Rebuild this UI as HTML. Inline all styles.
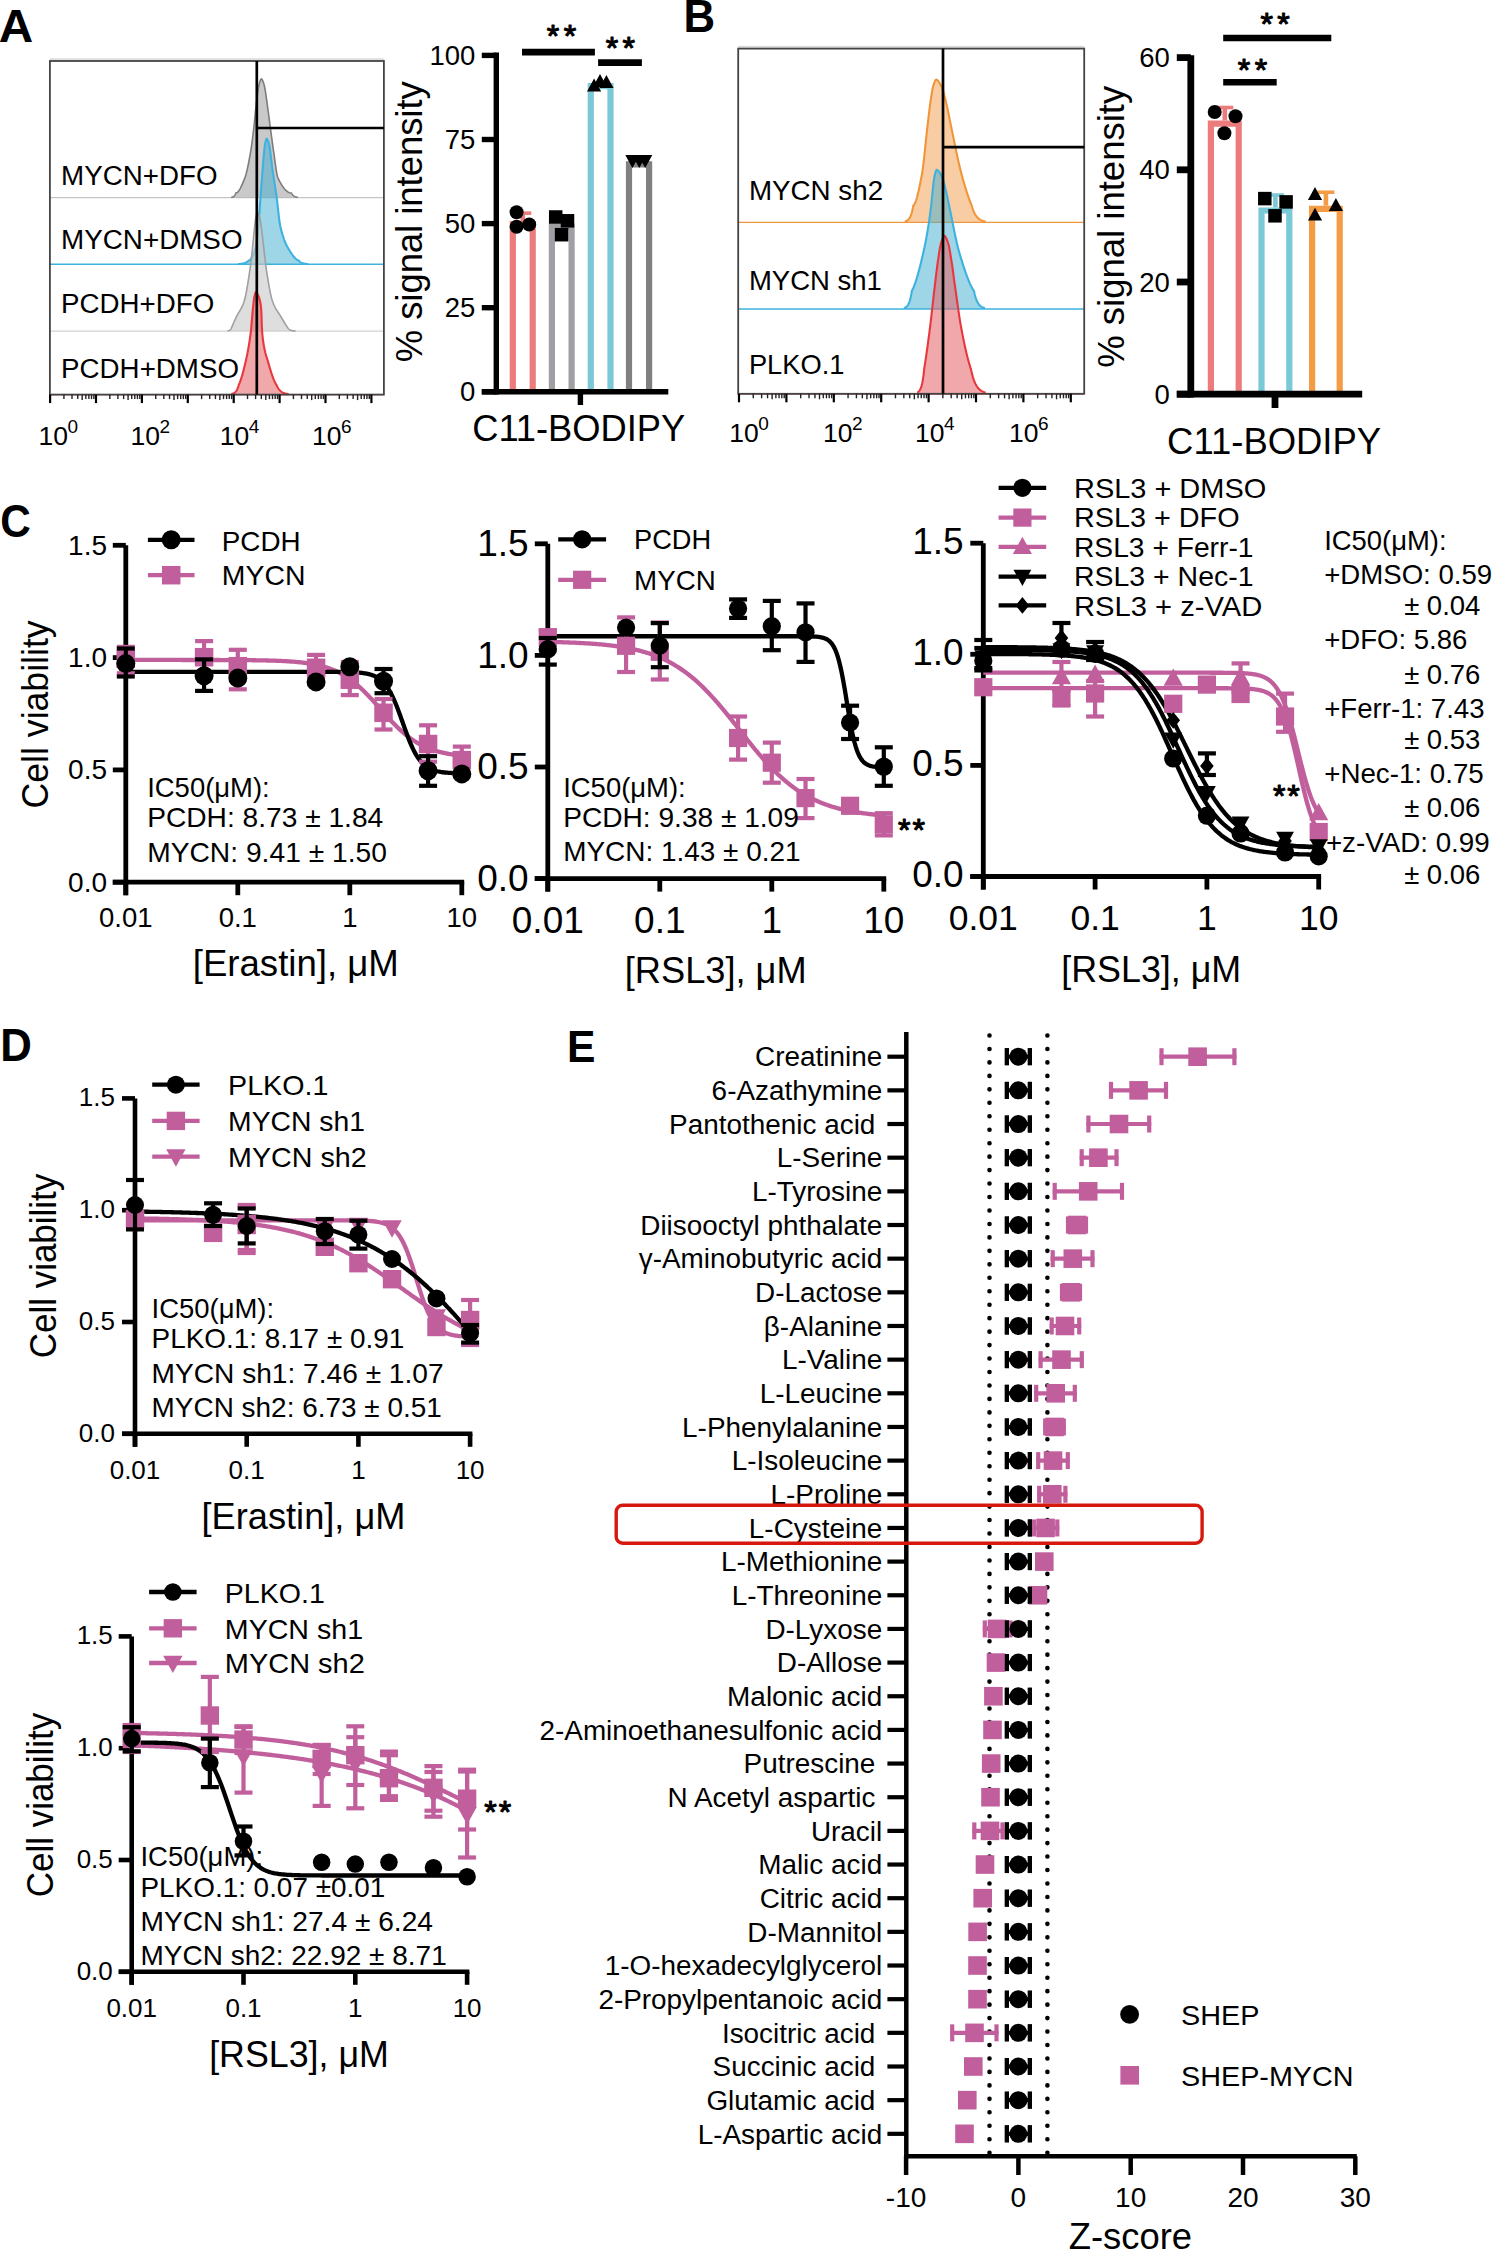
<!DOCTYPE html>
<html><head><meta charset="utf-8"><title>Figure</title>
<style>html,body{margin:0;padding:0;background:#fff;}svg{display:block;}
text{font-family:"Liberation Sans",sans-serif;}</style></head>
<body><svg width="1493" height="2250" viewBox="0 0 1493 2250">
<rect width="1493" height="2250" fill="#fff"/>
<text transform="translate(-1.19,42.23) scale(1.0432,1)" font-size="45.77" font-weight="bold">A</text>
<line x1="49.90" y1="197.60" x2="383.90" y2="197.60" stroke="#c4c4c4" stroke-width="1.4"/>
<line x1="49.90" y1="264.30" x2="383.90" y2="264.30" stroke="#3db2e0" stroke-width="1.4"/>
<line x1="49.90" y1="331.10" x2="383.90" y2="331.10" stroke="#d2d2d2" stroke-width="1.4"/>
<line x1="49.90" y1="394.60" x2="383.90" y2="394.60" stroke="#e8383e" stroke-width="1.4"/>
<path d="M231.20,197.38 L231.39,197.35 L231.57,197.31 L231.76,197.27 L231.95,197.23 L232.14,197.18 L232.32,197.12 L232.51,197.06 L232.70,196.99 L232.89,196.91 L233.07,196.82 L233.26,196.71 L233.45,196.59 L233.64,196.46 L233.82,196.31 L234.01,196.14 L234.20,195.94 L234.39,195.72 L234.57,195.47 L234.76,195.19 L234.95,194.86 L235.14,194.50 L235.32,194.09 L235.51,193.62 L235.70,193.09 L236.22,193.02 L236.75,192.80 L237.27,192.46 L237.80,191.99 L238.32,191.40 L238.85,190.71 L239.37,189.92 L239.90,189.05 L240.42,188.09 L240.94,187.05 L241.47,185.95 L241.99,184.80 L242.52,183.60 L243.04,182.35 L243.57,181.08 L244.09,179.79 L244.62,178.48 L245.14,177.11 L245.67,175.51 L246.19,173.68 L246.71,171.65 L247.24,169.43 L247.76,167.04 L248.29,164.49 L248.81,161.80 L249.34,159.00 L249.86,156.10 L250.39,153.12 L250.91,150.06 L251.43,146.70 L251.96,142.99 L252.48,138.98 L253.01,134.74 L253.53,130.33 L254.06,125.74 L254.58,120.61 L255.11,115.18 L255.63,109.82 L256.16,104.88 L256.68,100.36 L257.20,96.35 L257.73,92.41 L258.25,88.76 L258.78,85.74 L259.30,83.64 L259.83,81.93 L260.35,80.46 L260.88,79.40 L261.40,78.90 L262.02,79.43 L262.63,80.56 L263.25,82.12 L263.87,83.92 L264.48,86.25 L265.10,89.55 L265.71,93.44 L266.33,97.55 L266.95,101.90 L267.56,106.59 L268.18,111.25 L268.80,115.93 L269.41,120.61 L270.03,125.27 L270.64,129.87 L271.26,134.51 L271.88,139.13 L272.49,143.68 L273.11,148.06 L273.73,152.25 L274.34,156.67 L274.96,161.23 L275.58,165.70 L276.19,169.86 L276.81,173.47 L277.42,176.29 L278.04,178.10 L278.66,179.38 L279.27,180.60 L279.89,181.78 L280.51,182.90 L281.12,183.96 L281.74,184.97 L282.36,185.93 L282.97,186.83 L283.59,187.67 L284.20,188.45 L284.82,189.18 L285.44,189.85 L286.05,190.45 L286.67,191.00 L287.29,191.48 L287.90,191.90 L288.52,192.26 L289.13,192.56 L289.75,192.79 L290.37,192.96 L290.98,193.06 L291.60,193.09 L291.86,193.62 L292.12,194.09 L292.38,194.50 L292.63,194.86 L292.89,195.19 L293.15,195.47 L293.41,195.72 L293.67,195.94 L293.92,196.14 L294.18,196.31 L294.44,196.46 L294.70,196.59 L294.96,196.71 L295.22,196.82 L295.47,196.91 L295.73,196.99 L295.99,197.06 L296.25,197.12 L296.51,197.18 L296.77,197.23 L297.02,197.27 L297.28,197.31 L297.54,197.35 L297.80,197.38 L297.80,197.60 L231.20,197.60 Z" fill="#a8a8a8" fill-opacity="0.62" stroke="none"/>
<path d="M231.20,197.38 L231.39,197.35 L231.57,197.31 L231.76,197.27 L231.95,197.23 L232.14,197.18 L232.32,197.12 L232.51,197.06 L232.70,196.99 L232.89,196.91 L233.07,196.82 L233.26,196.71 L233.45,196.59 L233.64,196.46 L233.82,196.31 L234.01,196.14 L234.20,195.94 L234.39,195.72 L234.57,195.47 L234.76,195.19 L234.95,194.86 L235.14,194.50 L235.32,194.09 L235.51,193.62 L235.70,193.09 L236.22,193.02 L236.75,192.80 L237.27,192.46 L237.80,191.99 L238.32,191.40 L238.85,190.71 L239.37,189.92 L239.90,189.05 L240.42,188.09 L240.94,187.05 L241.47,185.95 L241.99,184.80 L242.52,183.60 L243.04,182.35 L243.57,181.08 L244.09,179.79 L244.62,178.48 L245.14,177.11 L245.67,175.51 L246.19,173.68 L246.71,171.65 L247.24,169.43 L247.76,167.04 L248.29,164.49 L248.81,161.80 L249.34,159.00 L249.86,156.10 L250.39,153.12 L250.91,150.06 L251.43,146.70 L251.96,142.99 L252.48,138.98 L253.01,134.74 L253.53,130.33 L254.06,125.74 L254.58,120.61 L255.11,115.18 L255.63,109.82 L256.16,104.88 L256.68,100.36 L257.20,96.35 L257.73,92.41 L258.25,88.76 L258.78,85.74 L259.30,83.64 L259.83,81.93 L260.35,80.46 L260.88,79.40 L261.40,78.90 L262.02,79.43 L262.63,80.56 L263.25,82.12 L263.87,83.92 L264.48,86.25 L265.10,89.55 L265.71,93.44 L266.33,97.55 L266.95,101.90 L267.56,106.59 L268.18,111.25 L268.80,115.93 L269.41,120.61 L270.03,125.27 L270.64,129.87 L271.26,134.51 L271.88,139.13 L272.49,143.68 L273.11,148.06 L273.73,152.25 L274.34,156.67 L274.96,161.23 L275.58,165.70 L276.19,169.86 L276.81,173.47 L277.42,176.29 L278.04,178.10 L278.66,179.38 L279.27,180.60 L279.89,181.78 L280.51,182.90 L281.12,183.96 L281.74,184.97 L282.36,185.93 L282.97,186.83 L283.59,187.67 L284.20,188.45 L284.82,189.18 L285.44,189.85 L286.05,190.45 L286.67,191.00 L287.29,191.48 L287.90,191.90 L288.52,192.26 L289.13,192.56 L289.75,192.79 L290.37,192.96 L290.98,193.06 L291.60,193.09 L291.86,193.62 L292.12,194.09 L292.38,194.50 L292.63,194.86 L292.89,195.19 L293.15,195.47 L293.41,195.72 L293.67,195.94 L293.92,196.14 L294.18,196.31 L294.44,196.46 L294.70,196.59 L294.96,196.71 L295.22,196.82 L295.47,196.91 L295.73,196.99 L295.99,197.06 L296.25,197.12 L296.51,197.18 L296.77,197.23 L297.02,197.27 L297.28,197.31 L297.54,197.35 L297.80,197.38" fill="none" stroke="#7d7d7d" stroke-width="1.6" stroke-linejoin="round"/>
<path d="M238.00,264.11 L238.45,264.09 L238.89,264.06 L239.34,264.03 L239.78,263.99 L240.23,263.95 L240.67,263.90 L241.12,263.85 L241.57,263.79 L242.01,263.72 L242.46,263.64 L242.90,263.56 L243.35,263.46 L243.80,263.35 L244.24,263.22 L244.69,263.08 L245.13,262.91 L245.58,262.73 L246.02,262.52 L246.47,262.28 L246.92,262.01 L247.36,261.71 L247.81,261.36 L248.25,260.97 L248.70,260.53 L249.07,260.48 L249.43,260.35 L249.80,260.14 L250.17,259.84 L250.54,259.47 L250.90,259.02 L251.27,258.50 L251.64,257.91 L252.01,257.26 L252.37,256.54 L252.74,255.76 L253.11,254.93 L253.48,254.05 L253.84,253.11 L254.21,252.13 L254.58,251.10 L254.94,250.03 L255.31,248.93 L255.68,247.53 L256.05,245.65 L256.41,243.36 L256.78,240.70 L257.15,237.75 L257.52,234.55 L257.88,231.17 L258.25,227.66 L258.62,223.92 L258.99,219.41 L259.35,214.30 L259.72,208.86 L260.09,203.35 L260.46,198.03 L260.82,193.05 L261.19,188.12 L261.56,183.20 L261.92,178.32 L262.29,173.51 L262.66,168.79 L263.03,164.16 L263.39,159.72 L263.76,155.71 L264.13,151.76 L264.50,148.19 L264.86,145.31 L265.23,143.32 L265.60,141.60 L265.97,140.14 L266.33,139.09 L266.70,138.60 L267.35,139.33 L268.01,140.90 L268.66,143.01 L269.31,145.55 L269.97,149.46 L270.62,154.30 L271.27,159.41 L271.92,165.14 L272.58,170.08 L273.23,174.61 L273.88,178.87 L274.54,183.00 L275.19,187.14 L275.84,191.44 L276.50,196.02 L277.15,201.24 L277.80,207.08 L278.46,213.03 L279.11,218.61 L279.76,223.32 L280.41,226.71 L281.07,229.40 L281.72,231.89 L282.37,234.19 L283.03,236.31 L283.68,238.27 L284.33,240.08 L284.99,241.75 L285.64,243.28 L286.29,244.70 L286.94,246.02 L287.60,247.24 L288.25,248.38 L288.90,249.46 L289.56,250.52 L290.21,251.56 L290.86,252.57 L291.52,253.55 L292.17,254.50 L292.82,255.40 L293.48,256.26 L294.13,257.05 L294.78,257.79 L295.43,258.45 L296.09,259.04 L296.74,259.55 L297.39,259.97 L298.05,260.30 L298.70,260.53 L299.10,260.97 L299.49,261.36 L299.89,261.71 L300.28,262.01 L300.68,262.28 L301.07,262.52 L301.47,262.73 L301.87,262.91 L302.26,263.08 L302.66,263.22 L303.05,263.35 L303.45,263.46 L303.85,263.56 L304.24,263.64 L304.64,263.72 L305.03,263.79 L305.43,263.85 L305.82,263.90 L306.22,263.95 L306.62,263.99 L307.01,264.03 L307.41,264.06 L307.80,264.09 L308.20,264.11 L308.20,264.30 L238.00,264.30 Z" fill="#40aed0" fill-opacity="0.5" stroke="none"/>
<path d="M238.00,264.11 L238.45,264.09 L238.89,264.06 L239.34,264.03 L239.78,263.99 L240.23,263.95 L240.67,263.90 L241.12,263.85 L241.57,263.79 L242.01,263.72 L242.46,263.64 L242.90,263.56 L243.35,263.46 L243.80,263.35 L244.24,263.22 L244.69,263.08 L245.13,262.91 L245.58,262.73 L246.02,262.52 L246.47,262.28 L246.92,262.01 L247.36,261.71 L247.81,261.36 L248.25,260.97 L248.70,260.53 L249.07,260.48 L249.43,260.35 L249.80,260.14 L250.17,259.84 L250.54,259.47 L250.90,259.02 L251.27,258.50 L251.64,257.91 L252.01,257.26 L252.37,256.54 L252.74,255.76 L253.11,254.93 L253.48,254.05 L253.84,253.11 L254.21,252.13 L254.58,251.10 L254.94,250.03 L255.31,248.93 L255.68,247.53 L256.05,245.65 L256.41,243.36 L256.78,240.70 L257.15,237.75 L257.52,234.55 L257.88,231.17 L258.25,227.66 L258.62,223.92 L258.99,219.41 L259.35,214.30 L259.72,208.86 L260.09,203.35 L260.46,198.03 L260.82,193.05 L261.19,188.12 L261.56,183.20 L261.92,178.32 L262.29,173.51 L262.66,168.79 L263.03,164.16 L263.39,159.72 L263.76,155.71 L264.13,151.76 L264.50,148.19 L264.86,145.31 L265.23,143.32 L265.60,141.60 L265.97,140.14 L266.33,139.09 L266.70,138.60 L267.35,139.33 L268.01,140.90 L268.66,143.01 L269.31,145.55 L269.97,149.46 L270.62,154.30 L271.27,159.41 L271.92,165.14 L272.58,170.08 L273.23,174.61 L273.88,178.87 L274.54,183.00 L275.19,187.14 L275.84,191.44 L276.50,196.02 L277.15,201.24 L277.80,207.08 L278.46,213.03 L279.11,218.61 L279.76,223.32 L280.41,226.71 L281.07,229.40 L281.72,231.89 L282.37,234.19 L283.03,236.31 L283.68,238.27 L284.33,240.08 L284.99,241.75 L285.64,243.28 L286.29,244.70 L286.94,246.02 L287.60,247.24 L288.25,248.38 L288.90,249.46 L289.56,250.52 L290.21,251.56 L290.86,252.57 L291.52,253.55 L292.17,254.50 L292.82,255.40 L293.48,256.26 L294.13,257.05 L294.78,257.79 L295.43,258.45 L296.09,259.04 L296.74,259.55 L297.39,259.97 L298.05,260.30 L298.70,260.53 L299.10,260.97 L299.49,261.36 L299.89,261.71 L300.28,262.01 L300.68,262.28 L301.07,262.52 L301.47,262.73 L301.87,262.91 L302.26,263.08 L302.66,263.22 L303.05,263.35 L303.45,263.46 L303.85,263.56 L304.24,263.64 L304.64,263.72 L305.03,263.79 L305.43,263.85 L305.82,263.90 L306.22,263.95 L306.62,263.99 L307.01,264.03 L307.41,264.06 L307.80,264.09 L308.20,264.11" fill="none" stroke="#3db2e0" stroke-width="2.1" stroke-linejoin="round"/>
<path d="M227.60,330.92 L227.77,330.90 L227.93,330.87 L228.10,330.84 L228.27,330.81 L228.43,330.77 L228.60,330.73 L228.77,330.68 L228.93,330.62 L229.10,330.55 L229.27,330.48 L229.43,330.40 L229.60,330.31 L229.77,330.20 L229.93,330.08 L230.10,329.95 L230.27,329.79 L230.43,329.62 L230.60,329.42 L230.77,329.20 L230.93,328.94 L231.10,328.66 L231.27,328.33 L231.43,327.96 L231.60,327.55 L232.13,326.32 L232.66,325.11 L233.19,323.91 L233.72,322.72 L234.25,321.53 L234.78,320.36 L235.31,319.21 L235.84,318.06 L236.38,316.93 L236.91,315.85 L237.44,314.84 L237.97,313.88 L238.50,312.97 L239.03,312.08 L239.56,311.19 L240.09,310.30 L240.62,309.38 L241.15,308.41 L241.68,307.38 L242.21,306.28 L242.74,305.08 L243.27,303.77 L243.80,302.34 L244.33,300.74 L244.87,298.83 L245.40,296.61 L245.93,294.12 L246.46,291.37 L246.99,288.42 L247.52,285.29 L248.05,282.00 L248.58,278.60 L249.11,275.11 L249.64,271.58 L250.17,267.82 L250.70,263.73 L251.23,259.35 L251.76,254.72 L252.29,249.89 L252.82,244.88 L253.36,239.56 L253.89,233.65 L254.42,228.56 L254.95,223.70 L255.48,219.66 L256.01,217.01 L256.54,214.92 L257.07,213.34 L257.60,212.60 L258.21,213.27 L258.82,214.71 L259.44,216.64 L260.05,218.94 L260.66,222.46 L261.27,226.88 L261.89,231.62 L262.50,236.79 L263.11,242.31 L263.72,247.65 L264.33,253.08 L264.95,258.43 L265.56,263.54 L266.17,268.24 L266.78,272.38 L267.40,276.23 L268.01,279.99 L268.62,283.62 L269.23,287.07 L269.84,290.33 L270.46,293.34 L271.07,296.08 L271.68,298.50 L272.29,300.58 L272.91,302.30 L273.52,303.85 L274.13,305.26 L274.74,306.56 L275.36,307.75 L275.97,308.87 L276.58,309.91 L277.19,310.91 L277.80,311.87 L278.42,312.80 L279.03,313.73 L279.64,314.67 L280.25,315.64 L280.87,316.65 L281.48,317.69 L282.09,318.73 L282.70,319.75 L283.31,320.77 L283.93,321.77 L284.54,322.76 L285.15,323.74 L285.76,324.70 L286.38,325.66 L286.99,326.61 L287.60,327.55 L287.93,328.02 L288.27,328.43 L288.60,328.78 L288.93,329.09 L289.27,329.36 L289.60,329.59 L289.93,329.79 L290.27,329.96 L290.60,330.11 L290.93,330.25 L291.27,330.36 L291.60,330.46 L291.93,330.54 L292.27,330.62 L292.60,330.68 L292.93,330.74 L293.27,330.78 L293.60,330.83 L293.93,330.86 L294.27,330.89 L294.60,330.92 L294.93,330.95 L295.27,330.97 L295.60,330.98 L295.60,331.10 L227.60,331.10 Z" fill="#c8c8c8" fill-opacity="0.6" stroke="none"/>
<path d="M227.60,330.92 L227.77,330.90 L227.93,330.87 L228.10,330.84 L228.27,330.81 L228.43,330.77 L228.60,330.73 L228.77,330.68 L228.93,330.62 L229.10,330.55 L229.27,330.48 L229.43,330.40 L229.60,330.31 L229.77,330.20 L229.93,330.08 L230.10,329.95 L230.27,329.79 L230.43,329.62 L230.60,329.42 L230.77,329.20 L230.93,328.94 L231.10,328.66 L231.27,328.33 L231.43,327.96 L231.60,327.55 L232.13,326.32 L232.66,325.11 L233.19,323.91 L233.72,322.72 L234.25,321.53 L234.78,320.36 L235.31,319.21 L235.84,318.06 L236.38,316.93 L236.91,315.85 L237.44,314.84 L237.97,313.88 L238.50,312.97 L239.03,312.08 L239.56,311.19 L240.09,310.30 L240.62,309.38 L241.15,308.41 L241.68,307.38 L242.21,306.28 L242.74,305.08 L243.27,303.77 L243.80,302.34 L244.33,300.74 L244.87,298.83 L245.40,296.61 L245.93,294.12 L246.46,291.37 L246.99,288.42 L247.52,285.29 L248.05,282.00 L248.58,278.60 L249.11,275.11 L249.64,271.58 L250.17,267.82 L250.70,263.73 L251.23,259.35 L251.76,254.72 L252.29,249.89 L252.82,244.88 L253.36,239.56 L253.89,233.65 L254.42,228.56 L254.95,223.70 L255.48,219.66 L256.01,217.01 L256.54,214.92 L257.07,213.34 L257.60,212.60 L258.21,213.27 L258.82,214.71 L259.44,216.64 L260.05,218.94 L260.66,222.46 L261.27,226.88 L261.89,231.62 L262.50,236.79 L263.11,242.31 L263.72,247.65 L264.33,253.08 L264.95,258.43 L265.56,263.54 L266.17,268.24 L266.78,272.38 L267.40,276.23 L268.01,279.99 L268.62,283.62 L269.23,287.07 L269.84,290.33 L270.46,293.34 L271.07,296.08 L271.68,298.50 L272.29,300.58 L272.91,302.30 L273.52,303.85 L274.13,305.26 L274.74,306.56 L275.36,307.75 L275.97,308.87 L276.58,309.91 L277.19,310.91 L277.80,311.87 L278.42,312.80 L279.03,313.73 L279.64,314.67 L280.25,315.64 L280.87,316.65 L281.48,317.69 L282.09,318.73 L282.70,319.75 L283.31,320.77 L283.93,321.77 L284.54,322.76 L285.15,323.74 L285.76,324.70 L286.38,325.66 L286.99,326.61 L287.60,327.55 L287.93,328.02 L288.27,328.43 L288.60,328.78 L288.93,329.09 L289.27,329.36 L289.60,329.59 L289.93,329.79 L290.27,329.96 L290.60,330.11 L290.93,330.25 L291.27,330.36 L291.60,330.46 L291.93,330.54 L292.27,330.62 L292.60,330.68 L292.93,330.74 L293.27,330.78 L293.60,330.83 L293.93,330.86 L294.27,330.89 L294.60,330.92 L294.93,330.95 L295.27,330.97 L295.60,330.98" fill="none" stroke="#a0a0a0" stroke-width="1.6" stroke-linejoin="round"/>
<path d="M231.20,394.12 L231.51,394.06 L231.82,393.98 L232.14,393.90 L232.45,393.81 L232.76,393.70 L233.07,393.58 L233.39,393.45 L233.70,393.29 L234.01,393.12 L234.32,392.92 L234.64,392.70 L234.95,392.45 L235.26,392.16 L235.57,391.84 L235.89,391.47 L236.20,391.05 L236.51,390.58 L236.82,390.04 L237.14,389.44 L237.45,388.75 L237.76,387.97 L238.07,387.09 L238.39,386.09 L238.70,384.96 L239.05,384.22 L239.41,383.42 L239.76,382.56 L240.11,381.64 L240.47,380.67 L240.82,379.65 L241.17,378.58 L241.52,377.46 L241.88,376.29 L242.23,375.09 L242.58,373.84 L242.94,372.55 L243.29,371.23 L243.64,369.87 L244.00,368.48 L244.35,367.07 L244.70,365.63 L245.06,364.16 L245.41,362.67 L245.76,361.16 L246.11,359.61 L246.47,358.02 L246.82,356.37 L247.17,354.67 L247.53,352.90 L247.88,351.06 L248.23,349.13 L248.59,347.12 L248.94,345.01 L249.29,342.80 L249.64,340.47 L250.00,338.03 L250.35,335.47 L250.70,332.77 L251.06,329.72 L251.41,325.91 L251.76,321.63 L252.12,317.22 L252.47,312.99 L252.82,309.28 L253.18,305.99 L253.53,302.76 L253.88,299.84 L254.23,297.49 L254.59,295.86 L254.94,294.46 L255.29,293.26 L255.65,292.40 L256.00,292.00 L256.42,292.23 L256.84,292.72 L257.26,293.40 L257.67,294.25 L258.09,295.22 L258.51,296.25 L258.93,297.32 L259.35,298.51 L259.77,299.94 L260.18,301.76 L260.60,304.10 L261.02,307.12 L261.44,313.01 L261.86,326.80 L262.28,333.74 L262.69,337.51 L263.11,340.84 L263.53,343.76 L263.95,346.33 L264.37,348.58 L264.79,350.57 L265.20,352.33 L265.62,353.90 L266.04,355.35 L266.46,356.69 L266.88,357.99 L267.30,359.29 L267.71,360.62 L268.13,362.04 L268.55,363.53 L268.97,365.00 L269.39,366.45 L269.81,367.87 L270.22,369.27 L270.64,370.63 L271.06,371.97 L271.48,373.26 L271.90,374.52 L272.32,375.73 L272.73,376.90 L273.15,378.02 L273.57,379.10 L273.99,380.12 L274.41,381.08 L274.83,381.98 L275.24,382.83 L275.66,383.60 L276.08,384.31 L276.50,384.96 L277.00,386.09 L277.51,387.09 L278.01,387.97 L278.52,388.75 L279.02,389.44 L279.52,390.04 L280.03,390.58 L280.53,391.05 L281.04,391.47 L281.54,391.84 L282.05,392.16 L282.55,392.45 L283.05,392.70 L283.56,392.92 L284.06,393.12 L284.57,393.29 L285.07,393.45 L285.57,393.58 L286.08,393.70 L286.58,393.81 L287.09,393.90 L287.59,393.98 L288.10,394.06 L288.60,394.12 L288.60,394.60 L231.20,394.60 Z" fill="#e46166" fill-opacity="0.55" stroke="none"/>
<path d="M231.20,394.12 L231.51,394.06 L231.82,393.98 L232.14,393.90 L232.45,393.81 L232.76,393.70 L233.07,393.58 L233.39,393.45 L233.70,393.29 L234.01,393.12 L234.32,392.92 L234.64,392.70 L234.95,392.45 L235.26,392.16 L235.57,391.84 L235.89,391.47 L236.20,391.05 L236.51,390.58 L236.82,390.04 L237.14,389.44 L237.45,388.75 L237.76,387.97 L238.07,387.09 L238.39,386.09 L238.70,384.96 L239.05,384.22 L239.41,383.42 L239.76,382.56 L240.11,381.64 L240.47,380.67 L240.82,379.65 L241.17,378.58 L241.52,377.46 L241.88,376.29 L242.23,375.09 L242.58,373.84 L242.94,372.55 L243.29,371.23 L243.64,369.87 L244.00,368.48 L244.35,367.07 L244.70,365.63 L245.06,364.16 L245.41,362.67 L245.76,361.16 L246.11,359.61 L246.47,358.02 L246.82,356.37 L247.17,354.67 L247.53,352.90 L247.88,351.06 L248.23,349.13 L248.59,347.12 L248.94,345.01 L249.29,342.80 L249.64,340.47 L250.00,338.03 L250.35,335.47 L250.70,332.77 L251.06,329.72 L251.41,325.91 L251.76,321.63 L252.12,317.22 L252.47,312.99 L252.82,309.28 L253.18,305.99 L253.53,302.76 L253.88,299.84 L254.23,297.49 L254.59,295.86 L254.94,294.46 L255.29,293.26 L255.65,292.40 L256.00,292.00 L256.42,292.23 L256.84,292.72 L257.26,293.40 L257.67,294.25 L258.09,295.22 L258.51,296.25 L258.93,297.32 L259.35,298.51 L259.77,299.94 L260.18,301.76 L260.60,304.10 L261.02,307.12 L261.44,313.01 L261.86,326.80 L262.28,333.74 L262.69,337.51 L263.11,340.84 L263.53,343.76 L263.95,346.33 L264.37,348.58 L264.79,350.57 L265.20,352.33 L265.62,353.90 L266.04,355.35 L266.46,356.69 L266.88,357.99 L267.30,359.29 L267.71,360.62 L268.13,362.04 L268.55,363.53 L268.97,365.00 L269.39,366.45 L269.81,367.87 L270.22,369.27 L270.64,370.63 L271.06,371.97 L271.48,373.26 L271.90,374.52 L272.32,375.73 L272.73,376.90 L273.15,378.02 L273.57,379.10 L273.99,380.12 L274.41,381.08 L274.83,381.98 L275.24,382.83 L275.66,383.60 L276.08,384.31 L276.50,384.96 L277.00,386.09 L277.51,387.09 L278.01,387.97 L278.52,388.75 L279.02,389.44 L279.52,390.04 L280.03,390.58 L280.53,391.05 L281.04,391.47 L281.54,391.84 L282.05,392.16 L282.55,392.45 L283.05,392.70 L283.56,392.92 L284.06,393.12 L284.57,393.29 L285.07,393.45 L285.57,393.58 L286.08,393.70 L286.58,393.81 L287.09,393.90 L287.59,393.98 L288.10,394.06 L288.60,394.12" fill="none" stroke="#e8383e" stroke-width="2.1" stroke-linejoin="round"/>
<line x1="49.90" y1="59.10" x2="383.90" y2="59.10" stroke="#dedede" stroke-width="1.9"/>
<rect x="49.9" y="61.0" width="334.0" height="333.6" fill="none" stroke="#444" stroke-width="1.8"/>
<line x1="256.80" y1="61.00" x2="256.80" y2="394.60" stroke="#000" stroke-width="2.7"/>
<line x1="256.80" y1="128.00" x2="383.90" y2="128.00" stroke="#000" stroke-width="2.7"/>
<line x1="50.10" y1="394.60" x2="50.10" y2="403.10" stroke="#000" stroke-width="2.2"/>
<line x1="63.92" y1="394.60" x2="63.92" y2="399.10" stroke="#222" stroke-width="1.4"/>
<line x1="72.00" y1="394.60" x2="72.00" y2="399.10" stroke="#222" stroke-width="1.4"/>
<line x1="77.73" y1="394.60" x2="77.73" y2="399.10" stroke="#222" stroke-width="1.4"/>
<line x1="82.18" y1="394.60" x2="82.18" y2="400.10" stroke="#222" stroke-width="1.4"/>
<line x1="85.82" y1="394.60" x2="85.82" y2="399.10" stroke="#222" stroke-width="1.4"/>
<line x1="88.89" y1="394.60" x2="88.89" y2="399.10" stroke="#222" stroke-width="1.4"/>
<line x1="91.55" y1="394.60" x2="91.55" y2="399.10" stroke="#222" stroke-width="1.4"/>
<line x1="93.90" y1="394.60" x2="93.90" y2="399.10" stroke="#222" stroke-width="1.4"/>
<line x1="96.00" y1="394.60" x2="96.00" y2="403.10" stroke="#000" stroke-width="2.2"/>
<line x1="109.82" y1="394.60" x2="109.82" y2="399.10" stroke="#222" stroke-width="1.4"/>
<line x1="117.90" y1="394.60" x2="117.90" y2="399.10" stroke="#222" stroke-width="1.4"/>
<line x1="123.63" y1="394.60" x2="123.63" y2="399.10" stroke="#222" stroke-width="1.4"/>
<line x1="128.08" y1="394.60" x2="128.08" y2="400.10" stroke="#222" stroke-width="1.4"/>
<line x1="131.72" y1="394.60" x2="131.72" y2="399.10" stroke="#222" stroke-width="1.4"/>
<line x1="134.79" y1="394.60" x2="134.79" y2="399.10" stroke="#222" stroke-width="1.4"/>
<line x1="137.45" y1="394.60" x2="137.45" y2="399.10" stroke="#222" stroke-width="1.4"/>
<line x1="139.80" y1="394.60" x2="139.80" y2="399.10" stroke="#222" stroke-width="1.4"/>
<line x1="141.90" y1="394.60" x2="141.90" y2="403.10" stroke="#000" stroke-width="2.2"/>
<line x1="155.72" y1="394.60" x2="155.72" y2="399.10" stroke="#222" stroke-width="1.4"/>
<line x1="163.80" y1="394.60" x2="163.80" y2="399.10" stroke="#222" stroke-width="1.4"/>
<line x1="169.53" y1="394.60" x2="169.53" y2="399.10" stroke="#222" stroke-width="1.4"/>
<line x1="173.98" y1="394.60" x2="173.98" y2="400.10" stroke="#222" stroke-width="1.4"/>
<line x1="177.62" y1="394.60" x2="177.62" y2="399.10" stroke="#222" stroke-width="1.4"/>
<line x1="180.69" y1="394.60" x2="180.69" y2="399.10" stroke="#222" stroke-width="1.4"/>
<line x1="183.35" y1="394.60" x2="183.35" y2="399.10" stroke="#222" stroke-width="1.4"/>
<line x1="185.70" y1="394.60" x2="185.70" y2="399.10" stroke="#222" stroke-width="1.4"/>
<line x1="187.80" y1="394.60" x2="187.80" y2="403.10" stroke="#000" stroke-width="2.2"/>
<line x1="201.62" y1="394.60" x2="201.62" y2="399.10" stroke="#222" stroke-width="1.4"/>
<line x1="209.70" y1="394.60" x2="209.70" y2="399.10" stroke="#222" stroke-width="1.4"/>
<line x1="215.43" y1="394.60" x2="215.43" y2="399.10" stroke="#222" stroke-width="1.4"/>
<line x1="219.88" y1="394.60" x2="219.88" y2="400.10" stroke="#222" stroke-width="1.4"/>
<line x1="223.52" y1="394.60" x2="223.52" y2="399.10" stroke="#222" stroke-width="1.4"/>
<line x1="226.59" y1="394.60" x2="226.59" y2="399.10" stroke="#222" stroke-width="1.4"/>
<line x1="229.25" y1="394.60" x2="229.25" y2="399.10" stroke="#222" stroke-width="1.4"/>
<line x1="231.60" y1="394.60" x2="231.60" y2="399.10" stroke="#222" stroke-width="1.4"/>
<line x1="233.70" y1="394.60" x2="233.70" y2="403.10" stroke="#000" stroke-width="2.2"/>
<line x1="247.52" y1="394.60" x2="247.52" y2="399.10" stroke="#222" stroke-width="1.4"/>
<line x1="255.60" y1="394.60" x2="255.60" y2="399.10" stroke="#222" stroke-width="1.4"/>
<line x1="261.33" y1="394.60" x2="261.33" y2="399.10" stroke="#222" stroke-width="1.4"/>
<line x1="265.78" y1="394.60" x2="265.78" y2="400.10" stroke="#222" stroke-width="1.4"/>
<line x1="269.42" y1="394.60" x2="269.42" y2="399.10" stroke="#222" stroke-width="1.4"/>
<line x1="272.49" y1="394.60" x2="272.49" y2="399.10" stroke="#222" stroke-width="1.4"/>
<line x1="275.15" y1="394.60" x2="275.15" y2="399.10" stroke="#222" stroke-width="1.4"/>
<line x1="277.50" y1="394.60" x2="277.50" y2="399.10" stroke="#222" stroke-width="1.4"/>
<line x1="279.60" y1="394.60" x2="279.60" y2="403.10" stroke="#000" stroke-width="2.2"/>
<line x1="293.42" y1="394.60" x2="293.42" y2="399.10" stroke="#222" stroke-width="1.4"/>
<line x1="301.50" y1="394.60" x2="301.50" y2="399.10" stroke="#222" stroke-width="1.4"/>
<line x1="307.23" y1="394.60" x2="307.23" y2="399.10" stroke="#222" stroke-width="1.4"/>
<line x1="311.68" y1="394.60" x2="311.68" y2="400.10" stroke="#222" stroke-width="1.4"/>
<line x1="315.32" y1="394.60" x2="315.32" y2="399.10" stroke="#222" stroke-width="1.4"/>
<line x1="318.39" y1="394.60" x2="318.39" y2="399.10" stroke="#222" stroke-width="1.4"/>
<line x1="321.05" y1="394.60" x2="321.05" y2="399.10" stroke="#222" stroke-width="1.4"/>
<line x1="323.40" y1="394.60" x2="323.40" y2="399.10" stroke="#222" stroke-width="1.4"/>
<line x1="325.50" y1="394.60" x2="325.50" y2="403.10" stroke="#000" stroke-width="2.2"/>
<line x1="339.32" y1="394.60" x2="339.32" y2="399.10" stroke="#222" stroke-width="1.4"/>
<line x1="347.40" y1="394.60" x2="347.40" y2="399.10" stroke="#222" stroke-width="1.4"/>
<line x1="353.13" y1="394.60" x2="353.13" y2="399.10" stroke="#222" stroke-width="1.4"/>
<line x1="357.58" y1="394.60" x2="357.58" y2="400.10" stroke="#222" stroke-width="1.4"/>
<line x1="361.22" y1="394.60" x2="361.22" y2="399.10" stroke="#222" stroke-width="1.4"/>
<line x1="364.29" y1="394.60" x2="364.29" y2="399.10" stroke="#222" stroke-width="1.4"/>
<line x1="366.95" y1="394.60" x2="366.95" y2="399.10" stroke="#222" stroke-width="1.4"/>
<line x1="369.30" y1="394.60" x2="369.30" y2="399.10" stroke="#222" stroke-width="1.4"/>
<line x1="371.40" y1="394.60" x2="371.40" y2="403.10" stroke="#000" stroke-width="2.2"/>
<text x="61.10" y="184.90" font-size="27.00" textLength="156.50" lengthAdjust="spacingAndGlyphs">MYCN+DFO</text>
<text x="61.10" y="249.20" font-size="27.00" textLength="181.40" lengthAdjust="spacingAndGlyphs">MYCN+DMSO</text>
<text x="61.10" y="312.90" font-size="27.00" textLength="153.20" lengthAdjust="spacingAndGlyphs">PCDH+DFO</text>
<text x="61.10" y="377.80" font-size="27.00" textLength="177.90" lengthAdjust="spacingAndGlyphs">PCDH+DMSO</text>
<text x="38.60" y="444.70" font-size="26.50">10</text>
<text x="67.60" y="432.70" font-size="19.00">0</text>
<text x="130.40" y="444.70" font-size="26.50">10</text>
<text x="159.40" y="432.70" font-size="19.00">2</text>
<text x="219.70" y="444.70" font-size="26.50">10</text>
<text x="248.70" y="432.70" font-size="19.00">4</text>
<text x="312.00" y="444.70" font-size="26.50">10</text>
<text x="341.00" y="432.70" font-size="19.00">6</text>
<path d="M512.80,391.80 L512.80,224.01 L532.70,224.01 L532.70,391.80" fill="none" stroke="#ec7b7b" stroke-width="6.2"/>
<line x1="522.75" y1="220.91" x2="522.75" y2="213.17" stroke="#ec7b7b" stroke-width="4.6"/>
<line x1="514.25" y1="213.17" x2="531.25" y2="213.17" stroke="#ec7b7b" stroke-width="3.6"/>
<path d="M551.90,391.80 L551.90,226.70 L571.60,226.70 L571.60,391.80" fill="none" stroke="#a0a0a4" stroke-width="6.2"/>
<path d="M590.80,391.80 L590.80,86.08 L610.50,86.08 L610.50,391.80" fill="none" stroke="#7bc8d6" stroke-width="6.2"/>
<path d="M629.00,391.80 L629.00,164.47 L649.10,164.47 L649.10,391.80" fill="none" stroke="#808080" stroke-width="6.2"/>
<circle cx="516.60" cy="212.20" r="7.00" fill="#000"/>
<circle cx="516.60" cy="226.70" r="7.00" fill="#000"/>
<circle cx="529.20" cy="224.50" r="7.00" fill="#000"/>
<rect x="548.95" y="210.25" width="13.50" height="13.50" fill="#000"/>
<rect x="560.75" y="214.05" width="13.50" height="13.50" fill="#000"/>
<rect x="554.85" y="227.95" width="13.50" height="13.50" fill="#000"/>
<polygon points="594.10,78.58 601.19,91.40 587.01,91.40" fill="#000"/>
<polygon points="600.00,74.08 607.09,86.90 592.91,86.90" fill="#000"/>
<polygon points="606.40,75.08 613.49,87.90 599.31,87.90" fill="#000"/>
<polygon points="632.40,167.93 639.49,155.10 625.31,155.10" fill="#000"/>
<polygon points="639.30,167.93 646.39,155.10 632.21,155.10" fill="#000"/>
<polygon points="645.20,167.93 652.29,155.10 638.11,155.10" fill="#000"/>
<line x1="496.30" y1="52.50" x2="496.30" y2="394.50" stroke="#000" stroke-width="5.4"/>
<line x1="481.80" y1="391.80" x2="668.30" y2="391.80" stroke="#000" stroke-width="5.4"/>
<line x1="481.80" y1="391.80" x2="496.30" y2="391.80" stroke="#000" stroke-width="5.4"/>
<text x="475.40" y="401.30" font-size="27.50" text-anchor="end">0</text>
<line x1="481.80" y1="307.70" x2="496.30" y2="307.70" stroke="#000" stroke-width="5.4"/>
<text x="475.40" y="317.20" font-size="27.50" text-anchor="end">25</text>
<line x1="481.80" y1="223.60" x2="496.30" y2="223.60" stroke="#000" stroke-width="5.4"/>
<text x="475.40" y="233.10" font-size="27.50" text-anchor="end">50</text>
<line x1="481.80" y1="139.50" x2="496.30" y2="139.50" stroke="#000" stroke-width="5.4"/>
<text x="475.40" y="149.00" font-size="27.50" text-anchor="end">75</text>
<line x1="481.80" y1="55.40" x2="496.30" y2="55.40" stroke="#000" stroke-width="5.4"/>
<text x="475.40" y="64.90" font-size="27.50" text-anchor="end">100</text>
<line x1="580.40" y1="391.80" x2="580.40" y2="405.00" stroke="#000" stroke-width="5.4"/>
<text transform="translate(422.00,221.80) rotate(-90)" font-size="36.00" text-anchor="middle" textLength="281.00" lengthAdjust="spacingAndGlyphs">% signal intensity</text>
<text x="472.20" y="440.50" font-size="36.00" textLength="213.00" lengthAdjust="spacingAndGlyphs">C11-BODIPY</text>
<line x1="522.00" y1="52.20" x2="594.90" y2="52.20" stroke="#000" stroke-width="6.7"/>
<text x="553.10" y="47.16" font-size="32" text-anchor="middle" stroke="#000" stroke-width="1.1" stroke-linejoin="round">*</text>
<text x="570.00" y="47.16" font-size="32" text-anchor="middle" stroke="#000" stroke-width="1.1" stroke-linejoin="round">*</text>
<line x1="598.10" y1="62.60" x2="641.90" y2="62.60" stroke="#000" stroke-width="6.7"/>
<text x="612.00" y="59.06" font-size="32" text-anchor="middle" stroke="#000" stroke-width="1.1" stroke-linejoin="round">*</text>
<text x="628.80" y="59.06" font-size="32" text-anchor="middle" stroke="#000" stroke-width="1.1" stroke-linejoin="round">*</text>
<text transform="translate(683.45,31.98) scale(0.9450,1)" font-size="46.35" font-weight="bold">B</text>
<line x1="738.20" y1="222.40" x2="1084.20" y2="222.40" stroke="#f0953a" stroke-width="1.4"/>
<line x1="738.20" y1="309.00" x2="1084.20" y2="309.00" stroke="#3db2e0" stroke-width="1.4"/>
<line x1="738.20" y1="393.80" x2="1084.20" y2="393.80" stroke="#e8383e" stroke-width="1.4"/>
<path d="M904.80,221.56 L905.15,221.45 L905.51,221.32 L905.86,221.18 L906.22,221.02 L906.57,220.83 L906.93,220.62 L907.28,220.39 L907.63,220.12 L907.99,219.82 L908.34,219.47 L908.70,219.08 L909.05,218.64 L909.40,218.14 L909.76,217.57 L910.11,216.93 L910.47,216.20 L910.82,215.38 L911.18,214.44 L911.53,213.38 L911.88,212.18 L912.24,210.82 L912.59,209.28 L912.95,207.53 L913.30,205.55 L913.77,205.18 L914.23,204.60 L914.70,203.81 L915.17,202.82 L915.64,201.66 L916.10,200.32 L916.57,198.83 L917.04,197.20 L917.51,195.42 L917.97,193.53 L918.44,191.53 L918.91,189.42 L919.38,187.24 L919.84,184.97 L920.31,182.65 L920.78,180.27 L921.24,177.85 L921.71,175.41 L922.18,172.85 L922.65,169.82 L923.11,166.35 L923.58,162.51 L924.05,158.39 L924.52,154.04 L924.98,149.56 L925.45,145.01 L925.92,140.48 L926.39,136.03 L926.85,131.74 L927.32,127.70 L927.79,123.72 L928.26,119.68 L928.72,115.66 L929.19,111.73 L929.66,107.99 L930.12,104.50 L930.59,101.26 L931.06,98.01 L931.53,94.85 L931.99,91.89 L932.46,89.26 L932.93,87.08 L933.40,85.46 L933.86,84.03 L934.33,82.70 L934.80,81.53 L935.27,80.59 L935.73,79.92 L936.20,79.60 L936.92,79.88 L937.65,80.44 L938.37,81.25 L939.10,82.25 L939.82,83.40 L940.55,84.66 L941.27,85.98 L942.00,87.60 L942.72,89.68 L943.44,92.11 L944.17,94.80 L944.89,97.67 L945.62,100.61 L946.34,103.53 L947.07,106.63 L947.79,109.99 L948.52,113.53 L949.24,117.17 L949.97,120.84 L950.69,124.45 L951.41,127.93 L952.14,131.36 L952.86,134.84 L953.59,138.35 L954.31,141.87 L955.04,145.39 L955.76,148.90 L956.49,152.36 L957.21,155.78 L957.93,159.13 L958.66,162.39 L959.38,165.55 L960.11,168.60 L960.83,171.50 L961.56,174.26 L962.28,176.91 L963.01,179.50 L963.73,182.04 L964.46,184.52 L965.18,186.95 L965.90,189.31 L966.63,191.60 L967.35,193.83 L968.08,195.98 L968.80,198.06 L969.53,200.06 L970.25,201.97 L970.98,203.81 L971.70,205.55 L972.28,207.53 L972.87,209.28 L973.45,210.82 L974.03,212.18 L974.62,213.38 L975.20,214.44 L975.78,215.38 L976.37,216.20 L976.95,216.93 L977.53,217.57 L978.12,218.14 L978.70,218.64 L979.28,219.08 L979.87,219.47 L980.45,219.82 L981.03,220.12 L981.62,220.39 L982.20,220.62 L982.78,220.83 L983.37,221.02 L983.95,221.18 L984.53,221.32 L985.12,221.45 L985.70,221.56 L985.70,222.40 L904.80,222.40 Z" fill="#f39b48" fill-opacity="0.5" stroke="none"/>
<path d="M904.80,221.56 L905.15,221.45 L905.51,221.32 L905.86,221.18 L906.22,221.02 L906.57,220.83 L906.93,220.62 L907.28,220.39 L907.63,220.12 L907.99,219.82 L908.34,219.47 L908.70,219.08 L909.05,218.64 L909.40,218.14 L909.76,217.57 L910.11,216.93 L910.47,216.20 L910.82,215.38 L911.18,214.44 L911.53,213.38 L911.88,212.18 L912.24,210.82 L912.59,209.28 L912.95,207.53 L913.30,205.55 L913.77,205.18 L914.23,204.60 L914.70,203.81 L915.17,202.82 L915.64,201.66 L916.10,200.32 L916.57,198.83 L917.04,197.20 L917.51,195.42 L917.97,193.53 L918.44,191.53 L918.91,189.42 L919.38,187.24 L919.84,184.97 L920.31,182.65 L920.78,180.27 L921.24,177.85 L921.71,175.41 L922.18,172.85 L922.65,169.82 L923.11,166.35 L923.58,162.51 L924.05,158.39 L924.52,154.04 L924.98,149.56 L925.45,145.01 L925.92,140.48 L926.39,136.03 L926.85,131.74 L927.32,127.70 L927.79,123.72 L928.26,119.68 L928.72,115.66 L929.19,111.73 L929.66,107.99 L930.12,104.50 L930.59,101.26 L931.06,98.01 L931.53,94.85 L931.99,91.89 L932.46,89.26 L932.93,87.08 L933.40,85.46 L933.86,84.03 L934.33,82.70 L934.80,81.53 L935.27,80.59 L935.73,79.92 L936.20,79.60 L936.92,79.88 L937.65,80.44 L938.37,81.25 L939.10,82.25 L939.82,83.40 L940.55,84.66 L941.27,85.98 L942.00,87.60 L942.72,89.68 L943.44,92.11 L944.17,94.80 L944.89,97.67 L945.62,100.61 L946.34,103.53 L947.07,106.63 L947.79,109.99 L948.52,113.53 L949.24,117.17 L949.97,120.84 L950.69,124.45 L951.41,127.93 L952.14,131.36 L952.86,134.84 L953.59,138.35 L954.31,141.87 L955.04,145.39 L955.76,148.90 L956.49,152.36 L957.21,155.78 L957.93,159.13 L958.66,162.39 L959.38,165.55 L960.11,168.60 L960.83,171.50 L961.56,174.26 L962.28,176.91 L963.01,179.50 L963.73,182.04 L964.46,184.52 L965.18,186.95 L965.90,189.31 L966.63,191.60 L967.35,193.83 L968.08,195.98 L968.80,198.06 L969.53,200.06 L970.25,201.97 L970.98,203.81 L971.70,205.55 L972.28,207.53 L972.87,209.28 L973.45,210.82 L974.03,212.18 L974.62,213.38 L975.20,214.44 L975.78,215.38 L976.37,216.20 L976.95,216.93 L977.53,217.57 L978.12,218.14 L978.70,218.64 L979.28,219.08 L979.87,219.47 L980.45,219.82 L981.03,220.12 L981.62,220.39 L982.20,220.62 L982.78,220.83 L983.37,221.02 L983.95,221.18 L984.53,221.32 L985.12,221.45 L985.70,221.56" fill="none" stroke="#f0953a" stroke-width="2.1" stroke-linejoin="round"/>
<path d="M904.00,308.11 L904.33,307.99 L904.65,307.85 L904.98,307.70 L905.30,307.53 L905.62,307.33 L905.95,307.11 L906.28,306.86 L906.60,306.57 L906.93,306.25 L907.25,305.88 L907.58,305.46 L907.90,304.99 L908.23,304.46 L908.55,303.86 L908.88,303.17 L909.20,302.39 L909.53,301.51 L909.85,300.52 L910.18,299.39 L910.50,298.11 L910.83,296.66 L911.15,295.02 L911.48,293.15 L911.80,291.04 L912.31,290.09 L912.82,289.05 L913.32,287.93 L913.83,286.71 L914.34,285.42 L914.85,284.05 L915.36,282.60 L915.87,281.08 L916.37,279.49 L916.88,277.84 L917.39,276.12 L917.90,274.34 L918.41,272.51 L918.91,270.63 L919.42,268.69 L919.93,266.71 L920.44,264.69 L920.95,262.63 L921.46,260.53 L921.96,258.39 L922.47,256.23 L922.98,254.04 L923.49,251.82 L924.00,249.55 L924.50,247.21 L925.01,244.78 L925.52,242.26 L926.03,239.64 L926.54,236.91 L927.04,234.07 L927.55,231.11 L928.06,228.02 L928.57,224.79 L929.08,221.41 L929.59,217.88 L930.09,214.20 L930.60,210.34 L931.11,206.31 L931.62,201.46 L932.13,195.70 L932.63,190.74 L933.14,186.05 L933.65,181.67 L934.16,178.02 L934.67,175.47 L935.18,173.43 L935.68,171.67 L936.19,170.39 L936.70,169.80 L937.46,170.11 L938.22,170.75 L938.98,171.66 L939.74,172.79 L940.51,174.07 L941.27,175.45 L942.03,176.99 L942.79,179.07 L943.55,181.59 L944.31,184.44 L945.07,187.48 L945.83,190.61 L946.60,193.74 L947.36,197.18 L948.12,200.85 L948.88,204.54 L949.64,208.12 L950.40,211.80 L951.16,215.55 L951.92,219.35 L952.69,223.18 L953.45,226.98 L954.21,230.75 L954.97,234.44 L955.73,238.03 L956.49,241.48 L957.25,244.76 L958.01,247.86 L958.78,250.72 L959.54,253.35 L960.30,255.91 L961.06,258.44 L961.82,260.92 L962.58,263.36 L963.34,265.74 L964.10,268.08 L964.87,270.34 L965.63,272.55 L966.39,274.68 L967.15,276.74 L967.91,278.71 L968.67,280.60 L969.43,282.41 L970.19,284.11 L970.96,285.72 L971.72,287.22 L972.48,288.61 L973.24,289.89 L974.00,291.04 L974.45,293.15 L974.91,295.02 L975.36,296.66 L975.82,298.11 L976.27,299.39 L976.73,300.52 L977.18,301.51 L977.63,302.39 L978.09,303.17 L978.54,303.86 L979.00,304.46 L979.45,304.99 L979.90,305.46 L980.36,305.88 L980.81,306.25 L981.27,306.57 L981.72,306.86 L982.18,307.11 L982.63,307.33 L983.08,307.53 L983.54,307.70 L983.99,307.85 L984.45,307.99 L984.90,308.11 L984.90,309.00 L904.00,309.00 Z" fill="#40aed0" fill-opacity="0.5" stroke="none"/>
<path d="M904.00,308.11 L904.33,307.99 L904.65,307.85 L904.98,307.70 L905.30,307.53 L905.62,307.33 L905.95,307.11 L906.28,306.86 L906.60,306.57 L906.93,306.25 L907.25,305.88 L907.58,305.46 L907.90,304.99 L908.23,304.46 L908.55,303.86 L908.88,303.17 L909.20,302.39 L909.53,301.51 L909.85,300.52 L910.18,299.39 L910.50,298.11 L910.83,296.66 L911.15,295.02 L911.48,293.15 L911.80,291.04 L912.31,290.09 L912.82,289.05 L913.32,287.93 L913.83,286.71 L914.34,285.42 L914.85,284.05 L915.36,282.60 L915.87,281.08 L916.37,279.49 L916.88,277.84 L917.39,276.12 L917.90,274.34 L918.41,272.51 L918.91,270.63 L919.42,268.69 L919.93,266.71 L920.44,264.69 L920.95,262.63 L921.46,260.53 L921.96,258.39 L922.47,256.23 L922.98,254.04 L923.49,251.82 L924.00,249.55 L924.50,247.21 L925.01,244.78 L925.52,242.26 L926.03,239.64 L926.54,236.91 L927.04,234.07 L927.55,231.11 L928.06,228.02 L928.57,224.79 L929.08,221.41 L929.59,217.88 L930.09,214.20 L930.60,210.34 L931.11,206.31 L931.62,201.46 L932.13,195.70 L932.63,190.74 L933.14,186.05 L933.65,181.67 L934.16,178.02 L934.67,175.47 L935.18,173.43 L935.68,171.67 L936.19,170.39 L936.70,169.80 L937.46,170.11 L938.22,170.75 L938.98,171.66 L939.74,172.79 L940.51,174.07 L941.27,175.45 L942.03,176.99 L942.79,179.07 L943.55,181.59 L944.31,184.44 L945.07,187.48 L945.83,190.61 L946.60,193.74 L947.36,197.18 L948.12,200.85 L948.88,204.54 L949.64,208.12 L950.40,211.80 L951.16,215.55 L951.92,219.35 L952.69,223.18 L953.45,226.98 L954.21,230.75 L954.97,234.44 L955.73,238.03 L956.49,241.48 L957.25,244.76 L958.01,247.86 L958.78,250.72 L959.54,253.35 L960.30,255.91 L961.06,258.44 L961.82,260.92 L962.58,263.36 L963.34,265.74 L964.10,268.08 L964.87,270.34 L965.63,272.55 L966.39,274.68 L967.15,276.74 L967.91,278.71 L968.67,280.60 L969.43,282.41 L970.19,284.11 L970.96,285.72 L971.72,287.22 L972.48,288.61 L973.24,289.89 L974.00,291.04 L974.45,293.15 L974.91,295.02 L975.36,296.66 L975.82,298.11 L976.27,299.39 L976.73,300.52 L977.18,301.51 L977.63,302.39 L978.09,303.17 L978.54,303.86 L979.00,304.46 L979.45,304.99 L979.90,305.46 L980.36,305.88 L980.81,306.25 L981.27,306.57 L981.72,306.86 L982.18,307.11 L982.63,307.33 L983.08,307.53 L983.54,307.70 L983.99,307.85 L984.45,307.99 L984.90,308.11" fill="none" stroke="#3db2e0" stroke-width="2.1" stroke-linejoin="round"/>
<path d="M917.20,392.56 L917.49,392.39 L917.78,392.21 L918.07,391.99 L918.37,391.75 L918.66,391.48 L918.95,391.17 L919.24,390.82 L919.53,390.42 L919.82,389.97 L920.12,389.46 L920.41,388.89 L920.70,388.23 L920.99,387.49 L921.28,386.65 L921.57,385.70 L921.87,384.62 L922.16,383.40 L922.45,382.02 L922.74,380.45 L923.03,378.67 L923.32,376.65 L923.62,374.37 L923.91,371.78 L924.20,368.85 L924.61,366.24 L925.02,363.58 L925.44,360.87 L925.85,358.10 L926.26,355.29 L926.67,352.42 L927.09,349.51 L927.50,346.55 L927.91,343.55 L928.32,340.50 L928.73,337.41 L929.15,334.28 L929.56,331.10 L929.97,327.87 L930.38,324.52 L930.80,321.06 L931.21,317.51 L931.62,313.90 L932.03,310.24 L932.44,306.54 L932.86,302.84 L933.27,299.14 L933.68,295.46 L934.09,291.83 L934.51,288.26 L934.92,284.78 L935.33,281.36 L935.74,277.92 L936.16,274.48 L936.57,271.10 L936.98,267.83 L937.39,264.73 L937.80,261.84 L938.22,259.04 L938.63,256.23 L939.04,253.47 L939.45,250.83 L939.87,248.38 L940.28,246.19 L940.69,244.31 L941.10,242.83 L941.51,241.57 L941.93,240.36 L942.34,239.23 L942.75,238.21 L943.16,237.33 L943.58,236.63 L943.99,236.14 L944.40,235.90 L944.94,236.22 L945.48,236.88 L946.02,237.83 L946.56,239.00 L947.10,240.34 L947.64,241.79 L948.19,243.33 L948.73,245.34 L949.27,247.84 L949.81,250.73 L950.35,253.89 L950.89,257.22 L951.43,260.58 L951.97,263.99 L952.51,267.74 L953.05,271.75 L953.59,275.85 L954.13,279.92 L954.68,283.80 L955.22,287.61 L955.76,291.48 L956.30,295.37 L956.84,299.25 L957.38,303.12 L957.92,306.95 L958.46,310.70 L959.00,314.37 L959.54,317.92 L960.08,321.34 L960.62,324.60 L961.17,327.68 L961.71,330.56 L962.25,333.34 L962.79,336.08 L963.33,338.77 L963.87,341.41 L964.41,343.98 L964.95,346.50 L965.49,348.95 L966.03,351.34 L966.57,353.64 L967.11,355.87 L967.66,358.01 L968.20,360.07 L968.74,362.03 L969.28,363.89 L969.82,365.65 L970.36,367.31 L970.90,368.85 L971.52,371.78 L972.13,374.37 L972.75,376.65 L973.37,378.67 L973.98,380.45 L974.60,382.02 L975.22,383.40 L975.83,384.62 L976.45,385.70 L977.07,386.65 L977.68,387.49 L978.30,388.23 L978.92,388.89 L979.53,389.46 L980.15,389.97 L980.77,390.42 L981.38,390.82 L982.00,391.17 L982.62,391.48 L983.23,391.75 L983.85,391.99 L984.47,392.21 L985.08,392.39 L985.70,392.56 L985.70,393.80 L917.20,393.80 Z" fill="#e46166" fill-opacity="0.55" stroke="none"/>
<path d="M917.20,392.56 L917.49,392.39 L917.78,392.21 L918.07,391.99 L918.37,391.75 L918.66,391.48 L918.95,391.17 L919.24,390.82 L919.53,390.42 L919.82,389.97 L920.12,389.46 L920.41,388.89 L920.70,388.23 L920.99,387.49 L921.28,386.65 L921.57,385.70 L921.87,384.62 L922.16,383.40 L922.45,382.02 L922.74,380.45 L923.03,378.67 L923.32,376.65 L923.62,374.37 L923.91,371.78 L924.20,368.85 L924.61,366.24 L925.02,363.58 L925.44,360.87 L925.85,358.10 L926.26,355.29 L926.67,352.42 L927.09,349.51 L927.50,346.55 L927.91,343.55 L928.32,340.50 L928.73,337.41 L929.15,334.28 L929.56,331.10 L929.97,327.87 L930.38,324.52 L930.80,321.06 L931.21,317.51 L931.62,313.90 L932.03,310.24 L932.44,306.54 L932.86,302.84 L933.27,299.14 L933.68,295.46 L934.09,291.83 L934.51,288.26 L934.92,284.78 L935.33,281.36 L935.74,277.92 L936.16,274.48 L936.57,271.10 L936.98,267.83 L937.39,264.73 L937.80,261.84 L938.22,259.04 L938.63,256.23 L939.04,253.47 L939.45,250.83 L939.87,248.38 L940.28,246.19 L940.69,244.31 L941.10,242.83 L941.51,241.57 L941.93,240.36 L942.34,239.23 L942.75,238.21 L943.16,237.33 L943.58,236.63 L943.99,236.14 L944.40,235.90 L944.94,236.22 L945.48,236.88 L946.02,237.83 L946.56,239.00 L947.10,240.34 L947.64,241.79 L948.19,243.33 L948.73,245.34 L949.27,247.84 L949.81,250.73 L950.35,253.89 L950.89,257.22 L951.43,260.58 L951.97,263.99 L952.51,267.74 L953.05,271.75 L953.59,275.85 L954.13,279.92 L954.68,283.80 L955.22,287.61 L955.76,291.48 L956.30,295.37 L956.84,299.25 L957.38,303.12 L957.92,306.95 L958.46,310.70 L959.00,314.37 L959.54,317.92 L960.08,321.34 L960.62,324.60 L961.17,327.68 L961.71,330.56 L962.25,333.34 L962.79,336.08 L963.33,338.77 L963.87,341.41 L964.41,343.98 L964.95,346.50 L965.49,348.95 L966.03,351.34 L966.57,353.64 L967.11,355.87 L967.66,358.01 L968.20,360.07 L968.74,362.03 L969.28,363.89 L969.82,365.65 L970.36,367.31 L970.90,368.85 L971.52,371.78 L972.13,374.37 L972.75,376.65 L973.37,378.67 L973.98,380.45 L974.60,382.02 L975.22,383.40 L975.83,384.62 L976.45,385.70 L977.07,386.65 L977.68,387.49 L978.30,388.23 L978.92,388.89 L979.53,389.46 L980.15,389.97 L980.77,390.42 L981.38,390.82 L982.00,391.17 L982.62,391.48 L983.23,391.75 L983.85,391.99 L984.47,392.21 L985.08,392.39 L985.70,392.56" fill="none" stroke="#e8383e" stroke-width="2.1" stroke-linejoin="round"/>
<line x1="738.20" y1="46.70" x2="1084.20" y2="46.70" stroke="#dedede" stroke-width="1.9"/>
<rect x="738.2" y="48.6" width="346.0" height="345.2" fill="none" stroke="#444" stroke-width="1.8"/>
<line x1="943.00" y1="48.60" x2="943.00" y2="393.80" stroke="#000" stroke-width="2.7"/>
<line x1="943.00" y1="147.10" x2="1084.20" y2="147.10" stroke="#000" stroke-width="2.7"/>
<line x1="739.00" y1="393.80" x2="739.00" y2="402.30" stroke="#000" stroke-width="2.2"/>
<line x1="753.27" y1="393.80" x2="753.27" y2="398.30" stroke="#222" stroke-width="1.4"/>
<line x1="761.62" y1="393.80" x2="761.62" y2="398.30" stroke="#222" stroke-width="1.4"/>
<line x1="767.54" y1="393.80" x2="767.54" y2="398.30" stroke="#222" stroke-width="1.4"/>
<line x1="772.13" y1="393.80" x2="772.13" y2="399.30" stroke="#222" stroke-width="1.4"/>
<line x1="775.88" y1="393.80" x2="775.88" y2="398.30" stroke="#222" stroke-width="1.4"/>
<line x1="779.06" y1="393.80" x2="779.06" y2="398.30" stroke="#222" stroke-width="1.4"/>
<line x1="781.81" y1="393.80" x2="781.81" y2="398.30" stroke="#222" stroke-width="1.4"/>
<line x1="784.23" y1="393.80" x2="784.23" y2="398.30" stroke="#222" stroke-width="1.4"/>
<line x1="786.40" y1="393.80" x2="786.40" y2="402.30" stroke="#000" stroke-width="2.2"/>
<line x1="800.67" y1="393.80" x2="800.67" y2="398.30" stroke="#222" stroke-width="1.4"/>
<line x1="809.02" y1="393.80" x2="809.02" y2="398.30" stroke="#222" stroke-width="1.4"/>
<line x1="814.94" y1="393.80" x2="814.94" y2="398.30" stroke="#222" stroke-width="1.4"/>
<line x1="819.53" y1="393.80" x2="819.53" y2="399.30" stroke="#222" stroke-width="1.4"/>
<line x1="823.28" y1="393.80" x2="823.28" y2="398.30" stroke="#222" stroke-width="1.4"/>
<line x1="826.46" y1="393.80" x2="826.46" y2="398.30" stroke="#222" stroke-width="1.4"/>
<line x1="829.21" y1="393.80" x2="829.21" y2="398.30" stroke="#222" stroke-width="1.4"/>
<line x1="831.63" y1="393.80" x2="831.63" y2="398.30" stroke="#222" stroke-width="1.4"/>
<line x1="833.80" y1="393.80" x2="833.80" y2="402.30" stroke="#000" stroke-width="2.2"/>
<line x1="848.07" y1="393.80" x2="848.07" y2="398.30" stroke="#222" stroke-width="1.4"/>
<line x1="856.42" y1="393.80" x2="856.42" y2="398.30" stroke="#222" stroke-width="1.4"/>
<line x1="862.34" y1="393.80" x2="862.34" y2="398.30" stroke="#222" stroke-width="1.4"/>
<line x1="866.93" y1="393.80" x2="866.93" y2="399.30" stroke="#222" stroke-width="1.4"/>
<line x1="870.68" y1="393.80" x2="870.68" y2="398.30" stroke="#222" stroke-width="1.4"/>
<line x1="873.86" y1="393.80" x2="873.86" y2="398.30" stroke="#222" stroke-width="1.4"/>
<line x1="876.61" y1="393.80" x2="876.61" y2="398.30" stroke="#222" stroke-width="1.4"/>
<line x1="879.03" y1="393.80" x2="879.03" y2="398.30" stroke="#222" stroke-width="1.4"/>
<line x1="881.20" y1="393.80" x2="881.20" y2="402.30" stroke="#000" stroke-width="2.2"/>
<line x1="895.47" y1="393.80" x2="895.47" y2="398.30" stroke="#222" stroke-width="1.4"/>
<line x1="903.82" y1="393.80" x2="903.82" y2="398.30" stroke="#222" stroke-width="1.4"/>
<line x1="909.74" y1="393.80" x2="909.74" y2="398.30" stroke="#222" stroke-width="1.4"/>
<line x1="914.33" y1="393.80" x2="914.33" y2="399.30" stroke="#222" stroke-width="1.4"/>
<line x1="918.08" y1="393.80" x2="918.08" y2="398.30" stroke="#222" stroke-width="1.4"/>
<line x1="921.26" y1="393.80" x2="921.26" y2="398.30" stroke="#222" stroke-width="1.4"/>
<line x1="924.01" y1="393.80" x2="924.01" y2="398.30" stroke="#222" stroke-width="1.4"/>
<line x1="926.43" y1="393.80" x2="926.43" y2="398.30" stroke="#222" stroke-width="1.4"/>
<line x1="928.60" y1="393.80" x2="928.60" y2="402.30" stroke="#000" stroke-width="2.2"/>
<line x1="942.87" y1="393.80" x2="942.87" y2="398.30" stroke="#222" stroke-width="1.4"/>
<line x1="951.22" y1="393.80" x2="951.22" y2="398.30" stroke="#222" stroke-width="1.4"/>
<line x1="957.14" y1="393.80" x2="957.14" y2="398.30" stroke="#222" stroke-width="1.4"/>
<line x1="961.73" y1="393.80" x2="961.73" y2="399.30" stroke="#222" stroke-width="1.4"/>
<line x1="965.48" y1="393.80" x2="965.48" y2="398.30" stroke="#222" stroke-width="1.4"/>
<line x1="968.66" y1="393.80" x2="968.66" y2="398.30" stroke="#222" stroke-width="1.4"/>
<line x1="971.41" y1="393.80" x2="971.41" y2="398.30" stroke="#222" stroke-width="1.4"/>
<line x1="973.83" y1="393.80" x2="973.83" y2="398.30" stroke="#222" stroke-width="1.4"/>
<line x1="976.00" y1="393.80" x2="976.00" y2="402.30" stroke="#000" stroke-width="2.2"/>
<line x1="990.27" y1="393.80" x2="990.27" y2="398.30" stroke="#222" stroke-width="1.4"/>
<line x1="998.62" y1="393.80" x2="998.62" y2="398.30" stroke="#222" stroke-width="1.4"/>
<line x1="1004.54" y1="393.80" x2="1004.54" y2="398.30" stroke="#222" stroke-width="1.4"/>
<line x1="1009.13" y1="393.80" x2="1009.13" y2="399.30" stroke="#222" stroke-width="1.4"/>
<line x1="1012.88" y1="393.80" x2="1012.88" y2="398.30" stroke="#222" stroke-width="1.4"/>
<line x1="1016.06" y1="393.80" x2="1016.06" y2="398.30" stroke="#222" stroke-width="1.4"/>
<line x1="1018.81" y1="393.80" x2="1018.81" y2="398.30" stroke="#222" stroke-width="1.4"/>
<line x1="1021.23" y1="393.80" x2="1021.23" y2="398.30" stroke="#222" stroke-width="1.4"/>
<line x1="1023.40" y1="393.80" x2="1023.40" y2="402.30" stroke="#000" stroke-width="2.2"/>
<line x1="1037.67" y1="393.80" x2="1037.67" y2="398.30" stroke="#222" stroke-width="1.4"/>
<line x1="1046.02" y1="393.80" x2="1046.02" y2="398.30" stroke="#222" stroke-width="1.4"/>
<line x1="1051.94" y1="393.80" x2="1051.94" y2="398.30" stroke="#222" stroke-width="1.4"/>
<line x1="1056.53" y1="393.80" x2="1056.53" y2="399.30" stroke="#222" stroke-width="1.4"/>
<line x1="1060.28" y1="393.80" x2="1060.28" y2="398.30" stroke="#222" stroke-width="1.4"/>
<line x1="1063.46" y1="393.80" x2="1063.46" y2="398.30" stroke="#222" stroke-width="1.4"/>
<line x1="1066.21" y1="393.80" x2="1066.21" y2="398.30" stroke="#222" stroke-width="1.4"/>
<line x1="1068.63" y1="393.80" x2="1068.63" y2="398.30" stroke="#222" stroke-width="1.4"/>
<line x1="1070.80" y1="393.80" x2="1070.80" y2="402.30" stroke="#000" stroke-width="2.2"/>
<text x="748.90" y="199.70" font-size="27.50" textLength="134.20" lengthAdjust="spacingAndGlyphs">MYCN sh2</text>
<text x="748.90" y="289.80" font-size="27.50" textLength="133.00" lengthAdjust="spacingAndGlyphs">MYCN sh1</text>
<text x="748.90" y="373.60" font-size="27.50" textLength="95.60" lengthAdjust="spacingAndGlyphs">PLKO.1</text>
<text x="729.20" y="441.70" font-size="26.50">10</text>
<text x="758.20" y="429.70" font-size="19.00">0</text>
<text x="822.90" y="441.70" font-size="26.50">10</text>
<text x="851.90" y="429.70" font-size="19.00">2</text>
<text x="914.90" y="441.70" font-size="26.50">10</text>
<text x="943.90" y="429.70" font-size="19.00">4</text>
<text x="1009.10" y="441.70" font-size="26.50">10</text>
<text x="1038.10" y="429.70" font-size="19.00">6</text>
<path d="M1210.90,394.20 L1210.90,123.53 L1238.70,123.53 L1238.70,394.20" fill="none" stroke="#ec7b7b" stroke-width="6.2"/>
<line x1="1224.80" y1="120.43" x2="1224.80" y2="107.53" stroke="#ec7b7b" stroke-width="4.6"/>
<line x1="1216.30" y1="107.53" x2="1233.30" y2="107.53" stroke="#ec7b7b" stroke-width="3.6"/>
<path d="M1261.50,394.20 L1261.50,210.49 L1289.30,210.49 L1289.30,394.20" fill="none" stroke="#7bc8d6" stroke-width="6.2"/>
<line x1="1275.40" y1="207.39" x2="1275.40" y2="195.04" stroke="#7bc8d6" stroke-width="4.6"/>
<line x1="1266.90" y1="195.04" x2="1283.90" y2="195.04" stroke="#7bc8d6" stroke-width="3.6"/>
<path d="M1312.10,394.20 L1312.10,208.80 L1339.70,208.80 L1339.70,394.20" fill="none" stroke="#f39b45" stroke-width="6.2"/>
<line x1="1325.90" y1="205.70" x2="1325.90" y2="192.24" stroke="#f39b45" stroke-width="4.6"/>
<line x1="1317.40" y1="192.24" x2="1334.40" y2="192.24" stroke="#f39b45" stroke-width="3.6"/>
<circle cx="1214.70" cy="112.00" r="7.00" fill="#000"/>
<circle cx="1235.50" cy="116.20" r="7.00" fill="#000"/>
<circle cx="1224.40" cy="133.30" r="7.00" fill="#000"/>
<rect x="1258.05" y="191.85" width="13.50" height="13.50" fill="#000"/>
<rect x="1279.35" y="195.15" width="13.50" height="13.50" fill="#000"/>
<rect x="1268.25" y="209.05" width="13.50" height="13.50" fill="#000"/>
<polygon points="1315.00,187.07 1322.09,199.90 1307.91,199.90" fill="#000"/>
<polygon points="1335.90,198.07 1342.99,210.90 1328.81,210.90" fill="#000"/>
<polygon points="1315.00,207.77 1322.09,220.60 1307.91,220.60" fill="#000"/>
<line x1="1190.80" y1="55.30" x2="1190.80" y2="397.60" stroke="#000" stroke-width="6.8"/>
<line x1="1176.80" y1="394.20" x2="1362.20" y2="394.20" stroke="#000" stroke-width="6.8"/>
<line x1="1176.80" y1="394.20" x2="1190.80" y2="394.20" stroke="#000" stroke-width="6.8"/>
<text x="1169.90" y="403.70" font-size="27.50" text-anchor="end">0</text>
<line x1="1176.80" y1="282.00" x2="1190.80" y2="282.00" stroke="#000" stroke-width="6.8"/>
<text x="1169.90" y="291.50" font-size="27.50" text-anchor="end">20</text>
<line x1="1176.80" y1="169.80" x2="1190.80" y2="169.80" stroke="#000" stroke-width="6.8"/>
<text x="1169.90" y="179.30" font-size="27.50" text-anchor="end">40</text>
<line x1="1176.80" y1="57.60" x2="1190.80" y2="57.60" stroke="#000" stroke-width="6.8"/>
<text x="1169.90" y="67.10" font-size="27.50" text-anchor="end">60</text>
<line x1="1275.00" y1="394.20" x2="1275.00" y2="408.00" stroke="#000" stroke-width="6.8"/>
<text transform="translate(1124.30,226.80) rotate(-90)" font-size="36.00" text-anchor="middle" textLength="282.00" lengthAdjust="spacingAndGlyphs">% signal intensity</text>
<text x="1167.10" y="453.70" font-size="36.00" textLength="214.00" lengthAdjust="spacingAndGlyphs">C11-BODIPY</text>
<line x1="1223.20" y1="38.00" x2="1331.30" y2="38.00" stroke="#000" stroke-width="6.4"/>
<text x="1266.70" y="35.26" font-size="32" text-anchor="middle" stroke="#000" stroke-width="1.1" stroke-linejoin="round">*</text>
<text x="1283.40" y="35.26" font-size="32" text-anchor="middle" stroke="#000" stroke-width="1.1" stroke-linejoin="round">*</text>
<line x1="1223.20" y1="82.20" x2="1276.70" y2="82.20" stroke="#000" stroke-width="6.4"/>
<text x="1244.10" y="81.26" font-size="32" text-anchor="middle" stroke="#000" stroke-width="1.1" stroke-linejoin="round">*</text>
<text x="1261.00" y="81.26" font-size="32" text-anchor="middle" stroke="#000" stroke-width="1.1" stroke-linejoin="round">*</text>
<text transform="translate(0.31,536.97) scale(0.9206,1)" font-size="45.96" font-weight="bold">C</text>
<line x1="125.80" y1="545.30" x2="125.80" y2="895.20" stroke="#000" stroke-width="4.8"/>
<line x1="112.80" y1="882.20" x2="464.20" y2="882.20" stroke="#000" stroke-width="4.8"/>
<line x1="112.80" y1="882.20" x2="125.80" y2="882.20" stroke="#000" stroke-width="4.8"/>
<text x="107.00" y="891.70" font-size="28.00" text-anchor="end">0.0</text>
<line x1="112.80" y1="769.90" x2="125.80" y2="769.90" stroke="#000" stroke-width="4.8"/>
<text x="107.00" y="779.40" font-size="28.00" text-anchor="end">0.5</text>
<line x1="112.80" y1="657.60" x2="125.80" y2="657.60" stroke="#000" stroke-width="4.8"/>
<text x="107.00" y="667.10" font-size="28.00" text-anchor="end">1.0</text>
<line x1="112.80" y1="545.30" x2="125.80" y2="545.30" stroke="#000" stroke-width="4.8"/>
<text x="107.00" y="554.80" font-size="28.00" text-anchor="end">1.5</text>
<line x1="125.80" y1="882.20" x2="125.80" y2="895.20" stroke="#000" stroke-width="4.8"/>
<text x="125.80" y="927.20" font-size="27.50" text-anchor="middle">0.01</text>
<line x1="237.80" y1="882.20" x2="237.80" y2="895.20" stroke="#000" stroke-width="4.8"/>
<text x="237.80" y="927.20" font-size="27.50" text-anchor="middle">0.1</text>
<line x1="349.80" y1="882.20" x2="349.80" y2="895.20" stroke="#000" stroke-width="4.8"/>
<text x="349.80" y="927.20" font-size="27.50" text-anchor="middle">1</text>
<line x1="461.80" y1="882.20" x2="461.80" y2="895.20" stroke="#000" stroke-width="4.8"/>
<text x="461.80" y="927.20" font-size="27.50" text-anchor="middle">10</text>
<text transform="translate(48.00,714.40) rotate(-90)" font-size="36.00" text-anchor="middle" textLength="188.00" lengthAdjust="spacingAndGlyphs">Cell viability</text>
<text x="295.80" y="976.00" font-size="36.00" text-anchor="middle" textLength="206.10" lengthAdjust="spacingAndGlyphs">[Erastin], μM</text>
<path d="M125.80,659.97 L126.92,659.97 L128.04,659.97 L129.16,659.97 L130.28,659.97 L131.40,659.97 L132.52,659.97 L133.64,659.97 L134.76,659.97 L135.88,659.97 L137.00,659.97 L138.12,659.97 L139.24,659.97 L140.36,659.97 L141.48,659.97 L142.60,659.97 L143.72,659.97 L144.84,659.97 L145.96,659.97 L147.08,659.97 L148.20,659.97 L149.32,659.97 L150.44,659.97 L151.56,659.97 L152.68,659.97 L153.80,659.97 L154.92,659.97 L156.04,659.97 L157.16,659.97 L158.28,659.97 L159.40,659.97 L160.52,659.97 L161.64,659.97 L162.76,659.97 L163.88,659.97 L165.00,659.97 L166.12,659.97 L167.24,659.97 L168.36,659.97 L169.48,659.97 L170.60,659.97 L171.72,659.97 L172.84,659.97 L173.96,659.97 L175.08,659.97 L176.20,659.97 L177.32,659.97 L178.44,659.97 L179.56,659.97 L180.68,659.97 L181.80,659.98 L182.92,659.98 L184.04,659.98 L185.16,659.98 L186.28,659.98 L187.40,659.98 L188.52,659.98 L189.64,659.98 L190.76,659.98 L191.88,659.98 L193.00,659.98 L194.12,659.98 L195.24,659.98 L196.36,659.99 L197.48,659.99 L198.60,659.99 L199.72,659.99 L200.84,659.99 L201.96,659.99 L203.08,659.99 L204.20,659.99 L205.32,660.00 L206.44,660.00 L207.56,660.00 L208.68,660.00 L209.80,660.00 L210.92,660.00 L212.04,660.01 L213.16,660.01 L214.28,660.01 L215.40,660.01 L216.52,660.02 L217.64,660.02 L218.76,660.02 L219.88,660.02 L221.00,660.03 L222.12,660.03 L223.24,660.03 L224.36,660.04 L225.48,660.04 L226.60,660.05 L227.72,660.05 L228.84,660.05 L229.96,660.06 L231.08,660.06 L232.20,660.07 L233.32,660.08 L234.44,660.08 L235.56,660.09 L236.68,660.09 L237.80,660.10 L238.92,660.11 L240.04,660.12 L241.16,660.12 L242.28,660.13 L243.40,660.14 L244.52,660.15 L245.64,660.16 L246.76,660.17 L247.88,660.18 L249.00,660.19 L250.12,660.20 L251.24,660.22 L252.36,660.23 L253.48,660.24 L254.60,660.26 L255.72,660.27 L256.84,660.29 L257.96,660.31 L259.08,660.33 L260.20,660.35 L261.32,660.37 L262.44,660.39 L263.56,660.41 L264.68,660.43 L265.80,660.46 L266.92,660.48 L268.04,660.51 L269.16,660.54 L270.28,660.57 L271.40,660.60 L272.52,660.63 L273.64,660.67 L274.76,660.71 L275.88,660.75 L277.00,660.79 L278.12,660.83 L279.24,660.88 L280.36,660.92 L281.48,660.97 L282.60,661.03 L283.72,661.08 L284.84,661.14 L285.96,661.20 L287.08,661.27 L288.20,661.34 L289.32,661.41 L290.44,661.48 L291.56,661.56 L292.68,661.64 L293.80,661.73 L294.92,661.82 L296.04,661.92 L297.16,662.02 L298.28,662.13 L299.40,662.24 L300.52,662.36 L301.64,662.48 L302.76,662.61 L303.88,662.75 L305.00,662.89 L306.12,663.04 L307.24,663.20 L308.36,663.37 L309.48,663.54 L310.60,663.72 L311.72,663.92 L312.84,664.12 L313.96,664.33 L315.08,664.55 L316.20,664.78 L317.32,665.02 L318.44,665.28 L319.56,665.54 L320.68,665.82 L321.80,666.11 L322.92,666.42 L324.04,666.73 L325.16,667.07 L326.28,667.42 L327.40,667.78 L328.52,668.16 L329.64,668.56 L330.76,668.97 L331.88,669.40 L333.00,669.85 L334.12,670.32 L335.24,670.81 L336.36,671.32 L337.48,671.85 L338.60,672.40 L339.72,672.97 L340.84,673.57 L341.96,674.19 L343.08,674.83 L344.20,675.49 L345.32,676.18 L346.44,676.89 L347.56,677.63 L348.68,678.39 L349.80,679.17 L350.92,679.98 L352.04,680.82 L353.16,681.68 L354.28,682.57 L355.40,683.48 L356.52,684.42 L357.64,685.38 L358.76,686.36 L359.88,687.37 L361.00,688.40 L362.12,689.46 L363.24,690.53 L364.36,691.63 L365.48,692.75 L366.60,693.89 L367.72,695.04 L368.84,696.22 L369.96,697.40 L371.08,698.61 L372.20,699.82 L373.32,701.05 L374.44,702.29 L375.56,703.54 L376.68,704.79 L377.80,706.05 L378.92,707.31 L380.04,708.58 L381.16,709.84 L382.28,711.11 L383.40,712.37 L384.52,713.63 L385.64,714.88 L386.76,716.12 L387.88,717.36 L389.00,718.58 L390.12,719.79 L391.24,720.98 L392.36,722.17 L393.48,723.33 L394.60,724.48 L395.72,725.61 L396.84,726.72 L397.96,727.80 L399.08,728.87 L400.20,729.92 L401.32,730.94 L402.44,731.94 L403.56,732.91 L404.68,733.86 L405.80,734.78 L406.92,735.68 L408.04,736.56 L409.16,737.41 L410.28,738.23 L411.40,739.03 L412.52,739.81 L413.64,740.56 L414.76,741.28 L415.88,741.98 L417.00,742.66 L418.12,743.31 L419.24,743.94 L420.36,744.55 L421.48,745.13 L422.60,745.70 L423.72,746.24 L424.84,746.76 L425.96,747.26 L427.08,747.74 L428.20,748.20 L429.32,748.64 L430.44,749.06 L431.56,749.47 L432.68,749.86 L433.80,750.23 L434.92,750.59 L436.04,750.93 L437.16,751.26 L438.28,751.57 L439.40,751.87 L440.52,752.15 L441.64,752.43 L442.76,752.69 L443.88,752.93 L445.00,753.17 L446.12,753.40 L447.24,753.61 L448.36,753.82 L449.48,754.02 L450.60,754.20 L451.72,754.38 L452.84,754.55 L453.96,754.71 L455.08,754.87 L456.20,755.02 L457.32,755.16 L458.44,755.29 L459.56,755.42 L460.68,755.54 L461.80,755.65" fill="none" stroke="#c15f9d" stroke-width="4.3" stroke-linejoin="round"/>
<path d="M125.80,671.87 L126.92,671.87 L128.04,671.87 L129.16,671.87 L130.28,671.87 L131.40,671.87 L132.52,671.87 L133.64,671.87 L134.76,671.87 L135.88,671.87 L137.00,671.87 L138.12,671.87 L139.24,671.87 L140.36,671.87 L141.48,671.87 L142.60,671.87 L143.72,671.87 L144.84,671.87 L145.96,671.87 L147.08,671.87 L148.20,671.87 L149.32,671.87 L150.44,671.87 L151.56,671.87 L152.68,671.87 L153.80,671.87 L154.92,671.87 L156.04,671.87 L157.16,671.87 L158.28,671.87 L159.40,671.87 L160.52,671.87 L161.64,671.87 L162.76,671.87 L163.88,671.87 L165.00,671.87 L166.12,671.87 L167.24,671.87 L168.36,671.87 L169.48,671.87 L170.60,671.87 L171.72,671.87 L172.84,671.87 L173.96,671.87 L175.08,671.87 L176.20,671.87 L177.32,671.87 L178.44,671.87 L179.56,671.87 L180.68,671.87 L181.80,671.87 L182.92,671.87 L184.04,671.87 L185.16,671.87 L186.28,671.87 L187.40,671.87 L188.52,671.87 L189.64,671.87 L190.76,671.87 L191.88,671.87 L193.00,671.87 L194.12,671.87 L195.24,671.87 L196.36,671.87 L197.48,671.87 L198.60,671.87 L199.72,671.87 L200.84,671.87 L201.96,671.87 L203.08,671.87 L204.20,671.87 L205.32,671.87 L206.44,671.87 L207.56,671.87 L208.68,671.87 L209.80,671.87 L210.92,671.87 L212.04,671.87 L213.16,671.87 L214.28,671.87 L215.40,671.87 L216.52,671.87 L217.64,671.87 L218.76,671.87 L219.88,671.87 L221.00,671.87 L222.12,671.87 L223.24,671.87 L224.36,671.87 L225.48,671.87 L226.60,671.87 L227.72,671.87 L228.84,671.87 L229.96,671.87 L231.08,671.87 L232.20,671.87 L233.32,671.87 L234.44,671.87 L235.56,671.87 L236.68,671.87 L237.80,671.87 L238.92,671.87 L240.04,671.87 L241.16,671.87 L242.28,671.87 L243.40,671.87 L244.52,671.87 L245.64,671.87 L246.76,671.87 L247.88,671.87 L249.00,671.87 L250.12,671.87 L251.24,671.87 L252.36,671.87 L253.48,671.87 L254.60,671.87 L255.72,671.87 L256.84,671.87 L257.96,671.87 L259.08,671.87 L260.20,671.87 L261.32,671.87 L262.44,671.87 L263.56,671.87 L264.68,671.87 L265.80,671.87 L266.92,671.87 L268.04,671.87 L269.16,671.87 L270.28,671.87 L271.40,671.87 L272.52,671.87 L273.64,671.87 L274.76,671.87 L275.88,671.87 L277.00,671.87 L278.12,671.87 L279.24,671.87 L280.36,671.87 L281.48,671.87 L282.60,671.87 L283.72,671.87 L284.84,671.87 L285.96,671.87 L287.08,671.87 L288.20,671.87 L289.32,671.87 L290.44,671.87 L291.56,671.87 L292.68,671.87 L293.80,671.87 L294.92,671.87 L296.04,671.87 L297.16,671.87 L298.28,671.87 L299.40,671.87 L300.52,671.87 L301.64,671.87 L302.76,671.87 L303.88,671.87 L305.00,671.87 L306.12,671.87 L307.24,671.87 L308.36,671.87 L309.48,671.87 L310.60,671.87 L311.72,671.88 L312.84,671.88 L313.96,671.88 L315.08,671.88 L316.20,671.88 L317.32,671.88 L318.44,671.88 L319.56,671.88 L320.68,671.88 L321.80,671.88 L322.92,671.89 L324.04,671.89 L325.16,671.89 L326.28,671.89 L327.40,671.89 L328.52,671.90 L329.64,671.90 L330.76,671.90 L331.88,671.91 L333.00,671.91 L334.12,671.92 L335.24,671.93 L336.36,671.93 L337.48,671.94 L338.60,671.95 L339.72,671.96 L340.84,671.97 L341.96,671.99 L343.08,672.00 L344.20,672.02 L345.32,672.04 L346.44,672.06 L347.56,672.09 L348.68,672.12 L349.80,672.15 L350.92,672.19 L352.04,672.23 L353.16,672.28 L354.28,672.33 L355.40,672.39 L356.52,672.46 L357.64,672.54 L358.76,672.62 L359.88,672.72 L361.00,672.84 L362.12,672.96 L363.24,673.11 L364.36,673.27 L365.48,673.45 L366.60,673.66 L367.72,673.89 L368.84,674.15 L369.96,674.45 L371.08,674.78 L372.20,675.15 L373.32,675.57 L374.44,676.04 L375.56,676.57 L376.68,677.16 L377.80,677.83 L378.92,678.57 L380.04,679.39 L381.16,680.30 L382.28,681.32 L383.40,682.44 L384.52,683.69 L385.64,685.05 L386.76,686.55 L387.88,688.19 L389.00,689.97 L390.12,691.90 L391.24,693.98 L392.36,696.21 L393.48,698.59 L394.60,701.12 L395.72,703.78 L396.84,706.57 L397.96,709.48 L399.08,712.47 L400.20,715.55 L401.32,718.67 L402.44,721.83 L403.56,725.00 L404.68,728.14 L405.80,731.25 L406.92,734.29 L408.04,737.24 L409.16,740.09 L410.28,742.82 L411.40,745.42 L412.52,747.88 L413.64,750.18 L414.76,752.34 L415.88,754.35 L417.00,756.21 L418.12,757.92 L419.24,759.49 L420.36,760.92 L421.48,762.22 L422.60,763.40 L423.72,764.48 L424.84,765.44 L425.96,766.31 L427.08,767.09 L428.20,767.79 L429.32,768.42 L430.44,768.98 L431.56,769.48 L432.68,769.93 L433.80,770.32 L434.92,770.68 L436.04,770.99 L437.16,771.27 L438.28,771.51 L439.40,771.73 L440.52,771.93 L441.64,772.10 L442.76,772.25 L443.88,772.39 L445.00,772.51 L446.12,772.61 L447.24,772.71 L448.36,772.79 L449.48,772.86 L450.60,772.93 L451.72,772.98 L452.84,773.03 L453.96,773.08 L455.08,773.12 L456.20,773.15 L457.32,773.18 L458.44,773.21 L459.56,773.24 L460.68,773.26 L461.80,773.28" fill="none" stroke="#000" stroke-width="4.3" stroke-linejoin="round"/>
<line x1="125.80" y1="646.90" x2="125.80" y2="673.30" stroke="#c15f9d" stroke-width="4.2"/>
<line x1="116.80" y1="646.90" x2="134.80" y2="646.90" stroke="#c15f9d" stroke-width="4.2"/>
<line x1="116.80" y1="673.30" x2="134.80" y2="673.30" stroke="#c15f9d" stroke-width="4.2"/>
<line x1="204.08" y1="641.10" x2="204.08" y2="674.90" stroke="#c15f9d" stroke-width="4.2"/>
<line x1="195.08" y1="641.10" x2="213.08" y2="641.10" stroke="#c15f9d" stroke-width="4.2"/>
<line x1="195.08" y1="674.90" x2="213.08" y2="674.90" stroke="#c15f9d" stroke-width="4.2"/>
<line x1="237.80" y1="649.80" x2="237.80" y2="689.30" stroke="#c15f9d" stroke-width="4.2"/>
<line x1="228.80" y1="649.80" x2="246.80" y2="649.80" stroke="#c15f9d" stroke-width="4.2"/>
<line x1="228.80" y1="689.30" x2="246.80" y2="689.30" stroke="#c15f9d" stroke-width="4.2"/>
<line x1="316.08" y1="654.90" x2="316.08" y2="676.50" stroke="#c15f9d" stroke-width="4.2"/>
<line x1="307.08" y1="654.90" x2="325.08" y2="654.90" stroke="#c15f9d" stroke-width="4.2"/>
<line x1="307.08" y1="676.50" x2="325.08" y2="676.50" stroke="#c15f9d" stroke-width="4.2"/>
<line x1="349.80" y1="662.00" x2="349.80" y2="695.10" stroke="#c15f9d" stroke-width="4.2"/>
<line x1="340.80" y1="662.00" x2="358.80" y2="662.00" stroke="#c15f9d" stroke-width="4.2"/>
<line x1="340.80" y1="695.10" x2="358.80" y2="695.10" stroke="#c15f9d" stroke-width="4.2"/>
<line x1="383.52" y1="699.00" x2="383.52" y2="729.50" stroke="#c15f9d" stroke-width="4.2"/>
<line x1="374.52" y1="699.00" x2="392.52" y2="699.00" stroke="#c15f9d" stroke-width="4.2"/>
<line x1="374.52" y1="729.50" x2="392.52" y2="729.50" stroke="#c15f9d" stroke-width="4.2"/>
<line x1="428.08" y1="725.30" x2="428.08" y2="761.70" stroke="#c15f9d" stroke-width="4.2"/>
<line x1="419.08" y1="725.30" x2="437.08" y2="725.30" stroke="#c15f9d" stroke-width="4.2"/>
<line x1="419.08" y1="761.70" x2="437.08" y2="761.70" stroke="#c15f9d" stroke-width="4.2"/>
<line x1="461.80" y1="746.60" x2="461.80" y2="774.50" stroke="#c15f9d" stroke-width="4.2"/>
<line x1="452.80" y1="746.60" x2="470.80" y2="746.60" stroke="#c15f9d" stroke-width="4.2"/>
<line x1="452.80" y1="774.50" x2="470.80" y2="774.50" stroke="#c15f9d" stroke-width="4.2"/>
<rect x="116.55" y="649.55" width="18.50" height="18.50" fill="#c15f9d"/>
<rect x="194.83" y="647.95" width="18.50" height="18.50" fill="#c15f9d"/>
<rect x="228.55" y="656.95" width="18.50" height="18.50" fill="#c15f9d"/>
<rect x="306.83" y="658.55" width="18.50" height="18.50" fill="#c15f9d"/>
<rect x="340.55" y="670.45" width="18.50" height="18.50" fill="#c15f9d"/>
<rect x="374.27" y="703.55" width="18.50" height="18.50" fill="#c15f9d"/>
<rect x="418.83" y="734.75" width="18.50" height="18.50" fill="#c15f9d"/>
<rect x="452.55" y="750.85" width="18.50" height="18.50" fill="#c15f9d"/>
<line x1="125.80" y1="648.50" x2="125.80" y2="676.50" stroke="#000" stroke-width="4.2"/>
<line x1="116.80" y1="648.50" x2="134.80" y2="648.50" stroke="#000" stroke-width="4.2"/>
<line x1="116.80" y1="676.50" x2="134.80" y2="676.50" stroke="#000" stroke-width="4.2"/>
<line x1="204.08" y1="659.40" x2="204.08" y2="690.90" stroke="#000" stroke-width="4.2"/>
<line x1="195.08" y1="659.40" x2="213.08" y2="659.40" stroke="#000" stroke-width="4.2"/>
<line x1="195.08" y1="690.90" x2="213.08" y2="690.90" stroke="#000" stroke-width="4.2"/>
<line x1="383.52" y1="669.00" x2="383.52" y2="693.20" stroke="#000" stroke-width="4.2"/>
<line x1="374.52" y1="669.00" x2="392.52" y2="669.00" stroke="#000" stroke-width="4.2"/>
<line x1="374.52" y1="693.20" x2="392.52" y2="693.20" stroke="#000" stroke-width="4.2"/>
<line x1="428.08" y1="756.20" x2="428.08" y2="785.80" stroke="#000" stroke-width="4.2"/>
<line x1="419.08" y1="756.20" x2="437.08" y2="756.20" stroke="#000" stroke-width="4.2"/>
<line x1="419.08" y1="785.80" x2="437.08" y2="785.80" stroke="#000" stroke-width="4.2"/>
<circle cx="125.80" cy="663.60" r="9.50" fill="#000"/>
<circle cx="204.08" cy="675.80" r="9.50" fill="#000"/>
<circle cx="237.80" cy="678.10" r="9.50" fill="#000"/>
<circle cx="316.08" cy="681.90" r="9.50" fill="#000"/>
<circle cx="349.80" cy="666.80" r="9.50" fill="#000"/>
<circle cx="383.52" cy="681.30" r="9.50" fill="#000"/>
<circle cx="428.08" cy="770.70" r="9.50" fill="#000"/>
<circle cx="461.80" cy="773.90" r="9.50" fill="#000"/>
<line x1="147.90" y1="539.80" x2="194.50" y2="539.80" stroke="#000" stroke-width="4.3"/>
<circle cx="171.20" cy="539.80" r="9.50" fill="#000"/>
<text x="221.80" y="551.00" font-size="27.50" textLength="78.80" lengthAdjust="spacingAndGlyphs">PCDH</text>
<line x1="147.90" y1="575.20" x2="194.50" y2="575.20" stroke="#c15f9d" stroke-width="4.3"/>
<rect x="161.95" y="565.95" width="18.50" height="18.50" fill="#c15f9d"/>
<text x="221.80" y="584.80" font-size="27.50" textLength="83.60" lengthAdjust="spacingAndGlyphs">MYCN</text>
<text x="147.20" y="797.20" font-size="27.50" textLength="122.50" lengthAdjust="spacingAndGlyphs">IC50(μM):</text>
<text x="147.20" y="827.30" font-size="27.50" textLength="236.00" lengthAdjust="spacingAndGlyphs">PCDH: 8.73 ± 1.84</text>
<text x="147.20" y="861.50" font-size="27.50" textLength="239.70" lengthAdjust="spacingAndGlyphs">MYCN: 9.41 ± 1.50</text>
<line x1="547.80" y1="543.80" x2="547.80" y2="891.60" stroke="#000" stroke-width="4.8"/>
<line x1="534.80" y1="878.60" x2="886.20" y2="878.60" stroke="#000" stroke-width="4.8"/>
<line x1="534.80" y1="878.60" x2="547.80" y2="878.60" stroke="#000" stroke-width="4.8"/>
<text x="528.60" y="890.90" font-size="37.00" text-anchor="end">0.0</text>
<line x1="534.80" y1="767.00" x2="547.80" y2="767.00" stroke="#000" stroke-width="4.8"/>
<text x="528.60" y="779.30" font-size="37.00" text-anchor="end">0.5</text>
<line x1="534.80" y1="655.40" x2="547.80" y2="655.40" stroke="#000" stroke-width="4.8"/>
<text x="528.60" y="667.70" font-size="37.00" text-anchor="end">1.0</text>
<line x1="534.80" y1="543.80" x2="547.80" y2="543.80" stroke="#000" stroke-width="4.8"/>
<text x="528.60" y="556.10" font-size="37.00" text-anchor="end">1.5</text>
<line x1="547.80" y1="878.60" x2="547.80" y2="891.60" stroke="#000" stroke-width="4.8"/>
<text x="547.80" y="933.10" font-size="37.00" text-anchor="middle">0.01</text>
<line x1="659.80" y1="878.60" x2="659.80" y2="891.60" stroke="#000" stroke-width="4.8"/>
<text x="659.80" y="933.10" font-size="37.00" text-anchor="middle">0.1</text>
<line x1="771.80" y1="878.60" x2="771.80" y2="891.60" stroke="#000" stroke-width="4.8"/>
<text x="771.80" y="933.10" font-size="37.00" text-anchor="middle">1</text>
<line x1="883.80" y1="878.60" x2="883.80" y2="891.60" stroke="#000" stroke-width="4.8"/>
<text x="883.80" y="933.10" font-size="37.00" text-anchor="middle">10</text>
<text x="715.70" y="983.00" font-size="36.00" text-anchor="middle" textLength="181.80" lengthAdjust="spacingAndGlyphs">[RSL3], μM</text>
<path d="M547.80,641.89 L548.92,641.91 L550.04,641.93 L551.16,641.96 L552.28,641.98 L553.40,642.01 L554.52,642.04 L555.64,642.07 L556.76,642.10 L557.88,642.13 L559.00,642.16 L560.12,642.19 L561.24,642.22 L562.36,642.26 L563.48,642.29 L564.60,642.33 L565.72,642.37 L566.84,642.40 L567.96,642.44 L569.08,642.49 L570.20,642.53 L571.32,642.57 L572.44,642.62 L573.56,642.67 L574.68,642.71 L575.80,642.76 L576.92,642.82 L578.04,642.87 L579.16,642.92 L580.28,642.98 L581.40,643.04 L582.52,643.10 L583.64,643.16 L584.76,643.23 L585.88,643.29 L587.00,643.36 L588.12,643.43 L589.24,643.51 L590.36,643.58 L591.48,643.66 L592.60,643.74 L593.72,643.82 L594.84,643.91 L595.96,644.00 L597.08,644.09 L598.20,644.18 L599.32,644.28 L600.44,644.38 L601.56,644.48 L602.68,644.59 L603.80,644.70 L604.92,644.81 L606.04,644.93 L607.16,645.05 L608.28,645.17 L609.40,645.30 L610.52,645.43 L611.64,645.57 L612.76,645.71 L613.88,645.85 L615.00,646.00 L616.12,646.16 L617.24,646.31 L618.36,646.48 L619.48,646.65 L620.60,646.82 L621.72,647.00 L622.84,647.18 L623.96,647.37 L625.08,647.57 L626.20,647.77 L627.32,647.98 L628.44,648.19 L629.56,648.41 L630.68,648.64 L631.80,648.87 L632.92,649.11 L634.04,649.36 L635.16,649.62 L636.28,649.88 L637.40,650.15 L638.52,650.43 L639.64,650.71 L640.76,651.01 L641.88,651.31 L643.00,651.62 L644.12,651.95 L645.24,652.28 L646.36,652.62 L647.48,652.97 L648.60,653.32 L649.72,653.69 L650.84,654.07 L651.96,654.46 L653.08,654.87 L654.20,655.28 L655.32,655.70 L656.44,656.14 L657.56,656.58 L658.68,657.04 L659.80,657.51 L660.92,658.00 L662.04,658.50 L663.16,659.01 L664.28,659.53 L665.40,660.06 L666.52,660.61 L667.64,661.18 L668.76,661.76 L669.88,662.35 L671.00,662.96 L672.12,663.58 L673.24,664.22 L674.36,664.87 L675.48,665.54 L676.60,666.22 L677.72,666.93 L678.84,667.64 L679.96,668.37 L681.08,669.12 L682.20,669.89 L683.32,670.67 L684.44,671.47 L685.56,672.29 L686.68,673.12 L687.80,673.98 L688.92,674.85 L690.04,675.73 L691.16,676.64 L692.28,677.56 L693.40,678.50 L694.52,679.45 L695.64,680.43 L696.76,681.42 L697.88,682.43 L699.00,683.46 L700.12,684.50 L701.24,685.57 L702.36,686.64 L703.48,687.74 L704.60,688.85 L705.72,689.98 L706.84,691.13 L707.96,692.29 L709.08,693.47 L710.20,694.66 L711.32,695.87 L712.44,697.10 L713.56,698.34 L714.68,699.59 L715.80,700.86 L716.92,702.14 L718.04,703.43 L719.16,704.73 L720.28,706.05 L721.40,707.38 L722.52,708.72 L723.64,710.07 L724.76,711.43 L725.88,712.80 L727.00,714.17 L728.12,715.56 L729.24,716.95 L730.36,718.35 L731.48,719.75 L732.60,721.16 L733.72,722.57 L734.84,723.99 L735.96,725.41 L737.08,726.83 L738.20,728.25 L739.32,729.68 L740.44,731.10 L741.56,732.53 L742.68,733.95 L743.80,735.37 L744.92,736.78 L746.04,738.20 L747.16,739.61 L748.28,741.01 L749.40,742.41 L750.52,743.80 L751.64,745.18 L752.76,746.56 L753.88,747.93 L755.00,749.29 L756.12,750.64 L757.24,751.97 L758.36,753.30 L759.48,754.62 L760.60,755.92 L761.72,757.22 L762.84,758.50 L763.96,759.76 L765.08,761.01 L766.20,762.25 L767.32,763.48 L768.44,764.68 L769.56,765.88 L770.68,767.06 L771.80,768.22 L772.92,769.36 L774.04,770.49 L775.16,771.60 L776.28,772.70 L777.40,773.78 L778.52,774.84 L779.64,775.88 L780.76,776.91 L781.88,777.92 L783.00,778.91 L784.12,779.89 L785.24,780.84 L786.36,781.78 L787.48,782.70 L788.60,783.61 L789.72,784.49 L790.84,785.36 L791.96,786.21 L793.08,787.04 L794.20,787.86 L795.32,788.66 L796.44,789.44 L797.56,790.21 L798.68,790.96 L799.80,791.69 L800.92,792.41 L802.04,793.11 L803.16,793.79 L804.28,794.46 L805.40,795.11 L806.52,795.75 L807.64,796.37 L808.76,796.98 L809.88,797.57 L811.00,798.15 L812.12,798.71 L813.24,799.26 L814.36,799.80 L815.48,800.32 L816.60,800.83 L817.72,801.32 L818.84,801.81 L819.96,802.28 L821.08,802.74 L822.20,803.18 L823.32,803.62 L824.44,804.04 L825.56,804.45 L826.68,804.85 L827.80,805.24 L828.92,805.62 L830.04,805.99 L831.16,806.35 L832.28,806.70 L833.40,807.04 L834.52,807.37 L835.64,807.69 L836.76,808.00 L837.88,808.31 L839.00,808.60 L840.12,808.89 L841.24,809.17 L842.36,809.44 L843.48,809.70 L844.60,809.95 L845.72,810.20 L846.84,810.44 L847.96,810.68 L849.08,810.90 L850.20,811.12 L851.32,811.34 L852.44,811.54 L853.56,811.74 L854.68,811.94 L855.80,812.13 L856.92,812.31 L858.04,812.49 L859.16,812.67 L860.28,812.83 L861.40,813.00 L862.52,813.15 L863.64,813.31 L864.76,813.46 L865.88,813.60 L867.00,813.74 L868.12,813.88 L869.24,814.01 L870.36,814.14 L871.48,814.26 L872.60,814.38 L873.72,814.50 L874.84,814.61 L875.96,814.72 L877.08,814.83 L878.20,814.93 L879.32,815.03 L880.44,815.13 L881.56,815.22 L882.68,815.31 L883.80,815.40" fill="none" stroke="#c15f9d" stroke-width="4.3" stroke-linejoin="round"/>
<path d="M547.80,636.25 L548.92,636.25 L550.04,636.25 L551.16,636.25 L552.28,636.25 L553.40,636.25 L554.52,636.25 L555.64,636.25 L556.76,636.25 L557.88,636.25 L559.00,636.25 L560.12,636.25 L561.24,636.25 L562.36,636.25 L563.48,636.25 L564.60,636.25 L565.72,636.25 L566.84,636.25 L567.96,636.25 L569.08,636.25 L570.20,636.25 L571.32,636.25 L572.44,636.25 L573.56,636.25 L574.68,636.25 L575.80,636.25 L576.92,636.25 L578.04,636.25 L579.16,636.25 L580.28,636.25 L581.40,636.25 L582.52,636.25 L583.64,636.25 L584.76,636.25 L585.88,636.25 L587.00,636.25 L588.12,636.25 L589.24,636.25 L590.36,636.25 L591.48,636.25 L592.60,636.25 L593.72,636.25 L594.84,636.25 L595.96,636.25 L597.08,636.25 L598.20,636.25 L599.32,636.25 L600.44,636.25 L601.56,636.25 L602.68,636.25 L603.80,636.25 L604.92,636.25 L606.04,636.25 L607.16,636.25 L608.28,636.25 L609.40,636.25 L610.52,636.25 L611.64,636.25 L612.76,636.25 L613.88,636.25 L615.00,636.25 L616.12,636.25 L617.24,636.25 L618.36,636.25 L619.48,636.25 L620.60,636.25 L621.72,636.25 L622.84,636.25 L623.96,636.25 L625.08,636.25 L626.20,636.25 L627.32,636.25 L628.44,636.25 L629.56,636.25 L630.68,636.25 L631.80,636.25 L632.92,636.25 L634.04,636.25 L635.16,636.25 L636.28,636.25 L637.40,636.25 L638.52,636.25 L639.64,636.25 L640.76,636.25 L641.88,636.25 L643.00,636.25 L644.12,636.25 L645.24,636.25 L646.36,636.25 L647.48,636.25 L648.60,636.25 L649.72,636.25 L650.84,636.25 L651.96,636.25 L653.08,636.25 L654.20,636.25 L655.32,636.25 L656.44,636.25 L657.56,636.25 L658.68,636.25 L659.80,636.25 L660.92,636.25 L662.04,636.25 L663.16,636.25 L664.28,636.25 L665.40,636.25 L666.52,636.25 L667.64,636.25 L668.76,636.25 L669.88,636.25 L671.00,636.25 L672.12,636.25 L673.24,636.25 L674.36,636.25 L675.48,636.25 L676.60,636.25 L677.72,636.25 L678.84,636.25 L679.96,636.25 L681.08,636.25 L682.20,636.25 L683.32,636.25 L684.44,636.25 L685.56,636.25 L686.68,636.25 L687.80,636.25 L688.92,636.25 L690.04,636.25 L691.16,636.25 L692.28,636.25 L693.40,636.25 L694.52,636.25 L695.64,636.25 L696.76,636.25 L697.88,636.25 L699.00,636.25 L700.12,636.25 L701.24,636.25 L702.36,636.25 L703.48,636.25 L704.60,636.25 L705.72,636.25 L706.84,636.25 L707.96,636.25 L709.08,636.25 L710.20,636.25 L711.32,636.25 L712.44,636.25 L713.56,636.25 L714.68,636.25 L715.80,636.25 L716.92,636.25 L718.04,636.25 L719.16,636.25 L720.28,636.25 L721.40,636.25 L722.52,636.25 L723.64,636.25 L724.76,636.25 L725.88,636.25 L727.00,636.25 L728.12,636.25 L729.24,636.25 L730.36,636.25 L731.48,636.25 L732.60,636.25 L733.72,636.25 L734.84,636.25 L735.96,636.25 L737.08,636.25 L738.20,636.25 L739.32,636.25 L740.44,636.25 L741.56,636.25 L742.68,636.25 L743.80,636.25 L744.92,636.25 L746.04,636.25 L747.16,636.25 L748.28,636.25 L749.40,636.25 L750.52,636.25 L751.64,636.25 L752.76,636.25 L753.88,636.25 L755.00,636.25 L756.12,636.25 L757.24,636.25 L758.36,636.25 L759.48,636.25 L760.60,636.25 L761.72,636.25 L762.84,636.25 L763.96,636.25 L765.08,636.25 L766.20,636.25 L767.32,636.25 L768.44,636.25 L769.56,636.25 L770.68,636.25 L771.80,636.25 L772.92,636.25 L774.04,636.25 L775.16,636.25 L776.28,636.25 L777.40,636.25 L778.52,636.25 L779.64,636.25 L780.76,636.25 L781.88,636.25 L783.00,636.25 L784.12,636.25 L785.24,636.25 L786.36,636.25 L787.48,636.25 L788.60,636.25 L789.72,636.25 L790.84,636.25 L791.96,636.25 L793.08,636.25 L794.20,636.25 L795.32,636.26 L796.44,636.26 L797.56,636.26 L798.68,636.26 L799.80,636.27 L800.92,636.27 L802.04,636.28 L803.16,636.28 L804.28,636.29 L805.40,636.30 L806.52,636.32 L807.64,636.33 L808.76,636.35 L809.88,636.38 L811.00,636.41 L812.12,636.44 L813.24,636.49 L814.36,636.55 L815.48,636.62 L816.60,636.70 L817.72,636.81 L818.84,636.94 L819.96,637.10 L821.08,637.30 L822.20,637.54 L823.32,637.84 L824.44,638.21 L825.56,638.66 L826.68,639.21 L827.80,639.88 L828.92,640.70 L830.04,641.69 L831.16,642.90 L832.28,644.36 L833.40,646.11 L834.52,648.20 L835.64,650.68 L836.76,653.60 L837.88,657.01 L839.00,660.94 L840.12,665.42 L841.24,670.46 L842.36,676.02 L843.48,682.06 L844.60,688.49 L845.72,695.20 L846.84,702.06 L847.96,708.91 L849.08,715.61 L850.20,722.02 L851.32,728.03 L852.44,733.56 L853.56,738.56 L854.68,743.00 L855.80,746.90 L856.92,750.27 L858.04,753.17 L859.16,755.62 L860.28,757.69 L861.40,759.42 L862.52,760.86 L863.64,762.05 L864.76,763.03 L865.88,763.84 L867.00,764.50 L868.12,765.04 L869.24,765.49 L870.36,765.85 L871.48,766.14 L872.60,766.38 L873.72,766.58 L874.84,766.74 L875.96,766.87 L877.08,766.97 L878.20,767.06 L879.32,767.13 L880.44,767.18 L881.56,767.23 L882.68,767.26 L883.80,767.29" fill="none" stroke="#000" stroke-width="4.3" stroke-linejoin="round"/>
<line x1="547.80" y1="630.20" x2="547.80" y2="650.20" stroke="#c15f9d" stroke-width="4.2"/>
<line x1="538.80" y1="630.20" x2="556.80" y2="630.20" stroke="#c15f9d" stroke-width="4.2"/>
<line x1="538.80" y1="650.20" x2="556.80" y2="650.20" stroke="#c15f9d" stroke-width="4.2"/>
<line x1="626.08" y1="617.40" x2="626.08" y2="672.00" stroke="#c15f9d" stroke-width="4.2"/>
<line x1="617.08" y1="617.40" x2="635.08" y2="617.40" stroke="#c15f9d" stroke-width="4.2"/>
<line x1="617.08" y1="672.00" x2="635.08" y2="672.00" stroke="#c15f9d" stroke-width="4.2"/>
<line x1="659.80" y1="622.50" x2="659.80" y2="679.50" stroke="#c15f9d" stroke-width="4.2"/>
<line x1="650.80" y1="622.50" x2="668.80" y2="622.50" stroke="#c15f9d" stroke-width="4.2"/>
<line x1="650.80" y1="679.50" x2="668.80" y2="679.50" stroke="#c15f9d" stroke-width="4.2"/>
<line x1="738.08" y1="716.50" x2="738.08" y2="759.60" stroke="#c15f9d" stroke-width="4.2"/>
<line x1="729.08" y1="716.50" x2="747.08" y2="716.50" stroke="#c15f9d" stroke-width="4.2"/>
<line x1="729.08" y1="759.60" x2="747.08" y2="759.60" stroke="#c15f9d" stroke-width="4.2"/>
<line x1="771.80" y1="742.60" x2="771.80" y2="782.70" stroke="#c15f9d" stroke-width="4.2"/>
<line x1="762.80" y1="742.60" x2="780.80" y2="742.60" stroke="#c15f9d" stroke-width="4.2"/>
<line x1="762.80" y1="782.70" x2="780.80" y2="782.70" stroke="#c15f9d" stroke-width="4.2"/>
<line x1="805.52" y1="779.00" x2="805.52" y2="818.10" stroke="#c15f9d" stroke-width="4.2"/>
<line x1="796.52" y1="779.00" x2="814.52" y2="779.00" stroke="#c15f9d" stroke-width="4.2"/>
<line x1="796.52" y1="818.10" x2="814.52" y2="818.10" stroke="#c15f9d" stroke-width="4.2"/>
<line x1="883.80" y1="813.20" x2="883.80" y2="835.40" stroke="#c15f9d" stroke-width="4.2"/>
<line x1="874.80" y1="813.20" x2="892.80" y2="813.20" stroke="#c15f9d" stroke-width="4.2"/>
<line x1="874.80" y1="835.40" x2="892.80" y2="835.40" stroke="#c15f9d" stroke-width="4.2"/>
<rect x="538.70" y="628.40" width="18.20" height="18.20" fill="#c15f9d"/>
<rect x="616.98" y="636.70" width="18.20" height="18.20" fill="#c15f9d"/>
<rect x="650.70" y="642.70" width="18.20" height="18.20" fill="#c15f9d"/>
<rect x="728.98" y="728.90" width="18.20" height="18.20" fill="#c15f9d"/>
<rect x="762.70" y="753.60" width="18.20" height="18.20" fill="#c15f9d"/>
<rect x="796.42" y="789.00" width="18.20" height="18.20" fill="#c15f9d"/>
<rect x="840.98" y="796.70" width="18.20" height="18.20" fill="#c15f9d"/>
<rect x="874.70" y="815.20" width="18.20" height="18.20" fill="#c15f9d"/>
<line x1="547.80" y1="638.00" x2="547.80" y2="664.60" stroke="#000" stroke-width="4.2"/>
<line x1="538.80" y1="638.00" x2="556.80" y2="638.00" stroke="#000" stroke-width="4.2"/>
<line x1="538.80" y1="664.60" x2="556.80" y2="664.60" stroke="#000" stroke-width="4.2"/>
<line x1="659.80" y1="623.10" x2="659.80" y2="667.20" stroke="#000" stroke-width="4.2"/>
<line x1="650.80" y1="623.10" x2="668.80" y2="623.10" stroke="#000" stroke-width="4.2"/>
<line x1="650.80" y1="667.20" x2="668.80" y2="667.20" stroke="#000" stroke-width="4.2"/>
<line x1="738.08" y1="599.40" x2="738.08" y2="617.90" stroke="#000" stroke-width="4.2"/>
<line x1="729.08" y1="599.40" x2="747.08" y2="599.40" stroke="#000" stroke-width="4.2"/>
<line x1="729.08" y1="617.90" x2="747.08" y2="617.90" stroke="#000" stroke-width="4.2"/>
<line x1="771.80" y1="600.90" x2="771.80" y2="650.20" stroke="#000" stroke-width="4.2"/>
<line x1="762.80" y1="600.90" x2="780.80" y2="600.90" stroke="#000" stroke-width="4.2"/>
<line x1="762.80" y1="650.20" x2="780.80" y2="650.20" stroke="#000" stroke-width="4.2"/>
<line x1="805.52" y1="603.40" x2="805.52" y2="661.90" stroke="#000" stroke-width="4.2"/>
<line x1="796.52" y1="603.40" x2="814.52" y2="603.40" stroke="#000" stroke-width="4.2"/>
<line x1="796.52" y1="661.90" x2="814.52" y2="661.90" stroke="#000" stroke-width="4.2"/>
<line x1="850.08" y1="705.70" x2="850.08" y2="739.00" stroke="#000" stroke-width="4.2"/>
<line x1="841.08" y1="705.70" x2="859.08" y2="705.70" stroke="#000" stroke-width="4.2"/>
<line x1="841.08" y1="739.00" x2="859.08" y2="739.00" stroke="#000" stroke-width="4.2"/>
<line x1="883.80" y1="747.30" x2="883.80" y2="785.80" stroke="#000" stroke-width="4.2"/>
<line x1="874.80" y1="747.30" x2="892.80" y2="747.30" stroke="#000" stroke-width="4.2"/>
<line x1="874.80" y1="785.80" x2="892.80" y2="785.80" stroke="#000" stroke-width="4.2"/>
<circle cx="547.80" cy="649.20" r="9.10" fill="#000"/>
<circle cx="626.08" cy="627.60" r="9.10" fill="#000"/>
<circle cx="659.80" cy="645.60" r="9.10" fill="#000"/>
<circle cx="738.08" cy="608.60" r="9.10" fill="#000"/>
<circle cx="771.80" cy="626.20" r="9.10" fill="#000"/>
<circle cx="805.52" cy="632.30" r="9.10" fill="#000"/>
<circle cx="850.08" cy="722.60" r="9.10" fill="#000"/>
<circle cx="883.80" cy="766.70" r="9.10" fill="#000"/>
<line x1="558.20" y1="539.30" x2="606.10" y2="539.30" stroke="#000" stroke-width="4.3"/>
<circle cx="582.15" cy="539.30" r="9.10" fill="#000"/>
<text x="634.10" y="549.20" font-size="27.50" textLength="77.00" lengthAdjust="spacingAndGlyphs">PCDH</text>
<line x1="558.20" y1="579.80" x2="606.10" y2="579.80" stroke="#c15f9d" stroke-width="4.3"/>
<rect x="573.05" y="570.70" width="18.20" height="18.20" fill="#c15f9d"/>
<text x="634.10" y="590.10" font-size="27.50" textLength="81.60" lengthAdjust="spacingAndGlyphs">MYCN</text>
<text x="563.20" y="796.60" font-size="27.50" textLength="122.50" lengthAdjust="spacingAndGlyphs">IC50(μM):</text>
<text x="563.20" y="827.40" font-size="27.50" textLength="235.70" lengthAdjust="spacingAndGlyphs">PCDH: 9.38 ± 1.09</text>
<text x="563.20" y="861.30" font-size="27.50" textLength="237.30" lengthAdjust="spacingAndGlyphs">MYCN: 1.43 ± 0.21</text>
<text x="904.30" y="840.66" font-size="32" text-anchor="middle" stroke="#000" stroke-width="1.1" stroke-linejoin="round">*</text>
<text x="918.80" y="840.66" font-size="32" text-anchor="middle" stroke="#000" stroke-width="1.1" stroke-linejoin="round">*</text>
<line x1="983.30" y1="543.20" x2="983.30" y2="889.50" stroke="#000" stroke-width="4.8"/>
<line x1="970.30" y1="876.50" x2="1321.10" y2="876.50" stroke="#000" stroke-width="4.8"/>
<line x1="970.30" y1="876.50" x2="983.30" y2="876.50" stroke="#000" stroke-width="4.8"/>
<text x="963.60" y="887.10" font-size="37.00" text-anchor="end">0.0</text>
<line x1="970.30" y1="765.40" x2="983.30" y2="765.40" stroke="#000" stroke-width="4.8"/>
<text x="963.60" y="776.00" font-size="37.00" text-anchor="end">0.5</text>
<line x1="970.30" y1="654.30" x2="983.30" y2="654.30" stroke="#000" stroke-width="4.8"/>
<text x="963.60" y="664.90" font-size="37.00" text-anchor="end">1.0</text>
<line x1="970.30" y1="543.20" x2="983.30" y2="543.20" stroke="#000" stroke-width="4.8"/>
<text x="963.60" y="553.80" font-size="37.00" text-anchor="end">1.5</text>
<line x1="983.30" y1="876.50" x2="983.30" y2="889.50" stroke="#000" stroke-width="4.8"/>
<text x="983.30" y="930.20" font-size="35.50" text-anchor="middle">0.01</text>
<line x1="1095.10" y1="876.50" x2="1095.10" y2="889.50" stroke="#000" stroke-width="4.8"/>
<text x="1095.10" y="930.20" font-size="35.50" text-anchor="middle">0.1</text>
<line x1="1206.90" y1="876.50" x2="1206.90" y2="889.50" stroke="#000" stroke-width="4.8"/>
<text x="1206.90" y="930.20" font-size="35.50" text-anchor="middle">1</text>
<line x1="1318.70" y1="876.50" x2="1318.70" y2="889.50" stroke="#000" stroke-width="4.8"/>
<text x="1318.70" y="930.20" font-size="35.50" text-anchor="middle">10</text>
<text x="1151.20" y="981.80" font-size="36.00" text-anchor="middle" textLength="179.90" lengthAdjust="spacingAndGlyphs">[RSL3], μM</text>
<path d="M983.30,688.21 L984.42,688.21 L985.54,688.21 L986.65,688.21 L987.77,688.21 L988.89,688.21 L990.01,688.21 L991.13,688.21 L992.24,688.21 L993.36,688.21 L994.48,688.21 L995.60,688.21 L996.72,688.21 L997.83,688.21 L998.95,688.21 L1000.07,688.21 L1001.19,688.21 L1002.31,688.21 L1003.42,688.21 L1004.54,688.21 L1005.66,688.21 L1006.78,688.21 L1007.90,688.21 L1009.01,688.21 L1010.13,688.21 L1011.25,688.21 L1012.37,688.21 L1013.49,688.21 L1014.60,688.21 L1015.72,688.21 L1016.84,688.21 L1017.96,688.21 L1019.08,688.21 L1020.19,688.21 L1021.31,688.21 L1022.43,688.21 L1023.55,688.21 L1024.67,688.21 L1025.78,688.21 L1026.90,688.21 L1028.02,688.21 L1029.14,688.21 L1030.26,688.21 L1031.37,688.21 L1032.49,688.21 L1033.61,688.21 L1034.73,688.21 L1035.85,688.21 L1036.96,688.21 L1038.08,688.21 L1039.20,688.21 L1040.32,688.21 L1041.44,688.21 L1042.55,688.21 L1043.67,688.21 L1044.79,688.21 L1045.91,688.21 L1047.03,688.21 L1048.14,688.21 L1049.26,688.21 L1050.38,688.21 L1051.50,688.21 L1052.62,688.21 L1053.73,688.21 L1054.85,688.21 L1055.97,688.21 L1057.09,688.21 L1058.21,688.21 L1059.32,688.21 L1060.44,688.21 L1061.56,688.21 L1062.68,688.21 L1063.80,688.21 L1064.91,688.21 L1066.03,688.21 L1067.15,688.21 L1068.27,688.21 L1069.39,688.21 L1070.50,688.21 L1071.62,688.21 L1072.74,688.21 L1073.86,688.21 L1074.98,688.21 L1076.09,688.21 L1077.21,688.21 L1078.33,688.21 L1079.45,688.21 L1080.57,688.21 L1081.68,688.21 L1082.80,688.21 L1083.92,688.21 L1085.04,688.21 L1086.16,688.21 L1087.27,688.21 L1088.39,688.21 L1089.51,688.21 L1090.63,688.21 L1091.75,688.21 L1092.86,688.21 L1093.98,688.21 L1095.10,688.21 L1096.22,688.21 L1097.34,688.21 L1098.45,688.21 L1099.57,688.21 L1100.69,688.21 L1101.81,688.21 L1102.93,688.21 L1104.04,688.21 L1105.16,688.21 L1106.28,688.21 L1107.40,688.21 L1108.52,688.21 L1109.63,688.21 L1110.75,688.21 L1111.87,688.21 L1112.99,688.21 L1114.11,688.21 L1115.22,688.21 L1116.34,688.21 L1117.46,688.21 L1118.58,688.21 L1119.70,688.21 L1120.81,688.21 L1121.93,688.21 L1123.05,688.21 L1124.17,688.21 L1125.29,688.21 L1126.40,688.21 L1127.52,688.21 L1128.64,688.21 L1129.76,688.21 L1130.88,688.21 L1131.99,688.21 L1133.11,688.21 L1134.23,688.21 L1135.35,688.21 L1136.47,688.21 L1137.58,688.21 L1138.70,688.21 L1139.82,688.21 L1140.94,688.21 L1142.06,688.21 L1143.17,688.21 L1144.29,688.21 L1145.41,688.21 L1146.53,688.21 L1147.65,688.21 L1148.76,688.21 L1149.88,688.21 L1151.00,688.21 L1152.12,688.21 L1153.24,688.21 L1154.35,688.21 L1155.47,688.21 L1156.59,688.21 L1157.71,688.21 L1158.83,688.21 L1159.94,688.21 L1161.06,688.21 L1162.18,688.21 L1163.30,688.21 L1164.42,688.21 L1165.53,688.21 L1166.65,688.21 L1167.77,688.21 L1168.89,688.21 L1170.01,688.21 L1171.12,688.21 L1172.24,688.21 L1173.36,688.21 L1174.48,688.21 L1175.60,688.21 L1176.71,688.21 L1177.83,688.21 L1178.95,688.21 L1180.07,688.21 L1181.19,688.21 L1182.30,688.21 L1183.42,688.21 L1184.54,688.21 L1185.66,688.21 L1186.78,688.21 L1187.89,688.21 L1189.01,688.21 L1190.13,688.21 L1191.25,688.21 L1192.37,688.21 L1193.48,688.21 L1194.60,688.21 L1195.72,688.21 L1196.84,688.21 L1197.96,688.21 L1199.07,688.21 L1200.19,688.21 L1201.31,688.22 L1202.43,688.22 L1203.55,688.22 L1204.66,688.22 L1205.78,688.22 L1206.90,688.22 L1208.02,688.22 L1209.14,688.22 L1210.25,688.22 L1211.37,688.22 L1212.49,688.22 L1213.61,688.22 L1214.73,688.22 L1215.84,688.23 L1216.96,688.23 L1218.08,688.23 L1219.20,688.23 L1220.32,688.24 L1221.43,688.24 L1222.55,688.24 L1223.67,688.25 L1224.79,688.25 L1225.91,688.26 L1227.02,688.26 L1228.14,688.27 L1229.26,688.28 L1230.38,688.28 L1231.50,688.29 L1232.61,688.31 L1233.73,688.32 L1234.85,688.33 L1235.97,688.35 L1237.09,688.37 L1238.20,688.39 L1239.32,688.41 L1240.44,688.44 L1241.56,688.47 L1242.68,688.50 L1243.79,688.54 L1244.91,688.58 L1246.03,688.63 L1247.15,688.69 L1248.27,688.75 L1249.38,688.82 L1250.50,688.91 L1251.62,689.00 L1252.74,689.10 L1253.86,689.22 L1254.97,689.36 L1256.09,689.51 L1257.21,689.68 L1258.33,689.88 L1259.45,690.10 L1260.56,690.35 L1261.68,690.63 L1262.80,690.95 L1263.92,691.32 L1265.04,691.72 L1266.15,692.18 L1267.27,692.70 L1268.39,693.29 L1269.51,693.94 L1270.63,694.68 L1271.74,695.51 L1272.86,696.44 L1273.98,697.48 L1275.10,698.65 L1276.22,699.95 L1277.33,701.39 L1278.45,703.00 L1279.57,704.78 L1280.69,706.74 L1281.81,708.91 L1282.92,711.29 L1284.04,713.89 L1285.16,716.72 L1286.28,719.79 L1287.40,723.10 L1288.51,726.65 L1289.63,730.44 L1290.75,734.47 L1291.87,738.71 L1292.99,743.15 L1294.10,747.76 L1295.22,752.52 L1296.34,757.40 L1297.46,762.36 L1298.58,767.35 L1299.69,772.36 L1300.81,777.32 L1301.93,782.21 L1303.05,786.98 L1304.17,791.61 L1305.28,796.07 L1306.40,800.33 L1307.52,804.38 L1308.64,808.20 L1309.76,811.77 L1310.87,815.11 L1311.99,818.20 L1313.11,821.06 L1314.23,823.68 L1315.35,826.08 L1316.46,828.27 L1317.58,830.26 L1318.70,832.06" fill="none" stroke="#c15f9d" stroke-width="4.3" stroke-linejoin="round"/>
<path d="M983.30,672.71 L984.42,672.71 L985.54,672.71 L986.65,672.71 L987.77,672.71 L988.89,672.71 L990.01,672.71 L991.13,672.71 L992.24,672.71 L993.36,672.71 L994.48,672.71 L995.60,672.71 L996.72,672.71 L997.83,672.71 L998.95,672.71 L1000.07,672.71 L1001.19,672.71 L1002.31,672.71 L1003.42,672.71 L1004.54,672.71 L1005.66,672.71 L1006.78,672.71 L1007.90,672.71 L1009.01,672.71 L1010.13,672.71 L1011.25,672.71 L1012.37,672.71 L1013.49,672.71 L1014.60,672.71 L1015.72,672.71 L1016.84,672.71 L1017.96,672.71 L1019.08,672.71 L1020.19,672.71 L1021.31,672.71 L1022.43,672.71 L1023.55,672.71 L1024.67,672.71 L1025.78,672.71 L1026.90,672.71 L1028.02,672.71 L1029.14,672.71 L1030.26,672.71 L1031.37,672.71 L1032.49,672.71 L1033.61,672.71 L1034.73,672.71 L1035.85,672.71 L1036.96,672.71 L1038.08,672.71 L1039.20,672.71 L1040.32,672.71 L1041.44,672.71 L1042.55,672.71 L1043.67,672.71 L1044.79,672.71 L1045.91,672.71 L1047.03,672.71 L1048.14,672.71 L1049.26,672.71 L1050.38,672.71 L1051.50,672.71 L1052.62,672.71 L1053.73,672.71 L1054.85,672.71 L1055.97,672.71 L1057.09,672.71 L1058.21,672.71 L1059.32,672.71 L1060.44,672.71 L1061.56,672.71 L1062.68,672.71 L1063.80,672.71 L1064.91,672.71 L1066.03,672.71 L1067.15,672.71 L1068.27,672.71 L1069.39,672.71 L1070.50,672.71 L1071.62,672.71 L1072.74,672.71 L1073.86,672.71 L1074.98,672.71 L1076.09,672.71 L1077.21,672.71 L1078.33,672.71 L1079.45,672.71 L1080.57,672.71 L1081.68,672.71 L1082.80,672.71 L1083.92,672.71 L1085.04,672.71 L1086.16,672.71 L1087.27,672.71 L1088.39,672.71 L1089.51,672.71 L1090.63,672.71 L1091.75,672.71 L1092.86,672.71 L1093.98,672.71 L1095.10,672.71 L1096.22,672.71 L1097.34,672.71 L1098.45,672.71 L1099.57,672.71 L1100.69,672.71 L1101.81,672.71 L1102.93,672.71 L1104.04,672.71 L1105.16,672.71 L1106.28,672.71 L1107.40,672.71 L1108.52,672.71 L1109.63,672.71 L1110.75,672.71 L1111.87,672.71 L1112.99,672.71 L1114.11,672.71 L1115.22,672.71 L1116.34,672.71 L1117.46,672.71 L1118.58,672.71 L1119.70,672.71 L1120.81,672.71 L1121.93,672.71 L1123.05,672.71 L1124.17,672.71 L1125.29,672.71 L1126.40,672.71 L1127.52,672.71 L1128.64,672.71 L1129.76,672.71 L1130.88,672.71 L1131.99,672.71 L1133.11,672.71 L1134.23,672.71 L1135.35,672.71 L1136.47,672.71 L1137.58,672.71 L1138.70,672.71 L1139.82,672.71 L1140.94,672.71 L1142.06,672.71 L1143.17,672.71 L1144.29,672.71 L1145.41,672.71 L1146.53,672.71 L1147.65,672.71 L1148.76,672.71 L1149.88,672.71 L1151.00,672.71 L1152.12,672.71 L1153.24,672.71 L1154.35,672.71 L1155.47,672.71 L1156.59,672.71 L1157.71,672.71 L1158.83,672.71 L1159.94,672.71 L1161.06,672.71 L1162.18,672.71 L1163.30,672.71 L1164.42,672.71 L1165.53,672.71 L1166.65,672.71 L1167.77,672.71 L1168.89,672.71 L1170.01,672.71 L1171.12,672.71 L1172.24,672.71 L1173.36,672.71 L1174.48,672.71 L1175.60,672.71 L1176.71,672.71 L1177.83,672.71 L1178.95,672.71 L1180.07,672.71 L1181.19,672.71 L1182.30,672.71 L1183.42,672.71 L1184.54,672.71 L1185.66,672.71 L1186.78,672.71 L1187.89,672.71 L1189.01,672.71 L1190.13,672.71 L1191.25,672.71 L1192.37,672.71 L1193.48,672.71 L1194.60,672.71 L1195.72,672.71 L1196.84,672.71 L1197.96,672.71 L1199.07,672.71 L1200.19,672.71 L1201.31,672.72 L1202.43,672.72 L1203.55,672.72 L1204.66,672.72 L1205.78,672.72 L1206.90,672.72 L1208.02,672.72 L1209.14,672.72 L1210.25,672.73 L1211.37,672.73 L1212.49,672.73 L1213.61,672.73 L1214.73,672.73 L1215.84,672.74 L1216.96,672.74 L1218.08,672.75 L1219.20,672.75 L1220.32,672.76 L1221.43,672.76 L1222.55,672.77 L1223.67,672.78 L1224.79,672.78 L1225.91,672.79 L1227.02,672.80 L1228.14,672.82 L1229.26,672.83 L1230.38,672.84 L1231.50,672.86 L1232.61,672.88 L1233.73,672.90 L1234.85,672.92 L1235.97,672.95 L1237.09,672.98 L1238.20,673.01 L1239.32,673.05 L1240.44,673.09 L1241.56,673.14 L1242.68,673.20 L1243.79,673.26 L1244.91,673.32 L1246.03,673.40 L1247.15,673.48 L1248.27,673.58 L1249.38,673.69 L1250.50,673.81 L1251.62,673.94 L1252.74,674.09 L1253.86,674.26 L1254.97,674.45 L1256.09,674.67 L1257.21,674.91 L1258.33,675.17 L1259.45,675.47 L1260.56,675.81 L1261.68,676.19 L1262.80,676.61 L1263.92,677.08 L1265.04,677.60 L1266.15,678.18 L1267.27,678.84 L1268.39,679.56 L1269.51,680.37 L1270.63,681.27 L1271.74,682.26 L1272.86,683.37 L1273.98,684.59 L1275.10,685.93 L1276.22,687.42 L1277.33,689.05 L1278.45,690.84 L1279.57,692.80 L1280.69,694.93 L1281.81,697.26 L1282.92,699.77 L1284.04,702.48 L1285.16,705.40 L1286.28,708.53 L1287.40,711.85 L1288.51,715.38 L1289.63,719.10 L1290.75,722.99 L1291.87,727.06 L1292.99,731.27 L1294.10,735.60 L1295.22,740.04 L1296.34,744.55 L1297.46,749.10 L1298.58,753.66 L1299.69,758.20 L1300.81,762.69 L1301.93,767.11 L1303.05,771.41 L1304.17,775.59 L1305.28,779.62 L1306.40,783.47 L1307.52,787.15 L1308.64,790.62 L1309.76,793.90 L1310.87,796.98 L1311.99,799.84 L1313.11,802.51 L1314.23,804.98 L1315.35,807.25 L1316.46,809.35 L1317.58,811.26 L1318.70,813.02" fill="none" stroke="#c15f9d" stroke-width="4.3" stroke-linejoin="round"/>
<path d="M983.30,653.96 L984.42,653.97 L985.54,653.97 L986.65,653.97 L987.77,653.97 L988.89,653.97 L990.01,653.98 L991.13,653.98 L992.24,653.98 L993.36,653.99 L994.48,653.99 L995.60,653.99 L996.72,654.00 L997.83,654.00 L998.95,654.00 L1000.07,654.01 L1001.19,654.01 L1002.31,654.02 L1003.42,654.02 L1004.54,654.03 L1005.66,654.03 L1006.78,654.04 L1007.90,654.04 L1009.01,654.05 L1010.13,654.06 L1011.25,654.06 L1012.37,654.07 L1013.49,654.08 L1014.60,654.09 L1015.72,654.10 L1016.84,654.10 L1017.96,654.11 L1019.08,654.12 L1020.19,654.13 L1021.31,654.14 L1022.43,654.16 L1023.55,654.17 L1024.67,654.18 L1025.78,654.19 L1026.90,654.21 L1028.02,654.22 L1029.14,654.24 L1030.26,654.25 L1031.37,654.27 L1032.49,654.29 L1033.61,654.31 L1034.73,654.33 L1035.85,654.35 L1036.96,654.37 L1038.08,654.39 L1039.20,654.42 L1040.32,654.44 L1041.44,654.47 L1042.55,654.50 L1043.67,654.53 L1044.79,654.56 L1045.91,654.59 L1047.03,654.63 L1048.14,654.67 L1049.26,654.70 L1050.38,654.74 L1051.50,654.79 L1052.62,654.83 L1053.73,654.88 L1054.85,654.93 L1055.97,654.98 L1057.09,655.03 L1058.21,655.09 L1059.32,655.15 L1060.44,655.21 L1061.56,655.28 L1062.68,655.35 L1063.80,655.42 L1064.91,655.50 L1066.03,655.58 L1067.15,655.66 L1068.27,655.75 L1069.39,655.85 L1070.50,655.95 L1071.62,656.05 L1072.74,656.16 L1073.86,656.27 L1074.98,656.39 L1076.09,656.52 L1077.21,656.65 L1078.33,656.79 L1079.45,656.94 L1080.57,657.09 L1081.68,657.25 L1082.80,657.42 L1083.92,657.60 L1085.04,657.79 L1086.16,657.98 L1087.27,658.19 L1088.39,658.40 L1089.51,658.63 L1090.63,658.87 L1091.75,659.12 L1092.86,659.38 L1093.98,659.65 L1095.10,659.94 L1096.22,660.24 L1097.34,660.56 L1098.45,660.89 L1099.57,661.24 L1100.69,661.60 L1101.81,661.99 L1102.93,662.38 L1104.04,662.80 L1105.16,663.24 L1106.28,663.70 L1107.40,664.18 L1108.52,664.68 L1109.63,665.21 L1110.75,665.76 L1111.87,666.33 L1112.99,666.94 L1114.11,667.56 L1115.22,668.22 L1116.34,668.90 L1117.46,669.62 L1118.58,670.37 L1119.70,671.14 L1120.81,671.96 L1121.93,672.80 L1123.05,673.68 L1124.17,674.60 L1125.29,675.56 L1126.40,676.55 L1127.52,677.58 L1128.64,678.66 L1129.76,679.77 L1130.88,680.93 L1131.99,682.13 L1133.11,683.38 L1134.23,684.67 L1135.35,686.01 L1136.47,687.39 L1137.58,688.82 L1138.70,690.30 L1139.82,691.83 L1140.94,693.41 L1142.06,695.04 L1143.17,696.71 L1144.29,698.44 L1145.41,700.21 L1146.53,702.03 L1147.65,703.90 L1148.76,705.82 L1149.88,707.79 L1151.00,709.80 L1152.12,711.86 L1153.24,713.97 L1154.35,716.11 L1155.47,718.30 L1156.59,720.53 L1157.71,722.80 L1158.83,725.10 L1159.94,727.44 L1161.06,729.80 L1162.18,732.20 L1163.30,734.63 L1164.42,737.08 L1165.53,739.55 L1166.65,742.04 L1167.77,744.54 L1168.89,747.06 L1170.01,749.59 L1171.12,752.12 L1172.24,754.66 L1173.36,757.19 L1174.48,759.72 L1175.60,762.25 L1176.71,764.77 L1177.83,767.27 L1178.95,769.75 L1180.07,772.22 L1181.19,774.67 L1182.30,777.09 L1183.42,779.48 L1184.54,781.84 L1185.66,784.18 L1186.78,786.47 L1187.89,788.73 L1189.01,790.95 L1190.13,793.13 L1191.25,795.27 L1192.37,797.37 L1193.48,799.42 L1194.60,801.42 L1195.72,803.38 L1196.84,805.29 L1197.96,807.15 L1199.07,808.97 L1200.19,810.73 L1201.31,812.45 L1202.43,814.12 L1203.55,815.73 L1204.66,817.30 L1205.78,818.82 L1206.90,820.29 L1208.02,821.71 L1209.14,823.09 L1210.25,824.42 L1211.37,825.70 L1212.49,826.94 L1213.61,828.13 L1214.73,829.29 L1215.84,830.39 L1216.96,831.46 L1218.08,832.49 L1219.20,833.47 L1220.32,834.42 L1221.43,835.33 L1222.55,836.21 L1223.67,837.05 L1224.79,837.85 L1225.91,838.62 L1227.02,839.36 L1228.14,840.07 L1229.26,840.75 L1230.38,841.40 L1231.50,842.03 L1232.61,842.62 L1233.73,843.19 L1234.85,843.74 L1235.97,844.26 L1237.09,844.76 L1238.20,845.23 L1239.32,845.69 L1240.44,846.12 L1241.56,846.54 L1242.68,846.94 L1243.79,847.31 L1244.91,847.68 L1246.03,848.02 L1247.15,848.35 L1248.27,848.66 L1249.38,848.96 L1250.50,849.25 L1251.62,849.52 L1252.74,849.78 L1253.86,850.03 L1254.97,850.26 L1256.09,850.49 L1257.21,850.70 L1258.33,850.90 L1259.45,851.10 L1260.56,851.28 L1261.68,851.46 L1262.80,851.63 L1263.92,851.79 L1265.04,851.94 L1266.15,852.08 L1267.27,852.22 L1268.39,852.35 L1269.51,852.48 L1270.63,852.60 L1271.74,852.71 L1272.86,852.82 L1273.98,852.92 L1275.10,853.02 L1276.22,853.11 L1277.33,853.20 L1278.45,853.29 L1279.57,853.37 L1280.69,853.44 L1281.81,853.52 L1282.92,853.58 L1284.04,853.65 L1285.16,853.71 L1286.28,853.77 L1287.40,853.83 L1288.51,853.88 L1289.63,853.93 L1290.75,853.98 L1291.87,854.03 L1292.99,854.07 L1294.10,854.11 L1295.22,854.15 L1296.34,854.19 L1297.46,854.23 L1298.58,854.26 L1299.69,854.30 L1300.81,854.33 L1301.93,854.36 L1303.05,854.38 L1304.17,854.41 L1305.28,854.44 L1306.40,854.46 L1307.52,854.48 L1308.64,854.50 L1309.76,854.53 L1310.87,854.55 L1311.99,854.56 L1313.11,854.58 L1314.23,854.60 L1315.35,854.61 L1316.46,854.63 L1317.58,854.64 L1318.70,854.66" fill="none" stroke="#000" stroke-width="4.3" stroke-linejoin="round"/>
<path d="M983.30,649.87 L984.42,649.87 L985.54,649.88 L986.65,649.88 L987.77,649.88 L988.89,649.88 L990.01,649.88 L991.13,649.89 L992.24,649.89 L993.36,649.89 L994.48,649.89 L995.60,649.90 L996.72,649.90 L997.83,649.90 L998.95,649.91 L1000.07,649.91 L1001.19,649.91 L1002.31,649.92 L1003.42,649.92 L1004.54,649.92 L1005.66,649.93 L1006.78,649.93 L1007.90,649.94 L1009.01,649.94 L1010.13,649.95 L1011.25,649.95 L1012.37,649.96 L1013.49,649.97 L1014.60,649.97 L1015.72,649.98 L1016.84,649.99 L1017.96,649.99 L1019.08,650.00 L1020.19,650.01 L1021.31,650.02 L1022.43,650.03 L1023.55,650.04 L1024.67,650.05 L1025.78,650.06 L1026.90,650.07 L1028.02,650.08 L1029.14,650.09 L1030.26,650.10 L1031.37,650.12 L1032.49,650.13 L1033.61,650.15 L1034.73,650.16 L1035.85,650.18 L1036.96,650.20 L1038.08,650.21 L1039.20,650.23 L1040.32,650.25 L1041.44,650.27 L1042.55,650.30 L1043.67,650.32 L1044.79,650.34 L1045.91,650.37 L1047.03,650.40 L1048.14,650.43 L1049.26,650.46 L1050.38,650.49 L1051.50,650.52 L1052.62,650.55 L1053.73,650.59 L1054.85,650.63 L1055.97,650.67 L1057.09,650.71 L1058.21,650.76 L1059.32,650.80 L1060.44,650.85 L1061.56,650.90 L1062.68,650.96 L1063.80,651.02 L1064.91,651.07 L1066.03,651.14 L1067.15,651.20 L1068.27,651.27 L1069.39,651.35 L1070.50,651.42 L1071.62,651.50 L1072.74,651.59 L1073.86,651.68 L1074.98,651.77 L1076.09,651.87 L1077.21,651.97 L1078.33,652.08 L1079.45,652.19 L1080.57,652.31 L1081.68,652.44 L1082.80,652.57 L1083.92,652.70 L1085.04,652.85 L1086.16,653.00 L1087.27,653.16 L1088.39,653.33 L1089.51,653.50 L1090.63,653.69 L1091.75,653.88 L1092.86,654.08 L1093.98,654.29 L1095.10,654.52 L1096.22,654.75 L1097.34,655.00 L1098.45,655.25 L1099.57,655.52 L1100.69,655.80 L1101.81,656.10 L1102.93,656.41 L1104.04,656.74 L1105.16,657.08 L1106.28,657.43 L1107.40,657.81 L1108.52,658.20 L1109.63,658.61 L1110.75,659.03 L1111.87,659.48 L1112.99,659.95 L1114.11,660.44 L1115.22,660.95 L1116.34,661.49 L1117.46,662.05 L1118.58,662.64 L1119.70,663.25 L1120.81,663.89 L1121.93,664.55 L1123.05,665.25 L1124.17,665.97 L1125.29,666.73 L1126.40,667.52 L1127.52,668.34 L1128.64,669.19 L1129.76,670.08 L1130.88,671.01 L1131.99,671.97 L1133.11,672.97 L1134.23,674.01 L1135.35,675.09 L1136.47,676.22 L1137.58,677.38 L1138.70,678.58 L1139.82,679.83 L1140.94,681.13 L1142.06,682.47 L1143.17,683.85 L1144.29,685.28 L1145.41,686.76 L1146.53,688.28 L1147.65,689.85 L1148.76,691.47 L1149.88,693.14 L1151.00,694.85 L1152.12,696.61 L1153.24,698.42 L1154.35,700.27 L1155.47,702.17 L1156.59,704.11 L1157.71,706.10 L1158.83,708.13 L1159.94,710.21 L1161.06,712.32 L1162.18,714.48 L1163.30,716.67 L1164.42,718.89 L1165.53,721.15 L1166.65,723.45 L1167.77,725.77 L1168.89,728.12 L1170.01,730.49 L1171.12,732.88 L1172.24,735.30 L1173.36,737.73 L1174.48,740.17 L1175.60,742.62 L1176.71,745.08 L1177.83,747.55 L1178.95,750.01 L1180.07,752.48 L1181.19,754.94 L1182.30,757.39 L1183.42,759.83 L1184.54,762.25 L1185.66,764.66 L1186.78,767.05 L1187.89,769.42 L1189.01,771.76 L1190.13,774.08 L1191.25,776.36 L1192.37,778.62 L1193.48,780.83 L1194.60,783.02 L1195.72,785.16 L1196.84,787.27 L1197.96,789.33 L1199.07,791.36 L1200.19,793.34 L1201.31,795.27 L1202.43,797.16 L1203.55,799.00 L1204.66,800.80 L1205.78,802.55 L1206.90,804.25 L1208.02,805.91 L1209.14,807.52 L1210.25,809.08 L1211.37,810.59 L1212.49,812.06 L1213.61,813.48 L1214.73,814.85 L1215.84,816.18 L1216.96,817.47 L1218.08,818.71 L1219.20,819.90 L1220.32,821.06 L1221.43,822.17 L1222.55,823.24 L1223.67,824.27 L1224.79,825.26 L1225.91,826.22 L1227.02,827.14 L1228.14,828.02 L1229.26,828.87 L1230.38,829.68 L1231.50,830.46 L1232.61,831.21 L1233.73,831.93 L1234.85,832.62 L1235.97,833.28 L1237.09,833.91 L1238.20,834.52 L1239.32,835.10 L1240.44,835.65 L1241.56,836.18 L1242.68,836.69 L1243.79,837.18 L1244.91,837.64 L1246.03,838.09 L1247.15,838.51 L1248.27,838.91 L1249.38,839.30 L1250.50,839.67 L1251.62,840.02 L1252.74,840.36 L1253.86,840.68 L1254.97,840.99 L1256.09,841.28 L1257.21,841.56 L1258.33,841.83 L1259.45,842.08 L1260.56,842.33 L1261.68,842.56 L1262.80,842.78 L1263.92,842.99 L1265.04,843.19 L1266.15,843.38 L1267.27,843.56 L1268.39,843.74 L1269.51,843.90 L1270.63,844.06 L1271.74,844.21 L1272.86,844.35 L1273.98,844.49 L1275.10,844.62 L1276.22,844.74 L1277.33,844.86 L1278.45,844.97 L1279.57,845.08 L1280.69,845.18 L1281.81,845.28 L1282.92,845.37 L1284.04,845.46 L1285.16,845.54 L1286.28,845.62 L1287.40,845.70 L1288.51,845.77 L1289.63,845.84 L1290.75,845.90 L1291.87,845.96 L1292.99,846.02 L1294.10,846.08 L1295.22,846.13 L1296.34,846.18 L1297.46,846.23 L1298.58,846.28 L1299.69,846.32 L1300.81,846.36 L1301.93,846.40 L1303.05,846.44 L1304.17,846.48 L1305.28,846.51 L1306.40,846.55 L1307.52,846.58 L1308.64,846.61 L1309.76,846.63 L1310.87,846.66 L1311.99,846.69 L1313.11,846.71 L1314.23,846.73 L1315.35,846.76 L1316.46,846.78 L1317.58,846.80 L1318.70,846.82" fill="none" stroke="#000" stroke-width="4.3" stroke-linejoin="round"/>
<path d="M983.30,647.11 L984.42,647.12 L985.54,647.12 L986.65,647.12 L987.77,647.12 L988.89,647.13 L990.01,647.13 L991.13,647.13 L992.24,647.14 L993.36,647.14 L994.48,647.14 L995.60,647.15 L996.72,647.15 L997.83,647.16 L998.95,647.16 L1000.07,647.17 L1001.19,647.17 L1002.31,647.18 L1003.42,647.18 L1004.54,647.19 L1005.66,647.19 L1006.78,647.20 L1007.90,647.21 L1009.01,647.21 L1010.13,647.22 L1011.25,647.23 L1012.37,647.24 L1013.49,647.24 L1014.60,647.25 L1015.72,647.26 L1016.84,647.27 L1017.96,647.28 L1019.08,647.29 L1020.19,647.30 L1021.31,647.31 L1022.43,647.32 L1023.55,647.34 L1024.67,647.35 L1025.78,647.36 L1026.90,647.38 L1028.02,647.39 L1029.14,647.41 L1030.26,647.42 L1031.37,647.44 L1032.49,647.46 L1033.61,647.47 L1034.73,647.49 L1035.85,647.51 L1036.96,647.53 L1038.08,647.56 L1039.20,647.58 L1040.32,647.60 L1041.44,647.63 L1042.55,647.65 L1043.67,647.68 L1044.79,647.71 L1045.91,647.74 L1047.03,647.77 L1048.14,647.81 L1049.26,647.84 L1050.38,647.88 L1051.50,647.91 L1052.62,647.95 L1053.73,647.99 L1054.85,648.04 L1055.97,648.08 L1057.09,648.13 L1058.21,648.18 L1059.32,648.23 L1060.44,648.28 L1061.56,648.34 L1062.68,648.40 L1063.80,648.46 L1064.91,648.52 L1066.03,648.59 L1067.15,648.66 L1068.27,648.73 L1069.39,648.81 L1070.50,648.89 L1071.62,648.97 L1072.74,649.06 L1073.86,649.15 L1074.98,649.25 L1076.09,649.35 L1077.21,649.45 L1078.33,649.56 L1079.45,649.68 L1080.57,649.80 L1081.68,649.92 L1082.80,650.05 L1083.92,650.19 L1085.04,650.33 L1086.16,650.48 L1087.27,650.63 L1088.39,650.80 L1089.51,650.97 L1090.63,651.14 L1091.75,651.33 L1092.86,651.52 L1093.98,651.72 L1095.10,651.93 L1096.22,652.15 L1097.34,652.38 L1098.45,652.62 L1099.57,652.87 L1100.69,653.13 L1101.81,653.40 L1102.93,653.69 L1104.04,653.98 L1105.16,654.29 L1106.28,654.61 L1107.40,654.95 L1108.52,655.30 L1109.63,655.66 L1110.75,656.04 L1111.87,656.44 L1112.99,656.85 L1114.11,657.28 L1115.22,657.73 L1116.34,658.19 L1117.46,658.68 L1118.58,659.18 L1119.70,659.71 L1120.81,660.25 L1121.93,660.82 L1123.05,661.41 L1124.17,662.03 L1125.29,662.66 L1126.40,663.33 L1127.52,664.02 L1128.64,664.73 L1129.76,665.47 L1130.88,666.24 L1131.99,667.04 L1133.11,667.87 L1134.23,668.73 L1135.35,669.62 L1136.47,670.54 L1137.58,671.49 L1138.70,672.48 L1139.82,673.50 L1140.94,674.55 L1142.06,675.64 L1143.17,676.77 L1144.29,677.93 L1145.41,679.13 L1146.53,680.37 L1147.65,681.64 L1148.76,682.96 L1149.88,684.31 L1151.00,685.70 L1152.12,687.13 L1153.24,688.60 L1154.35,690.11 L1155.47,691.66 L1156.59,693.25 L1157.71,694.88 L1158.83,696.55 L1159.94,698.25 L1161.06,700.00 L1162.18,701.78 L1163.30,703.60 L1164.42,705.45 L1165.53,707.34 L1166.65,709.27 L1167.77,711.23 L1168.89,713.22 L1170.01,715.24 L1171.12,717.29 L1172.24,719.38 L1173.36,721.48 L1174.48,723.61 L1175.60,725.77 L1176.71,727.95 L1177.83,730.14 L1178.95,732.36 L1180.07,734.59 L1181.19,736.83 L1182.30,739.08 L1183.42,741.34 L1184.54,743.61 L1185.66,745.89 L1186.78,748.16 L1187.89,750.44 L1189.01,752.71 L1190.13,754.97 L1191.25,757.23 L1192.37,759.48 L1193.48,761.72 L1194.60,763.94 L1195.72,766.15 L1196.84,768.34 L1197.96,770.51 L1199.07,772.66 L1200.19,774.78 L1201.31,776.88 L1202.43,778.95 L1203.55,780.99 L1204.66,783.01 L1205.78,784.99 L1206.90,786.93 L1208.02,788.85 L1209.14,790.73 L1210.25,792.57 L1211.37,794.38 L1212.49,796.15 L1213.61,797.88 L1214.73,799.57 L1215.84,801.22 L1216.96,802.84 L1218.08,804.41 L1219.20,805.95 L1220.32,807.44 L1221.43,808.90 L1222.55,810.32 L1223.67,811.69 L1224.79,813.03 L1225.91,814.33 L1227.02,815.59 L1228.14,816.82 L1229.26,818.01 L1230.38,819.16 L1231.50,820.27 L1232.61,821.35 L1233.73,822.39 L1234.85,823.40 L1235.97,824.37 L1237.09,825.32 L1238.20,826.23 L1239.32,827.10 L1240.44,827.95 L1241.56,828.77 L1242.68,829.56 L1243.79,830.32 L1244.91,831.05 L1246.03,831.76 L1247.15,832.44 L1248.27,833.09 L1249.38,833.72 L1250.50,834.33 L1251.62,834.91 L1252.74,835.47 L1253.86,836.01 L1254.97,836.53 L1256.09,837.02 L1257.21,837.50 L1258.33,837.96 L1259.45,838.40 L1260.56,838.83 L1261.68,839.23 L1262.80,839.62 L1263.92,840.00 L1265.04,840.36 L1266.15,840.70 L1267.27,841.03 L1268.39,841.35 L1269.51,841.65 L1270.63,841.94 L1271.74,842.22 L1272.86,842.49 L1273.98,842.75 L1275.10,842.99 L1276.22,843.23 L1277.33,843.45 L1278.45,843.67 L1279.57,843.88 L1280.69,844.08 L1281.81,844.27 L1282.92,844.45 L1284.04,844.62 L1285.16,844.79 L1286.28,844.95 L1287.40,845.10 L1288.51,845.25 L1289.63,845.39 L1290.75,845.52 L1291.87,845.65 L1292.99,845.77 L1294.10,845.89 L1295.22,846.00 L1296.34,846.11 L1297.46,846.22 L1298.58,846.31 L1299.69,846.41 L1300.81,846.50 L1301.93,846.58 L1303.05,846.67 L1304.17,846.75 L1305.28,846.82 L1306.40,846.89 L1307.52,846.96 L1308.64,847.03 L1309.76,847.09 L1310.87,847.15 L1311.99,847.21 L1313.11,847.27 L1314.23,847.32 L1315.35,847.37 L1316.46,847.42 L1317.58,847.46 L1318.70,847.51" fill="none" stroke="#000" stroke-width="4.3" stroke-linejoin="round"/>
<line x1="1061.44" y1="690.00" x2="1061.44" y2="705.50" stroke="#c15f9d" stroke-width="4.2"/>
<line x1="1052.44" y1="690.00" x2="1070.44" y2="690.00" stroke="#c15f9d" stroke-width="4.2"/>
<line x1="1052.44" y1="705.50" x2="1070.44" y2="705.50" stroke="#c15f9d" stroke-width="4.2"/>
<line x1="1095.10" y1="681.00" x2="1095.10" y2="716.50" stroke="#c15f9d" stroke-width="4.2"/>
<line x1="1086.10" y1="681.00" x2="1104.10" y2="681.00" stroke="#c15f9d" stroke-width="4.2"/>
<line x1="1086.10" y1="716.50" x2="1104.10" y2="716.50" stroke="#c15f9d" stroke-width="4.2"/>
<line x1="1285.04" y1="693.60" x2="1285.04" y2="731.80" stroke="#c15f9d" stroke-width="4.2"/>
<line x1="1276.04" y1="693.60" x2="1294.04" y2="693.60" stroke="#c15f9d" stroke-width="4.2"/>
<line x1="1276.04" y1="731.80" x2="1294.04" y2="731.80" stroke="#c15f9d" stroke-width="4.2"/>
<rect x="974.20" y="678.10" width="18.20" height="18.20" fill="#c15f9d"/>
<rect x="1052.34" y="688.40" width="18.20" height="18.20" fill="#c15f9d"/>
<rect x="1086.00" y="684.40" width="18.20" height="18.20" fill="#c15f9d"/>
<rect x="1164.14" y="694.70" width="18.20" height="18.20" fill="#c15f9d"/>
<rect x="1197.80" y="675.50" width="18.20" height="18.20" fill="#c15f9d"/>
<rect x="1231.46" y="684.90" width="18.20" height="18.20" fill="#c15f9d"/>
<rect x="1275.94" y="707.40" width="18.20" height="18.20" fill="#c15f9d"/>
<rect x="1309.60" y="822.90" width="18.20" height="18.20" fill="#c15f9d"/>
<line x1="1061.44" y1="662.00" x2="1061.44" y2="690.00" stroke="#c15f9d" stroke-width="4.2"/>
<line x1="1052.44" y1="662.00" x2="1070.44" y2="662.00" stroke="#c15f9d" stroke-width="4.2"/>
<line x1="1052.44" y1="690.00" x2="1070.44" y2="690.00" stroke="#c15f9d" stroke-width="4.2"/>
<line x1="1240.56" y1="663.40" x2="1240.56" y2="692.00" stroke="#c15f9d" stroke-width="4.2"/>
<line x1="1231.56" y1="663.40" x2="1249.56" y2="663.40" stroke="#c15f9d" stroke-width="4.2"/>
<line x1="1231.56" y1="692.00" x2="1249.56" y2="692.00" stroke="#c15f9d" stroke-width="4.2"/>
<polygon points="1061.44,666.99 1071.00,684.28 1051.89,684.28" fill="#c15f9d"/>
<polygon points="1095.10,664.59 1104.65,681.88 1085.54,681.88" fill="#c15f9d"/>
<polygon points="1173.24,668.49 1182.80,685.78 1163.69,685.78" fill="#c15f9d"/>
<polygon points="1240.56,667.59 1250.11,684.88 1231.00,684.88" fill="#c15f9d"/>
<polygon points="1318.70,802.99 1328.25,820.28 1309.14,820.28" fill="#c15f9d"/>
<polygon points="983.30,666.35 992.22,650.20 974.38,650.20" fill="#000"/>
<polygon points="1061.44,659.35 1070.37,643.20 1052.52,643.20" fill="#000"/>
<polygon points="1095.10,661.35 1104.02,645.20 1086.17,645.20" fill="#000"/>
<polygon points="1173.24,748.75 1182.17,732.60 1164.32,732.60" fill="#000"/>
<polygon points="1206.90,802.05 1215.82,785.90 1197.97,785.90" fill="#000"/>
<polygon points="1240.56,832.55 1249.48,816.40 1231.63,816.40" fill="#000"/>
<polygon points="1285.04,847.85 1293.97,831.70 1276.12,831.70" fill="#000"/>
<polygon points="1318.70,855.35 1327.62,839.20 1309.77,839.20" fill="#000"/>
<line x1="983.30" y1="640.00" x2="983.30" y2="668.00" stroke="#000" stroke-width="4.2"/>
<line x1="974.30" y1="640.00" x2="992.30" y2="640.00" stroke="#000" stroke-width="4.2"/>
<line x1="974.30" y1="668.00" x2="992.30" y2="668.00" stroke="#000" stroke-width="4.2"/>
<line x1="1061.44" y1="623.00" x2="1061.44" y2="654.00" stroke="#000" stroke-width="4.2"/>
<line x1="1052.44" y1="623.00" x2="1070.44" y2="623.00" stroke="#000" stroke-width="4.2"/>
<line x1="1052.44" y1="654.00" x2="1070.44" y2="654.00" stroke="#000" stroke-width="4.2"/>
<line x1="1095.10" y1="642.00" x2="1095.10" y2="660.00" stroke="#000" stroke-width="4.2"/>
<line x1="1086.10" y1="642.00" x2="1104.10" y2="642.00" stroke="#000" stroke-width="4.2"/>
<line x1="1086.10" y1="660.00" x2="1104.10" y2="660.00" stroke="#000" stroke-width="4.2"/>
<line x1="1206.90" y1="753.40" x2="1206.90" y2="775.00" stroke="#000" stroke-width="4.2"/>
<line x1="1197.90" y1="753.40" x2="1215.90" y2="753.40" stroke="#000" stroke-width="4.2"/>
<line x1="1197.90" y1="775.00" x2="1215.90" y2="775.00" stroke="#000" stroke-width="4.2"/>
<polygon points="983.30,645.60 990.10,654.00 983.30,662.40 976.50,654.00" fill="#000"/>
<polygon points="1061.44,629.60 1068.24,638.00 1061.44,646.40 1054.64,638.00" fill="#000"/>
<polygon points="1095.10,641.60 1101.90,650.00 1095.10,658.40 1088.30,650.00" fill="#000"/>
<polygon points="1173.24,711.90 1180.04,720.30 1173.24,728.70 1166.44,720.30" fill="#000"/>
<polygon points="1206.90,757.60 1213.70,766.00 1206.90,774.40 1200.10,766.00" fill="#000"/>
<polygon points="1240.56,819.60 1247.36,828.00 1240.56,836.40 1233.76,828.00" fill="#000"/>
<polygon points="1285.04,832.60 1291.84,841.00 1285.04,849.40 1278.24,841.00" fill="#000"/>
<polygon points="1318.70,841.60 1325.50,850.00 1318.70,858.40 1311.90,850.00" fill="#000"/>
<line x1="983.30" y1="648.00" x2="983.30" y2="670.40" stroke="#000" stroke-width="4.2"/>
<line x1="974.30" y1="648.00" x2="992.30" y2="648.00" stroke="#000" stroke-width="4.2"/>
<line x1="974.30" y1="670.40" x2="992.30" y2="670.40" stroke="#000" stroke-width="4.2"/>
<circle cx="983.30" cy="660.70" r="9.10" fill="#000"/>
<circle cx="1061.44" cy="648.70" r="9.10" fill="#000"/>
<circle cx="1095.10" cy="653.80" r="9.10" fill="#000"/>
<circle cx="1173.24" cy="758.50" r="9.10" fill="#000"/>
<circle cx="1206.90" cy="815.70" r="9.10" fill="#000"/>
<circle cx="1240.56" cy="833.50" r="9.10" fill="#000"/>
<circle cx="1285.04" cy="852.50" r="9.10" fill="#000"/>
<circle cx="1318.70" cy="856.30" r="9.10" fill="#000"/>
<line x1="998.60" y1="487.80" x2="1046.20" y2="487.80" stroke="#000" stroke-width="4.3"/>
<circle cx="1022.40" cy="487.80" r="9.10" fill="#000"/>
<text x="1074.00" y="497.50" font-size="27.50" textLength="192.20" lengthAdjust="spacingAndGlyphs">RSL3 + DMSO</text>
<line x1="998.60" y1="517.60" x2="1046.20" y2="517.60" stroke="#c15f9d" stroke-width="4.3"/>
<rect x="1013.30" y="508.50" width="18.20" height="18.20" fill="#c15f9d"/>
<text x="1074.00" y="527.30" font-size="27.50" textLength="165.60" lengthAdjust="spacingAndGlyphs">RSL3 + DFO</text>
<line x1="998.60" y1="546.80" x2="1046.20" y2="546.80" stroke="#c15f9d" stroke-width="4.3"/>
<polygon points="1022.40,536.79 1031.96,554.08 1012.85,554.08" fill="#c15f9d"/>
<text x="1074.00" y="556.60" font-size="27.50" textLength="179.50" lengthAdjust="spacingAndGlyphs">RSL3 + Ferr-1</text>
<line x1="998.60" y1="576.60" x2="1046.20" y2="576.60" stroke="#000" stroke-width="4.3"/>
<polygon points="1022.40,585.95 1031.33,569.80 1013.48,569.80" fill="#000"/>
<text x="1074.00" y="586.40" font-size="27.50" textLength="179.50" lengthAdjust="spacingAndGlyphs">RSL3 + Nec-1</text>
<line x1="998.60" y1="605.40" x2="1046.20" y2="605.40" stroke="#000" stroke-width="4.3"/>
<polygon points="1022.40,597.00 1029.20,605.40 1022.40,613.80 1015.60,605.40" fill="#000"/>
<text x="1074.00" y="615.60" font-size="27.50" textLength="188.30" lengthAdjust="spacingAndGlyphs">RSL3 + z-VAD</text>
<text x="1324.20" y="550.40" font-size="27.50" textLength="122.40" lengthAdjust="spacingAndGlyphs">IC50(μM):</text>
<text x="1324.20" y="584.20" font-size="27.50" textLength="168.00" lengthAdjust="spacingAndGlyphs">+DMSO: 0.59</text>
<text x="1480.40" y="614.60" font-size="27.50" text-anchor="end">± 0.04</text>
<text x="1324.20" y="649.20" font-size="27.50" textLength="143.20" lengthAdjust="spacingAndGlyphs">+DFO: 5.86</text>
<text x="1480.40" y="683.50" font-size="27.50" text-anchor="end">± 0.76</text>
<text x="1324.20" y="717.60" font-size="27.50" textLength="160.40" lengthAdjust="spacingAndGlyphs">+Ferr-1: 7.43</text>
<text x="1480.40" y="748.80" font-size="27.50" text-anchor="end">± 0.53</text>
<text x="1324.20" y="782.60" font-size="27.50" textLength="159.60" lengthAdjust="spacingAndGlyphs">+Nec-1: 0.75</text>
<text x="1480.40" y="817.20" font-size="27.50" text-anchor="end">± 0.06</text>
<text x="1325.90" y="851.90" font-size="27.50" textLength="163.80" lengthAdjust="spacingAndGlyphs">+z-VAD: 0.99</text>
<text x="1480.40" y="884.00" font-size="27.50" text-anchor="end">± 0.06</text>
<text x="1279.20" y="807.06" font-size="32" text-anchor="middle" stroke="#000" stroke-width="1.1" stroke-linejoin="round">*</text>
<text x="1293.40" y="807.06" font-size="32" text-anchor="middle" stroke="#000" stroke-width="1.1" stroke-linejoin="round">*</text>
<text transform="translate(0.35,1061.03) scale(0.9429,1)" font-size="46.42" font-weight="bold">D</text>
<line x1="135.00" y1="1098.40" x2="135.00" y2="1446.80" stroke="#000" stroke-width="4.6"/>
<line x1="122.00" y1="1433.80" x2="472.40" y2="1433.80" stroke="#000" stroke-width="4.6"/>
<line x1="122.00" y1="1433.80" x2="135.00" y2="1433.80" stroke="#000" stroke-width="4.6"/>
<text x="115.00" y="1441.60" font-size="26.00" text-anchor="end">0.0</text>
<line x1="122.00" y1="1322.00" x2="135.00" y2="1322.00" stroke="#000" stroke-width="4.6"/>
<text x="115.00" y="1329.80" font-size="26.00" text-anchor="end">0.5</text>
<line x1="122.00" y1="1210.20" x2="135.00" y2="1210.20" stroke="#000" stroke-width="4.6"/>
<text x="115.00" y="1218.00" font-size="26.00" text-anchor="end">1.0</text>
<line x1="122.00" y1="1098.40" x2="135.00" y2="1098.40" stroke="#000" stroke-width="4.6"/>
<text x="115.00" y="1106.20" font-size="26.00" text-anchor="end">1.5</text>
<line x1="135.00" y1="1433.80" x2="135.00" y2="1446.80" stroke="#000" stroke-width="4.6"/>
<text x="135.00" y="1478.80" font-size="26.00" text-anchor="middle">0.01</text>
<line x1="246.70" y1="1433.80" x2="246.70" y2="1446.80" stroke="#000" stroke-width="4.6"/>
<text x="246.70" y="1478.80" font-size="26.00" text-anchor="middle">0.1</text>
<line x1="358.40" y1="1433.80" x2="358.40" y2="1446.80" stroke="#000" stroke-width="4.6"/>
<text x="358.40" y="1478.80" font-size="26.00" text-anchor="middle">1</text>
<line x1="470.10" y1="1433.80" x2="470.10" y2="1446.80" stroke="#000" stroke-width="4.6"/>
<text x="470.10" y="1478.80" font-size="26.00" text-anchor="middle">10</text>
<text transform="translate(55.50,1266.00) rotate(-90)" font-size="36.00" text-anchor="middle" textLength="184.60" lengthAdjust="spacingAndGlyphs">Cell viability</text>
<text x="303.50" y="1528.50" font-size="36.00" text-anchor="middle" textLength="203.90" lengthAdjust="spacingAndGlyphs">[Erastin], μM</text>
<path d="M135.00,1218.39 L136.12,1218.41 L137.23,1218.42 L138.35,1218.44 L139.47,1218.45 L140.59,1218.47 L141.70,1218.48 L142.82,1218.50 L143.94,1218.52 L145.05,1218.54 L146.17,1218.55 L147.29,1218.57 L148.40,1218.59 L149.52,1218.61 L150.64,1218.63 L151.75,1218.65 L152.87,1218.67 L153.99,1218.69 L155.11,1218.71 L156.22,1218.73 L157.34,1218.75 L158.46,1218.77 L159.57,1218.80 L160.69,1218.82 L161.81,1218.84 L162.93,1218.87 L164.04,1218.89 L165.16,1218.92 L166.28,1218.94 L167.39,1218.97 L168.51,1219.00 L169.63,1219.03 L170.74,1219.06 L171.86,1219.08 L172.98,1219.11 L174.10,1219.15 L175.21,1219.18 L176.33,1219.21 L177.45,1219.24 L178.56,1219.27 L179.68,1219.31 L180.80,1219.34 L181.91,1219.38 L183.03,1219.42 L184.15,1219.45 L185.26,1219.49 L186.38,1219.53 L187.50,1219.57 L188.62,1219.61 L189.73,1219.65 L190.85,1219.70 L191.97,1219.74 L193.08,1219.78 L194.20,1219.83 L195.32,1219.88 L196.44,1219.92 L197.55,1219.97 L198.67,1220.02 L199.79,1220.07 L200.90,1220.12 L202.02,1220.18 L203.14,1220.23 L204.25,1220.29 L205.37,1220.34 L206.49,1220.40 L207.60,1220.46 L208.72,1220.52 L209.84,1220.58 L210.96,1220.65 L212.07,1220.71 L213.19,1220.78 L214.31,1220.85 L215.42,1220.91 L216.54,1220.98 L217.66,1221.06 L218.78,1221.13 L219.89,1221.21 L221.01,1221.28 L222.13,1221.36 L223.24,1221.44 L224.36,1221.52 L225.48,1221.61 L226.59,1221.69 L227.71,1221.78 L228.83,1221.87 L229.94,1221.96 L231.06,1222.05 L232.18,1222.15 L233.30,1222.25 L234.41,1222.35 L235.53,1222.45 L236.65,1222.55 L237.76,1222.66 L238.88,1222.77 L240.00,1222.88 L241.12,1222.99 L242.23,1223.10 L243.35,1223.22 L244.47,1223.34 L245.58,1223.46 L246.70,1223.59 L247.82,1223.72 L248.93,1223.85 L250.05,1223.98 L251.17,1224.12 L252.29,1224.26 L253.40,1224.40 L254.52,1224.54 L255.64,1224.69 L256.75,1224.84 L257.87,1225.00 L258.99,1225.15 L260.10,1225.31 L261.22,1225.48 L262.34,1225.64 L263.45,1225.81 L264.57,1225.99 L265.69,1226.16 L266.81,1226.35 L267.92,1226.53 L269.04,1226.72 L270.16,1226.91 L271.27,1227.11 L272.39,1227.31 L273.51,1227.51 L274.62,1227.72 L275.74,1227.93 L276.86,1228.14 L277.98,1228.36 L279.09,1228.59 L280.21,1228.82 L281.33,1229.05 L282.44,1229.29 L283.56,1229.53 L284.68,1229.78 L285.80,1230.03 L286.91,1230.29 L288.03,1230.55 L289.15,1230.81 L290.26,1231.08 L291.38,1231.36 L292.50,1231.64 L293.61,1231.93 L294.73,1232.22 L295.85,1232.52 L296.97,1232.82 L298.08,1233.13 L299.20,1233.44 L300.32,1233.76 L301.43,1234.08 L302.55,1234.41 L303.67,1234.75 L304.78,1235.09 L305.90,1235.44 L307.02,1235.79 L308.13,1236.15 L309.25,1236.51 L310.37,1236.89 L311.49,1237.26 L312.60,1237.65 L313.72,1238.04 L314.84,1238.44 L315.95,1238.84 L317.07,1239.25 L318.19,1239.66 L319.31,1240.09 L320.42,1240.52 L321.54,1240.95 L322.66,1241.40 L323.77,1241.84 L324.89,1242.30 L326.01,1242.76 L327.12,1243.23 L328.24,1243.71 L329.36,1244.19 L330.48,1244.68 L331.59,1245.18 L332.71,1245.69 L333.83,1246.20 L334.94,1246.72 L336.06,1247.24 L337.18,1247.77 L338.29,1248.31 L339.41,1248.86 L340.53,1249.41 L341.64,1249.97 L342.76,1250.54 L343.88,1251.11 L345.00,1251.69 L346.11,1252.28 L347.23,1252.87 L348.35,1253.48 L349.46,1254.08 L350.58,1254.70 L351.70,1255.32 L352.81,1255.95 L353.93,1256.58 L355.05,1257.22 L356.17,1257.87 L357.28,1258.53 L358.40,1259.19 L359.52,1259.85 L360.63,1260.52 L361.75,1261.20 L362.87,1261.89 L363.99,1262.58 L365.10,1263.27 L366.22,1263.98 L367.34,1264.68 L368.45,1265.40 L369.57,1266.11 L370.69,1266.84 L371.80,1267.56 L372.92,1268.30 L374.04,1269.03 L375.15,1269.78 L376.27,1270.52 L377.39,1271.27 L378.51,1272.03 L379.62,1272.79 L380.74,1273.55 L381.86,1274.32 L382.97,1275.09 L384.09,1275.86 L385.21,1276.63 L386.33,1277.41 L387.44,1278.19 L388.56,1278.98 L389.68,1279.77 L390.79,1280.55 L391.91,1281.34 L393.03,1282.14 L394.14,1282.93 L395.26,1283.73 L396.38,1284.52 L397.50,1285.32 L398.61,1286.12 L399.73,1286.92 L400.85,1287.72 L401.96,1288.52 L403.08,1289.31 L404.20,1290.11 L405.31,1290.91 L406.43,1291.71 L407.55,1292.51 L408.67,1293.30 L409.78,1294.10 L410.90,1294.89 L412.02,1295.68 L413.13,1296.47 L414.25,1297.26 L415.37,1298.04 L416.48,1298.82 L417.60,1299.60 L418.72,1300.38 L419.83,1301.15 L420.95,1301.93 L422.07,1302.69 L423.19,1303.46 L424.30,1304.22 L425.42,1304.97 L426.54,1305.72 L427.65,1306.47 L428.77,1307.22 L429.89,1307.95 L431.00,1308.69 L432.12,1309.42 L433.24,1310.14 L434.36,1310.86 L435.47,1311.58 L436.59,1312.29 L437.71,1312.99 L438.82,1313.69 L439.94,1314.38 L441.06,1315.07 L442.18,1315.75 L443.29,1316.42 L444.41,1317.09 L445.53,1317.75 L446.64,1318.41 L447.76,1319.06 L448.88,1319.70 L449.99,1320.34 L451.11,1320.97 L452.23,1321.59 L453.35,1322.21 L454.46,1322.82 L455.58,1323.42 L456.70,1324.02 L457.81,1324.61 L458.93,1325.19 L460.05,1325.77 L461.16,1326.34 L462.28,1326.90 L463.40,1327.45 L464.52,1328.00 L465.63,1328.54 L466.75,1329.08 L467.87,1329.60 L468.98,1330.12 L470.10,1330.64" fill="none" stroke="#c15f9d" stroke-width="4.3" stroke-linejoin="round"/>
<path d="M135.00,1220.31 L136.12,1220.31 L137.23,1220.31 L138.35,1220.31 L139.47,1220.31 L140.59,1220.31 L141.70,1220.31 L142.82,1220.31 L143.94,1220.31 L145.05,1220.31 L146.17,1220.31 L147.29,1220.31 L148.40,1220.31 L149.52,1220.31 L150.64,1220.31 L151.75,1220.31 L152.87,1220.31 L153.99,1220.31 L155.11,1220.31 L156.22,1220.31 L157.34,1220.31 L158.46,1220.31 L159.57,1220.31 L160.69,1220.31 L161.81,1220.31 L162.93,1220.31 L164.04,1220.31 L165.16,1220.31 L166.28,1220.31 L167.39,1220.31 L168.51,1220.31 L169.63,1220.31 L170.74,1220.31 L171.86,1220.31 L172.98,1220.31 L174.10,1220.31 L175.21,1220.31 L176.33,1220.31 L177.45,1220.31 L178.56,1220.31 L179.68,1220.31 L180.80,1220.31 L181.91,1220.31 L183.03,1220.31 L184.15,1220.31 L185.26,1220.31 L186.38,1220.31 L187.50,1220.31 L188.62,1220.31 L189.73,1220.31 L190.85,1220.31 L191.97,1220.31 L193.08,1220.31 L194.20,1220.31 L195.32,1220.31 L196.44,1220.31 L197.55,1220.31 L198.67,1220.31 L199.79,1220.31 L200.90,1220.31 L202.02,1220.31 L203.14,1220.31 L204.25,1220.31 L205.37,1220.31 L206.49,1220.31 L207.60,1220.31 L208.72,1220.31 L209.84,1220.31 L210.96,1220.31 L212.07,1220.31 L213.19,1220.31 L214.31,1220.31 L215.42,1220.31 L216.54,1220.31 L217.66,1220.31 L218.78,1220.31 L219.89,1220.31 L221.01,1220.31 L222.13,1220.31 L223.24,1220.31 L224.36,1220.31 L225.48,1220.31 L226.59,1220.31 L227.71,1220.31 L228.83,1220.31 L229.94,1220.31 L231.06,1220.31 L232.18,1220.31 L233.30,1220.31 L234.41,1220.31 L235.53,1220.31 L236.65,1220.31 L237.76,1220.31 L238.88,1220.31 L240.00,1220.31 L241.12,1220.31 L242.23,1220.31 L243.35,1220.31 L244.47,1220.31 L245.58,1220.31 L246.70,1220.31 L247.82,1220.31 L248.93,1220.31 L250.05,1220.31 L251.17,1220.31 L252.29,1220.31 L253.40,1220.31 L254.52,1220.31 L255.64,1220.31 L256.75,1220.31 L257.87,1220.31 L258.99,1220.31 L260.10,1220.31 L261.22,1220.31 L262.34,1220.31 L263.45,1220.31 L264.57,1220.31 L265.69,1220.31 L266.81,1220.31 L267.92,1220.31 L269.04,1220.31 L270.16,1220.31 L271.27,1220.31 L272.39,1220.31 L273.51,1220.31 L274.62,1220.31 L275.74,1220.31 L276.86,1220.31 L277.98,1220.31 L279.09,1220.31 L280.21,1220.31 L281.33,1220.31 L282.44,1220.31 L283.56,1220.31 L284.68,1220.31 L285.80,1220.31 L286.91,1220.31 L288.03,1220.31 L289.15,1220.31 L290.26,1220.31 L291.38,1220.31 L292.50,1220.31 L293.61,1220.31 L294.73,1220.31 L295.85,1220.31 L296.97,1220.31 L298.08,1220.31 L299.20,1220.31 L300.32,1220.31 L301.43,1220.31 L302.55,1220.31 L303.67,1220.31 L304.78,1220.31 L305.90,1220.31 L307.02,1220.31 L308.13,1220.31 L309.25,1220.31 L310.37,1220.31 L311.49,1220.31 L312.60,1220.31 L313.72,1220.31 L314.84,1220.31 L315.95,1220.31 L317.07,1220.31 L318.19,1220.31 L319.31,1220.31 L320.42,1220.31 L321.54,1220.31 L322.66,1220.31 L323.77,1220.32 L324.89,1220.32 L326.01,1220.32 L327.12,1220.32 L328.24,1220.32 L329.36,1220.32 L330.48,1220.32 L331.59,1220.32 L332.71,1220.32 L333.83,1220.32 L334.94,1220.32 L336.06,1220.33 L337.18,1220.33 L338.29,1220.33 L339.41,1220.33 L340.53,1220.34 L341.64,1220.34 L342.76,1220.34 L343.88,1220.35 L345.00,1220.35 L346.11,1220.36 L347.23,1220.36 L348.35,1220.37 L349.46,1220.38 L350.58,1220.39 L351.70,1220.40 L352.81,1220.41 L353.93,1220.42 L355.05,1220.44 L356.17,1220.46 L357.28,1220.47 L358.40,1220.50 L359.52,1220.52 L360.63,1220.55 L361.75,1220.58 L362.87,1220.62 L363.99,1220.66 L365.10,1220.70 L366.22,1220.75 L367.34,1220.81 L368.45,1220.88 L369.57,1220.95 L370.69,1221.04 L371.80,1221.13 L372.92,1221.24 L374.04,1221.36 L375.15,1221.50 L376.27,1221.66 L377.39,1221.83 L378.51,1222.03 L379.62,1222.25 L380.74,1222.51 L381.86,1222.79 L382.97,1223.11 L384.09,1223.47 L385.21,1223.88 L386.33,1224.34 L387.44,1224.85 L388.56,1225.43 L389.68,1226.07 L390.79,1226.79 L391.91,1227.60 L393.03,1228.49 L394.14,1229.49 L395.26,1230.60 L396.38,1231.83 L397.50,1233.19 L398.61,1234.69 L399.73,1236.33 L400.85,1238.13 L401.96,1240.09 L403.08,1242.22 L404.20,1244.52 L405.31,1247.00 L406.43,1249.65 L407.55,1252.46 L408.67,1255.44 L409.78,1258.57 L410.90,1261.84 L412.02,1265.23 L413.13,1268.71 L414.25,1272.27 L415.37,1275.88 L416.48,1279.51 L417.60,1283.13 L418.72,1286.72 L419.83,1290.24 L420.95,1293.68 L422.07,1297.02 L423.19,1300.22 L424.30,1303.28 L425.42,1306.19 L426.54,1308.93 L427.65,1311.50 L428.77,1313.89 L429.89,1316.11 L431.00,1318.16 L432.12,1320.05 L433.24,1321.77 L434.36,1323.35 L435.47,1324.78 L436.59,1326.08 L437.71,1327.25 L438.82,1328.31 L439.94,1329.26 L441.06,1330.11 L442.18,1330.87 L443.29,1331.56 L444.41,1332.17 L445.53,1332.72 L446.64,1333.20 L447.76,1333.63 L448.88,1334.02 L449.99,1334.36 L451.11,1334.66 L452.23,1334.93 L453.35,1335.17 L454.46,1335.38 L455.58,1335.57 L456.70,1335.74 L457.81,1335.89 L458.93,1336.02 L460.05,1336.13 L461.16,1336.23 L462.28,1336.32 L463.40,1336.40 L464.52,1336.47 L465.63,1336.54 L466.75,1336.59 L467.87,1336.64 L468.98,1336.68 L470.10,1336.72" fill="none" stroke="#c15f9d" stroke-width="4.3" stroke-linejoin="round"/>
<path d="M135.00,1211.57 L136.12,1211.59 L137.23,1211.60 L138.35,1211.62 L139.47,1211.64 L140.59,1211.65 L141.70,1211.67 L142.82,1211.68 L143.94,1211.70 L145.05,1211.72 L146.17,1211.74 L147.29,1211.75 L148.40,1211.77 L149.52,1211.79 L150.64,1211.81 L151.75,1211.83 L152.87,1211.85 L153.99,1211.87 L155.11,1211.89 L156.22,1211.91 L157.34,1211.93 L158.46,1211.95 L159.57,1211.97 L160.69,1212.00 L161.81,1212.02 L162.93,1212.04 L164.04,1212.07 L165.16,1212.09 L166.28,1212.11 L167.39,1212.14 L168.51,1212.17 L169.63,1212.19 L170.74,1212.22 L171.86,1212.24 L172.98,1212.27 L174.10,1212.30 L175.21,1212.33 L176.33,1212.36 L177.45,1212.39 L178.56,1212.42 L179.68,1212.45 L180.80,1212.48 L181.91,1212.51 L183.03,1212.54 L184.15,1212.57 L185.26,1212.61 L186.38,1212.64 L187.50,1212.68 L188.62,1212.71 L189.73,1212.75 L190.85,1212.78 L191.97,1212.82 L193.08,1212.86 L194.20,1212.90 L195.32,1212.94 L196.44,1212.98 L197.55,1213.02 L198.67,1213.06 L199.79,1213.10 L200.90,1213.15 L202.02,1213.19 L203.14,1213.24 L204.25,1213.28 L205.37,1213.33 L206.49,1213.38 L207.60,1213.42 L208.72,1213.47 L209.84,1213.52 L210.96,1213.57 L212.07,1213.63 L213.19,1213.68 L214.31,1213.73 L215.42,1213.79 L216.54,1213.84 L217.66,1213.90 L218.78,1213.96 L219.89,1214.02 L221.01,1214.08 L222.13,1214.14 L223.24,1214.20 L224.36,1214.26 L225.48,1214.33 L226.59,1214.39 L227.71,1214.46 L228.83,1214.53 L229.94,1214.60 L231.06,1214.67 L232.18,1214.74 L233.30,1214.82 L234.41,1214.89 L235.53,1214.97 L236.65,1215.04 L237.76,1215.12 L238.88,1215.20 L240.00,1215.28 L241.12,1215.37 L242.23,1215.45 L243.35,1215.54 L244.47,1215.63 L245.58,1215.72 L246.70,1215.81 L247.82,1215.90 L248.93,1215.99 L250.05,1216.09 L251.17,1216.19 L252.29,1216.29 L253.40,1216.39 L254.52,1216.49 L255.64,1216.60 L256.75,1216.70 L257.87,1216.81 L258.99,1216.92 L260.10,1217.04 L261.22,1217.15 L262.34,1217.27 L263.45,1217.39 L264.57,1217.51 L265.69,1217.63 L266.81,1217.76 L267.92,1217.89 L269.04,1218.02 L270.16,1218.15 L271.27,1218.28 L272.39,1218.42 L273.51,1218.56 L274.62,1218.70 L275.74,1218.85 L276.86,1218.99 L277.98,1219.14 L279.09,1219.29 L280.21,1219.45 L281.33,1219.61 L282.44,1219.77 L283.56,1219.93 L284.68,1220.10 L285.80,1220.27 L286.91,1220.44 L288.03,1220.61 L289.15,1220.79 L290.26,1220.97 L291.38,1221.16 L292.50,1221.35 L293.61,1221.54 L294.73,1221.73 L295.85,1221.93 L296.97,1222.13 L298.08,1222.33 L299.20,1222.54 L300.32,1222.75 L301.43,1222.97 L302.55,1223.19 L303.67,1223.41 L304.78,1223.64 L305.90,1223.87 L307.02,1224.10 L308.13,1224.34 L309.25,1224.58 L310.37,1224.83 L311.49,1225.08 L312.60,1225.33 L313.72,1225.59 L314.84,1225.86 L315.95,1226.12 L317.07,1226.40 L318.19,1226.67 L319.31,1226.96 L320.42,1227.24 L321.54,1227.53 L322.66,1227.83 L323.77,1228.13 L324.89,1228.44 L326.01,1228.75 L327.12,1229.06 L328.24,1229.38 L329.36,1229.71 L330.48,1230.04 L331.59,1230.38 L332.71,1230.72 L333.83,1231.07 L334.94,1231.42 L336.06,1231.78 L337.18,1232.15 L338.29,1232.52 L339.41,1232.89 L340.53,1233.28 L341.64,1233.66 L342.76,1234.06 L343.88,1234.46 L345.00,1234.87 L346.11,1235.28 L347.23,1235.70 L348.35,1236.13 L349.46,1236.56 L350.58,1237.00 L351.70,1237.45 L352.81,1237.90 L353.93,1238.36 L355.05,1238.83 L356.17,1239.30 L357.28,1239.78 L358.40,1240.27 L359.52,1240.77 L360.63,1241.27 L361.75,1241.78 L362.87,1242.30 L363.99,1242.83 L365.10,1243.36 L366.22,1243.90 L367.34,1244.45 L368.45,1245.01 L369.57,1245.57 L370.69,1246.14 L371.80,1246.72 L372.92,1247.31 L374.04,1247.91 L375.15,1248.51 L376.27,1249.13 L377.39,1249.75 L378.51,1250.38 L379.62,1251.02 L380.74,1251.67 L381.86,1252.33 L382.97,1252.99 L384.09,1253.66 L385.21,1254.35 L386.33,1255.04 L387.44,1255.74 L388.56,1256.45 L389.68,1257.17 L390.79,1257.90 L391.91,1258.63 L393.03,1259.38 L394.14,1260.14 L395.26,1260.90 L396.38,1261.67 L397.50,1262.46 L398.61,1263.25 L399.73,1264.05 L400.85,1264.86 L401.96,1265.69 L403.08,1266.52 L404.20,1267.36 L405.31,1268.21 L406.43,1269.07 L407.55,1269.93 L408.67,1270.81 L409.78,1271.70 L410.90,1272.60 L412.02,1273.51 L413.13,1274.42 L414.25,1275.35 L415.37,1276.28 L416.48,1277.23 L417.60,1278.18 L418.72,1279.15 L419.83,1280.12 L420.95,1281.10 L422.07,1282.10 L423.19,1283.10 L424.30,1284.11 L425.42,1285.13 L426.54,1286.16 L427.65,1287.20 L428.77,1288.24 L429.89,1289.30 L431.00,1290.36 L432.12,1291.44 L433.24,1292.52 L434.36,1293.61 L435.47,1294.71 L436.59,1295.82 L437.71,1296.94 L438.82,1298.07 L439.94,1299.20 L441.06,1300.34 L442.18,1301.49 L443.29,1302.65 L444.41,1303.82 L445.53,1304.99 L446.64,1306.17 L447.76,1307.36 L448.88,1308.55 L449.99,1309.76 L451.11,1310.97 L452.23,1312.18 L453.35,1313.40 L454.46,1314.63 L455.58,1315.87 L456.70,1317.11 L457.81,1318.36 L458.93,1319.61 L460.05,1320.87 L461.16,1322.14 L462.28,1323.41 L463.40,1324.68 L464.52,1325.96 L465.63,1327.25 L466.75,1328.54 L467.87,1329.83 L468.98,1331.13 L470.10,1332.43" fill="none" stroke="#000" stroke-width="4.3" stroke-linejoin="round"/>
<line x1="246.70" y1="1205.00" x2="246.70" y2="1250.00" stroke="#c15f9d" stroke-width="4.2"/>
<line x1="237.70" y1="1205.00" x2="255.70" y2="1205.00" stroke="#c15f9d" stroke-width="4.2"/>
<line x1="237.70" y1="1250.00" x2="255.70" y2="1250.00" stroke="#c15f9d" stroke-width="4.2"/>
<line x1="470.10" y1="1300.00" x2="470.10" y2="1345.00" stroke="#c15f9d" stroke-width="4.2"/>
<line x1="461.10" y1="1300.00" x2="479.10" y2="1300.00" stroke="#c15f9d" stroke-width="4.2"/>
<line x1="461.10" y1="1345.00" x2="479.10" y2="1345.00" stroke="#c15f9d" stroke-width="4.2"/>
<rect x="125.80" y="1209.80" width="18.40" height="18.40" fill="#c15f9d"/>
<rect x="203.87" y="1223.70" width="18.40" height="18.40" fill="#c15f9d"/>
<rect x="237.50" y="1215.80" width="18.40" height="18.40" fill="#c15f9d"/>
<rect x="315.57" y="1237.60" width="18.40" height="18.40" fill="#c15f9d"/>
<rect x="349.20" y="1254.00" width="18.40" height="18.40" fill="#c15f9d"/>
<rect x="382.83" y="1270.00" width="18.40" height="18.40" fill="#c15f9d"/>
<rect x="427.27" y="1317.80" width="18.40" height="18.40" fill="#c15f9d"/>
<rect x="460.90" y="1310.80" width="18.40" height="18.40" fill="#c15f9d"/>
<line x1="246.70" y1="1207.00" x2="246.70" y2="1253.00" stroke="#c15f9d" stroke-width="4.2"/>
<line x1="237.70" y1="1207.00" x2="255.70" y2="1207.00" stroke="#c15f9d" stroke-width="4.2"/>
<line x1="237.70" y1="1253.00" x2="255.70" y2="1253.00" stroke="#c15f9d" stroke-width="4.2"/>
<polygon points="135.00,1229.12 144.66,1211.64 125.34,1211.64" fill="#c15f9d"/>
<polygon points="246.70,1232.12 256.36,1214.64 237.04,1214.64" fill="#c15f9d"/>
<polygon points="324.77,1237.12 334.43,1219.64 315.11,1219.64" fill="#c15f9d"/>
<polygon points="358.40,1235.12 368.06,1217.64 348.74,1217.64" fill="#c15f9d"/>
<polygon points="392.03,1237.82 401.69,1220.34 382.37,1220.34" fill="#c15f9d"/>
<polygon points="436.47,1326.62 446.13,1309.14 426.81,1309.14" fill="#c15f9d"/>
<polygon points="470.10,1345.12 479.76,1327.64 460.44,1327.64" fill="#c15f9d"/>
<line x1="135.00" y1="1180.00" x2="135.00" y2="1229.40" stroke="#000" stroke-width="4.2"/>
<line x1="126.00" y1="1180.00" x2="144.00" y2="1180.00" stroke="#000" stroke-width="4.2"/>
<line x1="126.00" y1="1229.40" x2="144.00" y2="1229.40" stroke="#000" stroke-width="4.2"/>
<line x1="213.07" y1="1203.30" x2="213.07" y2="1226.00" stroke="#000" stroke-width="4.2"/>
<line x1="204.07" y1="1203.30" x2="222.07" y2="1203.30" stroke="#000" stroke-width="4.2"/>
<line x1="204.07" y1="1226.00" x2="222.07" y2="1226.00" stroke="#000" stroke-width="4.2"/>
<line x1="246.70" y1="1208.50" x2="246.70" y2="1243.40" stroke="#000" stroke-width="4.2"/>
<line x1="237.70" y1="1208.50" x2="255.70" y2="1208.50" stroke="#000" stroke-width="4.2"/>
<line x1="237.70" y1="1243.40" x2="255.70" y2="1243.40" stroke="#000" stroke-width="4.2"/>
<line x1="324.77" y1="1219.00" x2="324.77" y2="1244.00" stroke="#000" stroke-width="4.2"/>
<line x1="315.77" y1="1219.00" x2="333.77" y2="1219.00" stroke="#000" stroke-width="4.2"/>
<line x1="315.77" y1="1244.00" x2="333.77" y2="1244.00" stroke="#000" stroke-width="4.2"/>
<line x1="358.40" y1="1220.70" x2="358.40" y2="1248.60" stroke="#000" stroke-width="4.2"/>
<line x1="349.40" y1="1220.70" x2="367.40" y2="1220.70" stroke="#000" stroke-width="4.2"/>
<line x1="349.40" y1="1248.60" x2="367.40" y2="1248.60" stroke="#000" stroke-width="4.2"/>
<line x1="470.10" y1="1325.00" x2="470.10" y2="1342.60" stroke="#000" stroke-width="4.2"/>
<line x1="461.10" y1="1325.00" x2="479.10" y2="1325.00" stroke="#000" stroke-width="4.2"/>
<line x1="461.10" y1="1342.60" x2="479.10" y2="1342.60" stroke="#000" stroke-width="4.2"/>
<circle cx="135.00" cy="1205.00" r="9.00" fill="#000"/>
<circle cx="213.07" cy="1214.80" r="9.00" fill="#000"/>
<circle cx="246.70" cy="1226.00" r="9.00" fill="#000"/>
<circle cx="324.77" cy="1231.20" r="9.00" fill="#000"/>
<circle cx="358.40" cy="1234.70" r="9.00" fill="#000"/>
<circle cx="392.03" cy="1259.00" r="9.00" fill="#000"/>
<circle cx="436.47" cy="1298.40" r="9.00" fill="#000"/>
<circle cx="470.10" cy="1333.20" r="9.00" fill="#000"/>
<line x1="152.20" y1="1084.70" x2="199.60" y2="1084.70" stroke="#000" stroke-width="4.3"/>
<circle cx="175.90" cy="1084.70" r="9.00" fill="#000"/>
<text x="228.10" y="1094.50" font-size="27.50" textLength="100.30" lengthAdjust="spacingAndGlyphs">PLKO.1</text>
<line x1="152.20" y1="1120.90" x2="199.60" y2="1120.90" stroke="#c15f9d" stroke-width="4.3"/>
<rect x="166.70" y="1111.70" width="18.40" height="18.40" fill="#c15f9d"/>
<text x="228.10" y="1131.30" font-size="27.50" textLength="136.90" lengthAdjust="spacingAndGlyphs">MYCN sh1</text>
<line x1="152.20" y1="1156.60" x2="199.60" y2="1156.60" stroke="#c15f9d" stroke-width="4.3"/>
<polygon points="175.90,1166.72 185.56,1149.24 166.24,1149.24" fill="#c15f9d"/>
<text x="228.10" y="1167.20" font-size="27.50" textLength="138.60" lengthAdjust="spacingAndGlyphs">MYCN sh2</text>
<text x="151.60" y="1317.50" font-size="27.50" textLength="122.50" lengthAdjust="spacingAndGlyphs">IC50(μM):</text>
<text x="151.60" y="1348.40" font-size="27.50" textLength="252.70" lengthAdjust="spacingAndGlyphs">PLKO.1: 8.17 ± 0.91</text>
<text x="151.60" y="1382.70" font-size="27.50" textLength="292.00" lengthAdjust="spacingAndGlyphs">MYCN sh1: 7.46 ± 1.07</text>
<text x="151.60" y="1416.70" font-size="27.50" textLength="290.20" lengthAdjust="spacingAndGlyphs">MYCN sh2: 6.73 ± 0.51</text>
<line x1="131.70" y1="1636.40" x2="131.70" y2="1984.80" stroke="#000" stroke-width="4.6"/>
<line x1="118.70" y1="1971.80" x2="469.40" y2="1971.80" stroke="#000" stroke-width="4.6"/>
<line x1="118.70" y1="1971.80" x2="131.70" y2="1971.80" stroke="#000" stroke-width="4.6"/>
<text x="112.80" y="1979.60" font-size="26.00" text-anchor="end">0.0</text>
<line x1="118.70" y1="1860.00" x2="131.70" y2="1860.00" stroke="#000" stroke-width="4.6"/>
<text x="112.80" y="1867.80" font-size="26.00" text-anchor="end">0.5</text>
<line x1="118.70" y1="1748.20" x2="131.70" y2="1748.20" stroke="#000" stroke-width="4.6"/>
<text x="112.80" y="1756.00" font-size="26.00" text-anchor="end">1.0</text>
<line x1="118.70" y1="1636.40" x2="131.70" y2="1636.40" stroke="#000" stroke-width="4.6"/>
<text x="112.80" y="1644.20" font-size="26.00" text-anchor="end">1.5</text>
<line x1="131.70" y1="1971.80" x2="131.70" y2="1984.80" stroke="#000" stroke-width="4.6"/>
<text x="131.70" y="2016.50" font-size="26.00" text-anchor="middle">0.01</text>
<line x1="243.50" y1="1971.80" x2="243.50" y2="1984.80" stroke="#000" stroke-width="4.6"/>
<text x="243.50" y="2016.50" font-size="26.00" text-anchor="middle">0.1</text>
<line x1="355.30" y1="1971.80" x2="355.30" y2="1984.80" stroke="#000" stroke-width="4.6"/>
<text x="355.30" y="2016.50" font-size="26.00" text-anchor="middle">1</text>
<line x1="467.10" y1="1971.80" x2="467.10" y2="1984.80" stroke="#000" stroke-width="4.6"/>
<text x="467.10" y="2016.50" font-size="26.00" text-anchor="middle">10</text>
<text transform="translate(52.50,1805.00) rotate(-90)" font-size="36.00" text-anchor="middle" textLength="184.60" lengthAdjust="spacingAndGlyphs">Cell viability</text>
<text x="299.00" y="2067.20" font-size="36.00" text-anchor="middle" textLength="179.70" lengthAdjust="spacingAndGlyphs">[RSL3], μM</text>
<path d="M131.70,1732.97 L132.82,1732.99 L133.94,1733.01 L135.05,1733.03 L136.17,1733.05 L137.29,1733.07 L138.41,1733.09 L139.53,1733.11 L140.64,1733.13 L141.76,1733.15 L142.88,1733.17 L144.00,1733.19 L145.12,1733.22 L146.23,1733.24 L147.35,1733.26 L148.47,1733.28 L149.59,1733.31 L150.71,1733.33 L151.82,1733.36 L152.94,1733.38 L154.06,1733.41 L155.18,1733.43 L156.30,1733.46 L157.41,1733.49 L158.53,1733.51 L159.65,1733.54 L160.77,1733.57 L161.89,1733.60 L163.00,1733.63 L164.12,1733.65 L165.24,1733.68 L166.36,1733.71 L167.48,1733.74 L168.59,1733.78 L169.71,1733.81 L170.83,1733.84 L171.95,1733.87 L173.07,1733.90 L174.18,1733.94 L175.30,1733.97 L176.42,1734.01 L177.54,1734.04 L178.66,1734.08 L179.77,1734.11 L180.89,1734.15 L182.01,1734.19 L183.13,1734.23 L184.25,1734.26 L185.36,1734.30 L186.48,1734.34 L187.60,1734.38 L188.72,1734.42 L189.84,1734.47 L190.95,1734.51 L192.07,1734.55 L193.19,1734.60 L194.31,1734.64 L195.43,1734.68 L196.54,1734.73 L197.66,1734.78 L198.78,1734.82 L199.90,1734.87 L201.02,1734.92 L202.13,1734.97 L203.25,1735.02 L204.37,1735.07 L205.49,1735.12 L206.61,1735.17 L207.72,1735.23 L208.84,1735.28 L209.96,1735.34 L211.08,1735.39 L212.20,1735.45 L213.31,1735.51 L214.43,1735.56 L215.55,1735.62 L216.67,1735.68 L217.79,1735.74 L218.90,1735.81 L220.02,1735.87 L221.14,1735.93 L222.26,1736.00 L223.38,1736.06 L224.49,1736.13 L225.61,1736.20 L226.73,1736.27 L227.85,1736.34 L228.97,1736.41 L230.08,1736.48 L231.20,1736.55 L232.32,1736.63 L233.44,1736.70 L234.56,1736.78 L235.67,1736.86 L236.79,1736.93 L237.91,1737.01 L239.03,1737.10 L240.15,1737.18 L241.26,1737.26 L242.38,1737.35 L243.50,1737.43 L244.62,1737.52 L245.74,1737.61 L246.85,1737.70 L247.97,1737.79 L249.09,1737.88 L250.21,1737.98 L251.33,1738.07 L252.44,1738.17 L253.56,1738.27 L254.68,1738.37 L255.80,1738.47 L256.92,1738.57 L258.03,1738.67 L259.15,1738.78 L260.27,1738.89 L261.39,1738.99 L262.51,1739.10 L263.62,1739.22 L264.74,1739.33 L265.86,1739.44 L266.98,1739.56 L268.10,1739.68 L269.21,1739.80 L270.33,1739.92 L271.45,1740.04 L272.57,1740.17 L273.69,1740.30 L274.80,1740.42 L275.92,1740.55 L277.04,1740.69 L278.16,1740.82 L279.28,1740.96 L280.39,1741.10 L281.51,1741.24 L282.63,1741.38 L283.75,1741.52 L284.87,1741.67 L285.98,1741.81 L287.10,1741.96 L288.22,1742.12 L289.34,1742.27 L290.46,1742.43 L291.57,1742.59 L292.69,1742.75 L293.81,1742.91 L294.93,1743.07 L296.05,1743.24 L297.16,1743.41 L298.28,1743.58 L299.40,1743.75 L300.52,1743.93 L301.64,1744.11 L302.75,1744.29 L303.87,1744.47 L304.99,1744.66 L306.11,1744.85 L307.23,1745.04 L308.34,1745.23 L309.46,1745.43 L310.58,1745.63 L311.70,1745.83 L312.82,1746.03 L313.93,1746.24 L315.05,1746.44 L316.17,1746.65 L317.29,1746.87 L318.41,1747.09 L319.52,1747.30 L320.64,1747.53 L321.76,1747.75 L322.88,1747.98 L324.00,1748.21 L325.11,1748.44 L326.23,1748.68 L327.35,1748.92 L328.47,1749.16 L329.59,1749.40 L330.70,1749.65 L331.82,1749.90 L332.94,1750.16 L334.06,1750.41 L335.18,1750.67 L336.29,1750.93 L337.41,1751.20 L338.53,1751.47 L339.65,1751.74 L340.77,1752.02 L341.88,1752.29 L343.00,1752.58 L344.12,1752.86 L345.24,1753.15 L346.36,1753.44 L347.47,1753.73 L348.59,1754.03 L349.71,1754.33 L350.83,1754.63 L351.95,1754.94 L353.06,1755.25 L354.18,1755.57 L355.30,1755.88 L356.42,1756.20 L357.54,1756.53 L358.65,1756.85 L359.77,1757.18 L360.89,1757.52 L362.01,1757.85 L363.13,1758.19 L364.24,1758.54 L365.36,1758.89 L366.48,1759.24 L367.60,1759.59 L368.72,1759.95 L369.83,1760.31 L370.95,1760.67 L372.07,1761.04 L373.19,1761.41 L374.31,1761.79 L375.42,1762.17 L376.54,1762.55 L377.66,1762.93 L378.78,1763.32 L379.90,1763.71 L381.01,1764.11 L382.13,1764.50 L383.25,1764.91 L384.37,1765.31 L385.49,1765.72 L386.60,1766.13 L387.72,1766.55 L388.84,1766.97 L389.96,1767.39 L391.08,1767.81 L392.19,1768.24 L393.31,1768.67 L394.43,1769.11 L395.55,1769.55 L396.67,1769.99 L397.78,1770.43 L398.90,1770.88 L400.02,1771.33 L401.14,1771.78 L402.26,1772.24 L403.37,1772.70 L404.49,1773.16 L405.61,1773.63 L406.73,1774.10 L407.85,1774.57 L408.96,1775.05 L410.08,1775.52 L411.20,1776.00 L412.32,1776.49 L413.44,1776.97 L414.55,1777.46 L415.67,1777.95 L416.79,1778.45 L417.91,1778.94 L419.03,1779.44 L420.14,1779.95 L421.26,1780.45 L422.38,1780.96 L423.50,1781.46 L424.62,1781.98 L425.73,1782.49 L426.85,1783.00 L427.97,1783.52 L429.09,1784.04 L430.21,1784.56 L431.32,1785.09 L432.44,1785.61 L433.56,1786.14 L434.68,1786.67 L435.80,1787.20 L436.91,1787.74 L438.03,1788.27 L439.15,1788.81 L440.27,1789.34 L441.39,1789.88 L442.50,1790.42 L443.62,1790.97 L444.74,1791.51 L445.86,1792.05 L446.98,1792.60 L448.09,1793.14 L449.21,1793.69 L450.33,1794.24 L451.45,1794.79 L452.57,1795.34 L453.68,1795.89 L454.80,1796.44 L455.92,1796.99 L457.04,1797.55 L458.16,1798.10 L459.27,1798.65 L460.39,1799.21 L461.51,1799.76 L462.63,1800.31 L463.75,1800.87 L464.86,1801.42 L465.98,1801.98 L467.10,1802.53" fill="none" stroke="#c15f9d" stroke-width="4.3" stroke-linejoin="round"/>
<path d="M131.70,1745.32 L132.82,1745.36 L133.94,1745.40 L135.05,1745.45 L136.17,1745.49 L137.29,1745.53 L138.41,1745.57 L139.53,1745.62 L140.64,1745.66 L141.76,1745.70 L142.88,1745.75 L144.00,1745.79 L145.12,1745.84 L146.23,1745.88 L147.35,1745.93 L148.47,1745.98 L149.59,1746.02 L150.71,1746.07 L151.82,1746.12 L152.94,1746.17 L154.06,1746.22 L155.18,1746.27 L156.30,1746.32 L157.41,1746.37 L158.53,1746.42 L159.65,1746.47 L160.77,1746.52 L161.89,1746.57 L163.00,1746.62 L164.12,1746.68 L165.24,1746.73 L166.36,1746.79 L167.48,1746.84 L168.59,1746.90 L169.71,1746.95 L170.83,1747.01 L171.95,1747.06 L173.07,1747.12 L174.18,1747.18 L175.30,1747.24 L176.42,1747.30 L177.54,1747.36 L178.66,1747.42 L179.77,1747.48 L180.89,1747.54 L182.01,1747.60 L183.13,1747.66 L184.25,1747.73 L185.36,1747.79 L186.48,1747.85 L187.60,1747.92 L188.72,1747.98 L189.84,1748.05 L190.95,1748.12 L192.07,1748.18 L193.19,1748.25 L194.31,1748.32 L195.43,1748.39 L196.54,1748.46 L197.66,1748.53 L198.78,1748.60 L199.90,1748.67 L201.02,1748.75 L202.13,1748.82 L203.25,1748.89 L204.37,1748.97 L205.49,1749.04 L206.61,1749.12 L207.72,1749.20 L208.84,1749.27 L209.96,1749.35 L211.08,1749.43 L212.20,1749.51 L213.31,1749.59 L214.43,1749.67 L215.55,1749.76 L216.67,1749.84 L217.79,1749.92 L218.90,1750.01 L220.02,1750.09 L221.14,1750.18 L222.26,1750.26 L223.38,1750.35 L224.49,1750.44 L225.61,1750.53 L226.73,1750.62 L227.85,1750.71 L228.97,1750.80 L230.08,1750.90 L231.20,1750.99 L232.32,1751.08 L233.44,1751.18 L234.56,1751.27 L235.67,1751.37 L236.79,1751.47 L237.91,1751.57 L239.03,1751.67 L240.15,1751.77 L241.26,1751.87 L242.38,1751.97 L243.50,1752.08 L244.62,1752.18 L245.74,1752.29 L246.85,1752.40 L247.97,1752.50 L249.09,1752.61 L250.21,1752.72 L251.33,1752.83 L252.44,1752.94 L253.56,1753.06 L254.68,1753.17 L255.80,1753.29 L256.92,1753.40 L258.03,1753.52 L259.15,1753.64 L260.27,1753.76 L261.39,1753.88 L262.51,1754.00 L263.62,1754.12 L264.74,1754.25 L265.86,1754.37 L266.98,1754.50 L268.10,1754.62 L269.21,1754.75 L270.33,1754.88 L271.45,1755.01 L272.57,1755.15 L273.69,1755.28 L274.80,1755.41 L275.92,1755.55 L277.04,1755.69 L278.16,1755.83 L279.28,1755.96 L280.39,1756.11 L281.51,1756.25 L282.63,1756.39 L283.75,1756.54 L284.87,1756.68 L285.98,1756.83 L287.10,1756.98 L288.22,1757.13 L289.34,1757.28 L290.46,1757.44 L291.57,1757.59 L292.69,1757.75 L293.81,1757.90 L294.93,1758.06 L296.05,1758.22 L297.16,1758.39 L298.28,1758.55 L299.40,1758.71 L300.52,1758.88 L301.64,1759.05 L302.75,1759.22 L303.87,1759.39 L304.99,1759.56 L306.11,1759.74 L307.23,1759.91 L308.34,1760.09 L309.46,1760.27 L310.58,1760.45 L311.70,1760.63 L312.82,1760.82 L313.93,1761.00 L315.05,1761.19 L316.17,1761.38 L317.29,1761.57 L318.41,1761.77 L319.52,1761.96 L320.64,1762.16 L321.76,1762.35 L322.88,1762.55 L324.00,1762.76 L325.11,1762.96 L326.23,1763.17 L327.35,1763.37 L328.47,1763.58 L329.59,1763.79 L330.70,1764.01 L331.82,1764.22 L332.94,1764.44 L334.06,1764.66 L335.18,1764.88 L336.29,1765.10 L337.41,1765.33 L338.53,1765.56 L339.65,1765.78 L340.77,1766.02 L341.88,1766.25 L343.00,1766.49 L344.12,1766.72 L345.24,1766.96 L346.36,1767.20 L347.47,1767.45 L348.59,1767.70 L349.71,1767.94 L350.83,1768.20 L351.95,1768.45 L353.06,1768.70 L354.18,1768.96 L355.30,1769.22 L356.42,1769.48 L357.54,1769.75 L358.65,1770.02 L359.77,1770.29 L360.89,1770.56 L362.01,1770.83 L363.13,1771.11 L364.24,1771.39 L365.36,1771.67 L366.48,1771.96 L367.60,1772.24 L368.72,1772.53 L369.83,1772.82 L370.95,1773.12 L372.07,1773.42 L373.19,1773.72 L374.31,1774.02 L375.42,1774.32 L376.54,1774.63 L377.66,1774.94 L378.78,1775.26 L379.90,1775.57 L381.01,1775.89 L382.13,1776.22 L383.25,1776.54 L384.37,1776.87 L385.49,1777.20 L386.60,1777.53 L387.72,1777.87 L388.84,1778.21 L389.96,1778.55 L391.08,1778.90 L392.19,1779.25 L393.31,1779.60 L394.43,1779.95 L395.55,1780.31 L396.67,1780.67 L397.78,1781.04 L398.90,1781.40 L400.02,1781.77 L401.14,1782.15 L402.26,1782.52 L403.37,1782.90 L404.49,1783.29 L405.61,1783.68 L406.73,1784.07 L407.85,1784.46 L408.96,1784.86 L410.08,1785.26 L411.20,1785.66 L412.32,1786.07 L413.44,1786.48 L414.55,1786.89 L415.67,1787.31 L416.79,1787.74 L417.91,1788.16 L419.03,1788.59 L420.14,1789.02 L421.26,1789.46 L422.38,1789.90 L423.50,1790.34 L424.62,1790.79 L425.73,1791.24 L426.85,1791.70 L427.97,1792.16 L429.09,1792.62 L430.21,1793.09 L431.32,1793.56 L432.44,1794.04 L433.56,1794.51 L434.68,1795.00 L435.80,1795.49 L436.91,1795.98 L438.03,1796.47 L439.15,1796.97 L440.27,1797.48 L441.39,1797.98 L442.50,1798.50 L443.62,1799.01 L444.74,1799.54 L445.86,1800.06 L446.98,1800.59 L448.09,1801.12 L449.21,1801.66 L450.33,1802.21 L451.45,1802.75 L452.57,1803.31 L453.68,1803.86 L454.80,1804.42 L455.92,1804.99 L457.04,1805.56 L458.16,1806.14 L459.27,1806.72 L460.39,1807.30 L461.51,1807.89 L462.63,1808.49 L463.75,1809.08 L464.86,1809.69 L465.98,1810.30 L467.10,1810.91" fill="none" stroke="#c15f9d" stroke-width="4.3" stroke-linejoin="round"/>
<path d="M131.70,1742.60 L132.82,1742.60 L133.94,1742.60 L135.05,1742.60 L136.17,1742.61 L137.29,1742.61 L138.41,1742.61 L139.53,1742.62 L140.64,1742.62 L141.76,1742.62 L142.88,1742.63 L144.00,1742.63 L145.12,1742.64 L146.23,1742.65 L147.35,1742.65 L148.47,1742.66 L149.59,1742.67 L150.71,1742.68 L151.82,1742.69 L152.94,1742.71 L154.06,1742.72 L155.18,1742.74 L156.30,1742.75 L157.41,1742.77 L158.53,1742.79 L159.65,1742.81 L160.77,1742.84 L161.89,1742.87 L163.00,1742.90 L164.12,1742.93 L165.24,1742.97 L166.36,1743.01 L167.48,1743.06 L168.59,1743.11 L169.71,1743.16 L170.83,1743.23 L171.95,1743.29 L173.07,1743.37 L174.18,1743.45 L175.30,1743.55 L176.42,1743.65 L177.54,1743.76 L178.66,1743.89 L179.77,1744.02 L180.89,1744.18 L182.01,1744.34 L183.13,1744.53 L184.25,1744.73 L185.36,1744.96 L186.48,1745.21 L187.60,1745.48 L188.72,1745.78 L189.84,1746.11 L190.95,1746.48 L192.07,1746.88 L193.19,1747.32 L194.31,1747.80 L195.43,1748.33 L196.54,1748.92 L197.66,1749.55 L198.78,1750.25 L199.90,1751.02 L201.02,1751.85 L202.13,1752.76 L203.25,1753.75 L204.37,1754.83 L205.49,1756.00 L206.61,1757.27 L207.72,1758.64 L208.84,1760.12 L209.96,1761.72 L211.08,1763.43 L212.20,1765.27 L213.31,1767.24 L214.43,1769.33 L215.55,1771.55 L216.67,1773.91 L217.79,1776.39 L218.90,1779.00 L220.02,1781.73 L221.14,1784.57 L222.26,1787.53 L223.38,1790.58 L224.49,1793.72 L225.61,1796.93 L226.73,1800.20 L227.85,1803.52 L228.97,1806.86 L230.08,1810.22 L231.20,1813.57 L232.32,1816.89 L233.44,1820.18 L234.56,1823.41 L235.67,1826.58 L236.79,1829.65 L237.91,1832.64 L239.03,1835.52 L240.15,1838.28 L241.26,1840.93 L242.38,1843.45 L243.50,1845.84 L244.62,1848.10 L245.74,1850.24 L246.85,1852.24 L247.97,1854.12 L249.09,1855.87 L250.21,1857.50 L251.33,1859.01 L252.44,1860.42 L253.56,1861.72 L254.68,1862.92 L255.80,1864.02 L256.92,1865.04 L258.03,1865.97 L259.15,1866.83 L260.27,1867.61 L261.39,1868.33 L262.51,1868.99 L263.62,1869.59 L264.74,1870.13 L265.86,1870.63 L266.98,1871.08 L268.10,1871.50 L269.21,1871.87 L270.33,1872.21 L271.45,1872.52 L272.57,1872.80 L273.69,1873.06 L274.80,1873.29 L275.92,1873.50 L277.04,1873.69 L278.16,1873.86 L279.28,1874.02 L280.39,1874.16 L281.51,1874.29 L282.63,1874.41 L283.75,1874.51 L284.87,1874.61 L285.98,1874.69 L287.10,1874.77 L288.22,1874.84 L289.34,1874.91 L290.46,1874.96 L291.57,1875.02 L292.69,1875.06 L293.81,1875.11 L294.93,1875.15 L296.05,1875.18 L297.16,1875.21 L298.28,1875.24 L299.40,1875.27 L300.52,1875.29 L301.64,1875.31 L302.75,1875.33 L303.87,1875.35 L304.99,1875.36 L306.11,1875.38 L307.23,1875.39 L308.34,1875.40 L309.46,1875.41 L310.58,1875.42 L311.70,1875.43 L312.82,1875.44 L313.93,1875.44 L315.05,1875.45 L316.17,1875.46 L317.29,1875.46 L318.41,1875.47 L319.52,1875.47 L320.64,1875.47 L321.76,1875.48 L322.88,1875.48 L324.00,1875.48 L325.11,1875.49 L326.23,1875.49 L327.35,1875.49 L328.47,1875.49 L329.59,1875.49 L330.70,1875.50 L331.82,1875.50 L332.94,1875.50 L334.06,1875.50 L335.18,1875.50 L336.29,1875.50 L337.41,1875.50 L338.53,1875.50 L339.65,1875.50 L340.77,1875.51 L341.88,1875.51 L343.00,1875.51 L344.12,1875.51 L345.24,1875.51 L346.36,1875.51 L347.47,1875.51 L348.59,1875.51 L349.71,1875.51 L350.83,1875.51 L351.95,1875.51 L353.06,1875.51 L354.18,1875.51 L355.30,1875.51 L356.42,1875.51 L357.54,1875.51 L358.65,1875.51 L359.77,1875.51 L360.89,1875.51 L362.01,1875.51 L363.13,1875.51 L364.24,1875.51 L365.36,1875.51 L366.48,1875.51 L367.60,1875.51 L368.72,1875.51 L369.83,1875.51 L370.95,1875.51 L372.07,1875.51 L373.19,1875.51 L374.31,1875.51 L375.42,1875.51 L376.54,1875.51 L377.66,1875.51 L378.78,1875.51 L379.90,1875.51 L381.01,1875.51 L382.13,1875.51 L383.25,1875.51 L384.37,1875.51 L385.49,1875.51 L386.60,1875.51 L387.72,1875.51 L388.84,1875.51 L389.96,1875.51 L391.08,1875.51 L392.19,1875.51 L393.31,1875.51 L394.43,1875.51 L395.55,1875.51 L396.67,1875.51 L397.78,1875.51 L398.90,1875.51 L400.02,1875.51 L401.14,1875.51 L402.26,1875.51 L403.37,1875.51 L404.49,1875.51 L405.61,1875.51 L406.73,1875.51 L407.85,1875.51 L408.96,1875.51 L410.08,1875.51 L411.20,1875.51 L412.32,1875.51 L413.44,1875.51 L414.55,1875.51 L415.67,1875.51 L416.79,1875.51 L417.91,1875.51 L419.03,1875.51 L420.14,1875.51 L421.26,1875.51 L422.38,1875.51 L423.50,1875.51 L424.62,1875.51 L425.73,1875.51 L426.85,1875.51 L427.97,1875.51 L429.09,1875.51 L430.21,1875.51 L431.32,1875.51 L432.44,1875.51 L433.56,1875.51 L434.68,1875.51 L435.80,1875.51 L436.91,1875.51 L438.03,1875.51 L439.15,1875.51 L440.27,1875.51 L441.39,1875.51 L442.50,1875.51 L443.62,1875.51 L444.74,1875.51 L445.86,1875.51 L446.98,1875.51 L448.09,1875.51 L449.21,1875.51 L450.33,1875.51 L451.45,1875.51 L452.57,1875.51 L453.68,1875.51 L454.80,1875.51 L455.92,1875.51 L457.04,1875.51 L458.16,1875.51 L459.27,1875.51 L460.39,1875.51 L461.51,1875.51 L462.63,1875.51 L463.75,1875.51 L464.86,1875.51 L465.98,1875.51 L467.10,1875.51" fill="none" stroke="#000" stroke-width="4.3" stroke-linejoin="round"/>
<line x1="131.70" y1="1726.00" x2="131.70" y2="1746.00" stroke="#c15f9d" stroke-width="4.2"/>
<line x1="122.70" y1="1726.00" x2="140.70" y2="1726.00" stroke="#c15f9d" stroke-width="4.2"/>
<line x1="122.70" y1="1746.00" x2="140.70" y2="1746.00" stroke="#c15f9d" stroke-width="4.2"/>
<line x1="209.84" y1="1676.90" x2="209.84" y2="1752.00" stroke="#c15f9d" stroke-width="4.2"/>
<line x1="200.84" y1="1676.90" x2="218.84" y2="1676.90" stroke="#c15f9d" stroke-width="4.2"/>
<line x1="200.84" y1="1752.00" x2="218.84" y2="1752.00" stroke="#c15f9d" stroke-width="4.2"/>
<line x1="243.50" y1="1726.30" x2="243.50" y2="1753.00" stroke="#c15f9d" stroke-width="4.2"/>
<line x1="234.50" y1="1726.30" x2="252.50" y2="1726.30" stroke="#c15f9d" stroke-width="4.2"/>
<line x1="234.50" y1="1753.00" x2="252.50" y2="1753.00" stroke="#c15f9d" stroke-width="4.2"/>
<line x1="321.64" y1="1745.00" x2="321.64" y2="1774.00" stroke="#c15f9d" stroke-width="4.2"/>
<line x1="312.64" y1="1745.00" x2="330.64" y2="1745.00" stroke="#c15f9d" stroke-width="4.2"/>
<line x1="312.64" y1="1774.00" x2="330.64" y2="1774.00" stroke="#c15f9d" stroke-width="4.2"/>
<line x1="355.30" y1="1726.30" x2="355.30" y2="1785.00" stroke="#c15f9d" stroke-width="4.2"/>
<line x1="346.30" y1="1726.30" x2="364.30" y2="1726.30" stroke="#c15f9d" stroke-width="4.2"/>
<line x1="346.30" y1="1785.00" x2="364.30" y2="1785.00" stroke="#c15f9d" stroke-width="4.2"/>
<line x1="388.96" y1="1751.60" x2="388.96" y2="1799.90" stroke="#c15f9d" stroke-width="4.2"/>
<line x1="379.96" y1="1751.60" x2="397.96" y2="1751.60" stroke="#c15f9d" stroke-width="4.2"/>
<line x1="379.96" y1="1799.90" x2="397.96" y2="1799.90" stroke="#c15f9d" stroke-width="4.2"/>
<line x1="433.44" y1="1766.10" x2="433.44" y2="1816.70" stroke="#c15f9d" stroke-width="4.2"/>
<line x1="424.44" y1="1766.10" x2="442.44" y2="1766.10" stroke="#c15f9d" stroke-width="4.2"/>
<line x1="424.44" y1="1816.70" x2="442.44" y2="1816.70" stroke="#c15f9d" stroke-width="4.2"/>
<line x1="467.10" y1="1769.70" x2="467.10" y2="1829.50" stroke="#c15f9d" stroke-width="4.2"/>
<line x1="458.10" y1="1769.70" x2="476.10" y2="1769.70" stroke="#c15f9d" stroke-width="4.2"/>
<line x1="458.10" y1="1829.50" x2="476.10" y2="1829.50" stroke="#c15f9d" stroke-width="4.2"/>
<rect x="122.50" y="1726.70" width="18.40" height="18.40" fill="#c15f9d"/>
<rect x="200.64" y="1706.30" width="18.40" height="18.40" fill="#c15f9d"/>
<rect x="234.30" y="1730.40" width="18.40" height="18.40" fill="#c15f9d"/>
<rect x="312.44" y="1749.70" width="18.40" height="18.40" fill="#c15f9d"/>
<rect x="346.10" y="1746.00" width="18.40" height="18.40" fill="#c15f9d"/>
<rect x="379.76" y="1769.00" width="18.40" height="18.40" fill="#c15f9d"/>
<rect x="424.24" y="1778.60" width="18.40" height="18.40" fill="#c15f9d"/>
<rect x="457.90" y="1789.50" width="18.40" height="18.40" fill="#c15f9d"/>
<line x1="131.70" y1="1725.00" x2="131.70" y2="1752.00" stroke="#c15f9d" stroke-width="4.2"/>
<line x1="122.70" y1="1725.00" x2="140.70" y2="1725.00" stroke="#c15f9d" stroke-width="4.2"/>
<line x1="122.70" y1="1752.00" x2="140.70" y2="1752.00" stroke="#c15f9d" stroke-width="4.2"/>
<line x1="243.50" y1="1727.00" x2="243.50" y2="1792.60" stroke="#c15f9d" stroke-width="4.2"/>
<line x1="234.50" y1="1727.00" x2="252.50" y2="1727.00" stroke="#c15f9d" stroke-width="4.2"/>
<line x1="234.50" y1="1792.60" x2="252.50" y2="1792.60" stroke="#c15f9d" stroke-width="4.2"/>
<line x1="321.64" y1="1745.00" x2="321.64" y2="1805.90" stroke="#c15f9d" stroke-width="4.2"/>
<line x1="312.64" y1="1745.00" x2="330.64" y2="1745.00" stroke="#c15f9d" stroke-width="4.2"/>
<line x1="312.64" y1="1805.90" x2="330.64" y2="1805.90" stroke="#c15f9d" stroke-width="4.2"/>
<line x1="355.30" y1="1737.20" x2="355.30" y2="1808.30" stroke="#c15f9d" stroke-width="4.2"/>
<line x1="346.30" y1="1737.20" x2="364.30" y2="1737.20" stroke="#c15f9d" stroke-width="4.2"/>
<line x1="346.30" y1="1808.30" x2="364.30" y2="1808.30" stroke="#c15f9d" stroke-width="4.2"/>
<line x1="388.96" y1="1755.20" x2="388.96" y2="1796.20" stroke="#c15f9d" stroke-width="4.2"/>
<line x1="379.96" y1="1755.20" x2="397.96" y2="1755.20" stroke="#c15f9d" stroke-width="4.2"/>
<line x1="379.96" y1="1796.20" x2="397.96" y2="1796.20" stroke="#c15f9d" stroke-width="4.2"/>
<line x1="433.44" y1="1772.00" x2="433.44" y2="1810.70" stroke="#c15f9d" stroke-width="4.2"/>
<line x1="424.44" y1="1772.00" x2="442.44" y2="1772.00" stroke="#c15f9d" stroke-width="4.2"/>
<line x1="424.44" y1="1810.70" x2="442.44" y2="1810.70" stroke="#c15f9d" stroke-width="4.2"/>
<line x1="467.10" y1="1771.50" x2="467.10" y2="1857.50" stroke="#c15f9d" stroke-width="4.2"/>
<line x1="458.10" y1="1771.50" x2="476.10" y2="1771.50" stroke="#c15f9d" stroke-width="4.2"/>
<line x1="458.10" y1="1857.50" x2="476.10" y2="1857.50" stroke="#c15f9d" stroke-width="4.2"/>
<polygon points="131.70,1751.12 141.36,1733.64 122.04,1733.64" fill="#c15f9d"/>
<polygon points="243.50,1766.62 253.16,1749.14 233.84,1749.14" fill="#c15f9d"/>
<polygon points="321.64,1783.42 331.30,1765.94 311.98,1765.94" fill="#c15f9d"/>
<polygon points="355.30,1773.82 364.96,1756.34 345.64,1756.34" fill="#c15f9d"/>
<polygon points="388.96,1790.72 398.62,1773.24 379.30,1773.24" fill="#c15f9d"/>
<polygon points="433.44,1803.92 443.10,1786.44 423.78,1786.44" fill="#c15f9d"/>
<polygon points="467.10,1824.42 476.76,1806.94 457.44,1806.94" fill="#c15f9d"/>
<line x1="131.70" y1="1727.20" x2="131.70" y2="1751.30" stroke="#000" stroke-width="4.2"/>
<line x1="122.70" y1="1727.20" x2="140.70" y2="1727.20" stroke="#000" stroke-width="4.2"/>
<line x1="122.70" y1="1751.30" x2="140.70" y2="1751.30" stroke="#000" stroke-width="4.2"/>
<line x1="209.84" y1="1738.60" x2="209.84" y2="1787.10" stroke="#000" stroke-width="4.2"/>
<line x1="200.84" y1="1738.60" x2="218.84" y2="1738.60" stroke="#000" stroke-width="4.2"/>
<line x1="200.84" y1="1787.10" x2="218.84" y2="1787.10" stroke="#000" stroke-width="4.2"/>
<line x1="243.50" y1="1826.50" x2="243.50" y2="1855.40" stroke="#000" stroke-width="4.2"/>
<line x1="234.50" y1="1826.50" x2="252.50" y2="1826.50" stroke="#000" stroke-width="4.2"/>
<line x1="234.50" y1="1855.40" x2="252.50" y2="1855.40" stroke="#000" stroke-width="4.2"/>
<circle cx="131.70" cy="1738.60" r="8.75" fill="#000"/>
<circle cx="209.84" cy="1762.70" r="8.75" fill="#000"/>
<circle cx="243.50" cy="1841.20" r="8.75" fill="#000"/>
<circle cx="321.64" cy="1862.20" r="8.75" fill="#000"/>
<circle cx="355.30" cy="1864.10" r="8.75" fill="#000"/>
<circle cx="388.96" cy="1862.20" r="8.75" fill="#000"/>
<circle cx="433.44" cy="1867.70" r="8.75" fill="#000"/>
<circle cx="467.10" cy="1876.70" r="8.75" fill="#000"/>
<line x1="149.10" y1="1592.00" x2="196.60" y2="1592.00" stroke="#000" stroke-width="4.3"/>
<circle cx="172.85" cy="1592.00" r="8.75" fill="#000"/>
<text x="224.80" y="1602.50" font-size="27.50" textLength="100.00" lengthAdjust="spacingAndGlyphs">PLKO.1</text>
<line x1="149.10" y1="1628.30" x2="196.60" y2="1628.30" stroke="#c15f9d" stroke-width="4.3"/>
<rect x="163.65" y="1619.10" width="18.40" height="18.40" fill="#c15f9d"/>
<text x="224.80" y="1638.50" font-size="27.50" textLength="138.30" lengthAdjust="spacingAndGlyphs">MYCN sh1</text>
<line x1="149.10" y1="1663.00" x2="196.60" y2="1663.00" stroke="#c15f9d" stroke-width="4.3"/>
<polygon points="172.85,1673.12 182.51,1655.64 163.19,1655.64" fill="#c15f9d"/>
<text x="224.80" y="1673.20" font-size="27.50" textLength="140.00" lengthAdjust="spacingAndGlyphs">MYCN sh2</text>
<text x="140.50" y="1865.80" font-size="27.50" textLength="122.50" lengthAdjust="spacingAndGlyphs">IC50(μM):</text>
<text x="140.50" y="1896.70" font-size="27.50" textLength="244.70" lengthAdjust="spacingAndGlyphs">PLKO.1: 0.07 ±0.01</text>
<text x="140.50" y="1930.90" font-size="27.50" textLength="292.50" lengthAdjust="spacingAndGlyphs">MYCN sh1: 27.4 ± 6.24</text>
<text x="140.50" y="1964.70" font-size="27.50" textLength="306.20" lengthAdjust="spacingAndGlyphs">MYCN sh2: 22.92 ± 8.71</text>
<text x="490.60" y="1822.56" font-size="32" text-anchor="middle" stroke="#000" stroke-width="1.1" stroke-linejoin="round">*</text>
<text x="505.00" y="1822.56" font-size="32" text-anchor="middle" stroke="#000" stroke-width="1.1" stroke-linejoin="round">*</text>
<text transform="translate(566.93,1062.03) scale(0.9461,1)" font-size="45.11" font-weight="bold">E</text>
<line x1="989.5" y1="1035.5" x2="989.5" y2="2154.3" stroke="#000" stroke-width="4.6" stroke-linecap="round" stroke-dasharray="0.01 13.45"/>
<line x1="1047.4" y1="1035.5" x2="1047.4" y2="2154.3" stroke="#000" stroke-width="4.6" stroke-linecap="round" stroke-dasharray="0.01 13.45"/>
<line x1="1006.90" y1="1048.20" x2="1006.90" y2="1065.20" stroke="#000" stroke-width="4.2"/>
<line x1="1029.90" y1="1048.20" x2="1029.90" y2="1065.20" stroke="#000" stroke-width="4.2"/>
<line x1="1006.90" y1="1056.70" x2="1029.90" y2="1056.70" stroke="#000" stroke-width="4.2"/>
<line x1="1006.90" y1="1081.86" x2="1006.90" y2="1098.86" stroke="#000" stroke-width="4.2"/>
<line x1="1029.90" y1="1081.86" x2="1029.90" y2="1098.86" stroke="#000" stroke-width="4.2"/>
<line x1="1006.90" y1="1090.36" x2="1029.90" y2="1090.36" stroke="#000" stroke-width="4.2"/>
<line x1="1006.90" y1="1115.52" x2="1006.90" y2="1132.52" stroke="#000" stroke-width="4.2"/>
<line x1="1029.90" y1="1115.52" x2="1029.90" y2="1132.52" stroke="#000" stroke-width="4.2"/>
<line x1="1006.90" y1="1124.02" x2="1029.90" y2="1124.02" stroke="#000" stroke-width="4.2"/>
<line x1="1006.90" y1="1149.18" x2="1006.90" y2="1166.18" stroke="#000" stroke-width="4.2"/>
<line x1="1029.90" y1="1149.18" x2="1029.90" y2="1166.18" stroke="#000" stroke-width="4.2"/>
<line x1="1006.90" y1="1157.68" x2="1029.90" y2="1157.68" stroke="#000" stroke-width="4.2"/>
<line x1="1006.90" y1="1182.84" x2="1006.90" y2="1199.84" stroke="#000" stroke-width="4.2"/>
<line x1="1029.90" y1="1182.84" x2="1029.90" y2="1199.84" stroke="#000" stroke-width="4.2"/>
<line x1="1006.90" y1="1191.34" x2="1029.90" y2="1191.34" stroke="#000" stroke-width="4.2"/>
<line x1="1006.90" y1="1216.50" x2="1006.90" y2="1233.50" stroke="#000" stroke-width="4.2"/>
<line x1="1029.90" y1="1216.50" x2="1029.90" y2="1233.50" stroke="#000" stroke-width="4.2"/>
<line x1="1006.90" y1="1225.00" x2="1029.90" y2="1225.00" stroke="#000" stroke-width="4.2"/>
<line x1="1006.90" y1="1250.16" x2="1006.90" y2="1267.16" stroke="#000" stroke-width="4.2"/>
<line x1="1029.90" y1="1250.16" x2="1029.90" y2="1267.16" stroke="#000" stroke-width="4.2"/>
<line x1="1006.90" y1="1258.66" x2="1029.90" y2="1258.66" stroke="#000" stroke-width="4.2"/>
<line x1="1006.90" y1="1283.82" x2="1006.90" y2="1300.82" stroke="#000" stroke-width="4.2"/>
<line x1="1029.90" y1="1283.82" x2="1029.90" y2="1300.82" stroke="#000" stroke-width="4.2"/>
<line x1="1006.90" y1="1292.32" x2="1029.90" y2="1292.32" stroke="#000" stroke-width="4.2"/>
<line x1="1006.90" y1="1317.48" x2="1006.90" y2="1334.48" stroke="#000" stroke-width="4.2"/>
<line x1="1029.90" y1="1317.48" x2="1029.90" y2="1334.48" stroke="#000" stroke-width="4.2"/>
<line x1="1006.90" y1="1325.98" x2="1029.90" y2="1325.98" stroke="#000" stroke-width="4.2"/>
<line x1="1006.90" y1="1351.14" x2="1006.90" y2="1368.14" stroke="#000" stroke-width="4.2"/>
<line x1="1029.90" y1="1351.14" x2="1029.90" y2="1368.14" stroke="#000" stroke-width="4.2"/>
<line x1="1006.90" y1="1359.64" x2="1029.90" y2="1359.64" stroke="#000" stroke-width="4.2"/>
<line x1="1006.90" y1="1384.80" x2="1006.90" y2="1401.80" stroke="#000" stroke-width="4.2"/>
<line x1="1029.90" y1="1384.80" x2="1029.90" y2="1401.80" stroke="#000" stroke-width="4.2"/>
<line x1="1006.90" y1="1393.30" x2="1029.90" y2="1393.30" stroke="#000" stroke-width="4.2"/>
<line x1="1006.90" y1="1418.46" x2="1006.90" y2="1435.46" stroke="#000" stroke-width="4.2"/>
<line x1="1029.90" y1="1418.46" x2="1029.90" y2="1435.46" stroke="#000" stroke-width="4.2"/>
<line x1="1006.90" y1="1426.96" x2="1029.90" y2="1426.96" stroke="#000" stroke-width="4.2"/>
<line x1="1006.90" y1="1452.12" x2="1006.90" y2="1469.12" stroke="#000" stroke-width="4.2"/>
<line x1="1029.90" y1="1452.12" x2="1029.90" y2="1469.12" stroke="#000" stroke-width="4.2"/>
<line x1="1006.90" y1="1460.62" x2="1029.90" y2="1460.62" stroke="#000" stroke-width="4.2"/>
<line x1="1006.90" y1="1485.78" x2="1006.90" y2="1502.78" stroke="#000" stroke-width="4.2"/>
<line x1="1029.90" y1="1485.78" x2="1029.90" y2="1502.78" stroke="#000" stroke-width="4.2"/>
<line x1="1006.90" y1="1494.28" x2="1029.90" y2="1494.28" stroke="#000" stroke-width="4.2"/>
<line x1="1006.90" y1="1519.44" x2="1006.90" y2="1536.44" stroke="#000" stroke-width="4.2"/>
<line x1="1029.90" y1="1519.44" x2="1029.90" y2="1536.44" stroke="#000" stroke-width="4.2"/>
<line x1="1006.90" y1="1527.94" x2="1029.90" y2="1527.94" stroke="#000" stroke-width="4.2"/>
<line x1="1006.90" y1="1553.10" x2="1006.90" y2="1570.10" stroke="#000" stroke-width="4.2"/>
<line x1="1029.90" y1="1553.10" x2="1029.90" y2="1570.10" stroke="#000" stroke-width="4.2"/>
<line x1="1006.90" y1="1561.60" x2="1029.90" y2="1561.60" stroke="#000" stroke-width="4.2"/>
<line x1="1006.90" y1="1586.76" x2="1006.90" y2="1603.76" stroke="#000" stroke-width="4.2"/>
<line x1="1029.90" y1="1586.76" x2="1029.90" y2="1603.76" stroke="#000" stroke-width="4.2"/>
<line x1="1006.90" y1="1595.26" x2="1029.90" y2="1595.26" stroke="#000" stroke-width="4.2"/>
<line x1="1006.90" y1="1620.42" x2="1006.90" y2="1637.42" stroke="#000" stroke-width="4.2"/>
<line x1="1029.90" y1="1620.42" x2="1029.90" y2="1637.42" stroke="#000" stroke-width="4.2"/>
<line x1="1006.90" y1="1628.92" x2="1029.90" y2="1628.92" stroke="#000" stroke-width="4.2"/>
<line x1="1006.90" y1="1654.08" x2="1006.90" y2="1671.08" stroke="#000" stroke-width="4.2"/>
<line x1="1029.90" y1="1654.08" x2="1029.90" y2="1671.08" stroke="#000" stroke-width="4.2"/>
<line x1="1006.90" y1="1662.58" x2="1029.90" y2="1662.58" stroke="#000" stroke-width="4.2"/>
<line x1="1006.90" y1="1687.74" x2="1006.90" y2="1704.74" stroke="#000" stroke-width="4.2"/>
<line x1="1029.90" y1="1687.74" x2="1029.90" y2="1704.74" stroke="#000" stroke-width="4.2"/>
<line x1="1006.90" y1="1696.24" x2="1029.90" y2="1696.24" stroke="#000" stroke-width="4.2"/>
<line x1="1006.90" y1="1721.40" x2="1006.90" y2="1738.40" stroke="#000" stroke-width="4.2"/>
<line x1="1029.90" y1="1721.40" x2="1029.90" y2="1738.40" stroke="#000" stroke-width="4.2"/>
<line x1="1006.90" y1="1729.90" x2="1029.90" y2="1729.90" stroke="#000" stroke-width="4.2"/>
<line x1="1006.90" y1="1755.06" x2="1006.90" y2="1772.06" stroke="#000" stroke-width="4.2"/>
<line x1="1029.90" y1="1755.06" x2="1029.90" y2="1772.06" stroke="#000" stroke-width="4.2"/>
<line x1="1006.90" y1="1763.56" x2="1029.90" y2="1763.56" stroke="#000" stroke-width="4.2"/>
<line x1="1006.90" y1="1788.72" x2="1006.90" y2="1805.72" stroke="#000" stroke-width="4.2"/>
<line x1="1029.90" y1="1788.72" x2="1029.90" y2="1805.72" stroke="#000" stroke-width="4.2"/>
<line x1="1006.90" y1="1797.22" x2="1029.90" y2="1797.22" stroke="#000" stroke-width="4.2"/>
<line x1="1006.90" y1="1822.38" x2="1006.90" y2="1839.38" stroke="#000" stroke-width="4.2"/>
<line x1="1029.90" y1="1822.38" x2="1029.90" y2="1839.38" stroke="#000" stroke-width="4.2"/>
<line x1="1006.90" y1="1830.88" x2="1029.90" y2="1830.88" stroke="#000" stroke-width="4.2"/>
<line x1="1006.90" y1="1856.04" x2="1006.90" y2="1873.04" stroke="#000" stroke-width="4.2"/>
<line x1="1029.90" y1="1856.04" x2="1029.90" y2="1873.04" stroke="#000" stroke-width="4.2"/>
<line x1="1006.90" y1="1864.54" x2="1029.90" y2="1864.54" stroke="#000" stroke-width="4.2"/>
<line x1="1006.90" y1="1889.70" x2="1006.90" y2="1906.70" stroke="#000" stroke-width="4.2"/>
<line x1="1029.90" y1="1889.70" x2="1029.90" y2="1906.70" stroke="#000" stroke-width="4.2"/>
<line x1="1006.90" y1="1898.20" x2="1029.90" y2="1898.20" stroke="#000" stroke-width="4.2"/>
<line x1="1006.90" y1="1923.36" x2="1006.90" y2="1940.36" stroke="#000" stroke-width="4.2"/>
<line x1="1029.90" y1="1923.36" x2="1029.90" y2="1940.36" stroke="#000" stroke-width="4.2"/>
<line x1="1006.90" y1="1931.86" x2="1029.90" y2="1931.86" stroke="#000" stroke-width="4.2"/>
<line x1="1006.90" y1="1957.02" x2="1006.90" y2="1974.02" stroke="#000" stroke-width="4.2"/>
<line x1="1029.90" y1="1957.02" x2="1029.90" y2="1974.02" stroke="#000" stroke-width="4.2"/>
<line x1="1006.90" y1="1965.52" x2="1029.90" y2="1965.52" stroke="#000" stroke-width="4.2"/>
<line x1="1006.90" y1="1990.68" x2="1006.90" y2="2007.68" stroke="#000" stroke-width="4.2"/>
<line x1="1029.90" y1="1990.68" x2="1029.90" y2="2007.68" stroke="#000" stroke-width="4.2"/>
<line x1="1006.90" y1="1999.18" x2="1029.90" y2="1999.18" stroke="#000" stroke-width="4.2"/>
<line x1="1006.90" y1="2024.34" x2="1006.90" y2="2041.34" stroke="#000" stroke-width="4.2"/>
<line x1="1029.90" y1="2024.34" x2="1029.90" y2="2041.34" stroke="#000" stroke-width="4.2"/>
<line x1="1006.90" y1="2032.84" x2="1029.90" y2="2032.84" stroke="#000" stroke-width="4.2"/>
<line x1="1006.90" y1="2058.00" x2="1006.90" y2="2075.00" stroke="#000" stroke-width="4.2"/>
<line x1="1029.90" y1="2058.00" x2="1029.90" y2="2075.00" stroke="#000" stroke-width="4.2"/>
<line x1="1006.90" y1="2066.50" x2="1029.90" y2="2066.50" stroke="#000" stroke-width="4.2"/>
<line x1="1006.90" y1="2091.66" x2="1006.90" y2="2108.66" stroke="#000" stroke-width="4.2"/>
<line x1="1029.90" y1="2091.66" x2="1029.90" y2="2108.66" stroke="#000" stroke-width="4.2"/>
<line x1="1006.90" y1="2100.16" x2="1029.90" y2="2100.16" stroke="#000" stroke-width="4.2"/>
<line x1="1006.90" y1="2125.32" x2="1006.90" y2="2142.32" stroke="#000" stroke-width="4.2"/>
<line x1="1029.90" y1="2125.32" x2="1029.90" y2="2142.32" stroke="#000" stroke-width="4.2"/>
<line x1="1006.90" y1="2133.82" x2="1029.90" y2="2133.82" stroke="#000" stroke-width="4.2"/>
<line x1="1159.50" y1="1056.70" x2="1236.40" y2="1056.70" stroke="#c15f9d" stroke-width="4.2"/>
<line x1="1161.50" y1="1048.20" x2="1161.50" y2="1065.20" stroke="#c15f9d" stroke-width="4.2"/>
<line x1="1234.40" y1="1048.20" x2="1234.40" y2="1065.20" stroke="#c15f9d" stroke-width="4.2"/>
<rect x="1188.30" y="1047.40" width="18.60" height="18.60" fill="#c15f9d"/>
<line x1="1109.00" y1="1090.36" x2="1168.00" y2="1090.36" stroke="#c15f9d" stroke-width="4.2"/>
<line x1="1111.00" y1="1081.86" x2="1111.00" y2="1098.86" stroke="#c15f9d" stroke-width="4.2"/>
<line x1="1166.00" y1="1081.86" x2="1166.00" y2="1098.86" stroke="#c15f9d" stroke-width="4.2"/>
<rect x="1129.30" y="1081.06" width="18.60" height="18.60" fill="#c15f9d"/>
<line x1="1086.40" y1="1124.02" x2="1151.20" y2="1124.02" stroke="#c15f9d" stroke-width="4.2"/>
<line x1="1088.40" y1="1115.52" x2="1088.40" y2="1132.52" stroke="#c15f9d" stroke-width="4.2"/>
<line x1="1149.20" y1="1115.52" x2="1149.20" y2="1132.52" stroke="#c15f9d" stroke-width="4.2"/>
<rect x="1109.70" y="1114.72" width="18.60" height="18.60" fill="#c15f9d"/>
<line x1="1079.70" y1="1157.68" x2="1118.50" y2="1157.68" stroke="#c15f9d" stroke-width="4.2"/>
<line x1="1081.70" y1="1149.18" x2="1081.70" y2="1166.18" stroke="#c15f9d" stroke-width="4.2"/>
<line x1="1116.50" y1="1149.18" x2="1116.50" y2="1166.18" stroke="#c15f9d" stroke-width="4.2"/>
<rect x="1089.10" y="1148.38" width="18.60" height="18.60" fill="#c15f9d"/>
<line x1="1052.70" y1="1191.34" x2="1124.00" y2="1191.34" stroke="#c15f9d" stroke-width="4.2"/>
<line x1="1054.70" y1="1182.84" x2="1054.70" y2="1199.84" stroke="#c15f9d" stroke-width="4.2"/>
<line x1="1122.00" y1="1182.84" x2="1122.00" y2="1199.84" stroke="#c15f9d" stroke-width="4.2"/>
<rect x="1078.90" y="1182.04" width="18.60" height="18.60" fill="#c15f9d"/>
<line x1="1066.00" y1="1225.00" x2="1088.00" y2="1225.00" stroke="#c15f9d" stroke-width="4.2"/>
<line x1="1068.00" y1="1216.50" x2="1068.00" y2="1233.50" stroke="#c15f9d" stroke-width="4.2"/>
<line x1="1086.00" y1="1216.50" x2="1086.00" y2="1233.50" stroke="#c15f9d" stroke-width="4.2"/>
<rect x="1067.70" y="1215.70" width="18.60" height="18.60" fill="#c15f9d"/>
<line x1="1050.70" y1="1258.66" x2="1094.50" y2="1258.66" stroke="#c15f9d" stroke-width="4.2"/>
<line x1="1052.70" y1="1250.16" x2="1052.70" y2="1267.16" stroke="#c15f9d" stroke-width="4.2"/>
<line x1="1092.50" y1="1250.16" x2="1092.50" y2="1267.16" stroke="#c15f9d" stroke-width="4.2"/>
<rect x="1063.50" y="1249.36" width="18.60" height="18.60" fill="#c15f9d"/>
<line x1="1060.00" y1="1292.32" x2="1082.00" y2="1292.32" stroke="#c15f9d" stroke-width="4.2"/>
<line x1="1062.00" y1="1283.82" x2="1062.00" y2="1300.82" stroke="#c15f9d" stroke-width="4.2"/>
<line x1="1080.00" y1="1283.82" x2="1080.00" y2="1300.82" stroke="#c15f9d" stroke-width="4.2"/>
<rect x="1061.70" y="1283.02" width="18.60" height="18.60" fill="#c15f9d"/>
<line x1="1049.70" y1="1325.98" x2="1081.20" y2="1325.98" stroke="#c15f9d" stroke-width="4.2"/>
<line x1="1051.70" y1="1317.48" x2="1051.70" y2="1334.48" stroke="#c15f9d" stroke-width="4.2"/>
<line x1="1079.20" y1="1317.48" x2="1079.20" y2="1334.48" stroke="#c15f9d" stroke-width="4.2"/>
<rect x="1055.70" y="1316.68" width="18.60" height="18.60" fill="#c15f9d"/>
<line x1="1038.60" y1="1359.64" x2="1083.80" y2="1359.64" stroke="#c15f9d" stroke-width="4.2"/>
<line x1="1040.60" y1="1351.14" x2="1040.60" y2="1368.14" stroke="#c15f9d" stroke-width="4.2"/>
<line x1="1081.80" y1="1351.14" x2="1081.80" y2="1368.14" stroke="#c15f9d" stroke-width="4.2"/>
<rect x="1052.20" y="1350.34" width="18.60" height="18.60" fill="#c15f9d"/>
<line x1="1034.20" y1="1393.30" x2="1076.80" y2="1393.30" stroke="#c15f9d" stroke-width="4.2"/>
<line x1="1036.20" y1="1384.80" x2="1036.20" y2="1401.80" stroke="#c15f9d" stroke-width="4.2"/>
<line x1="1074.80" y1="1384.80" x2="1074.80" y2="1401.80" stroke="#c15f9d" stroke-width="4.2"/>
<rect x="1046.40" y="1384.00" width="18.60" height="18.60" fill="#c15f9d"/>
<line x1="1043.20" y1="1426.96" x2="1065.80" y2="1426.96" stroke="#c15f9d" stroke-width="4.2"/>
<line x1="1045.20" y1="1418.46" x2="1045.20" y2="1435.46" stroke="#c15f9d" stroke-width="4.2"/>
<line x1="1063.80" y1="1418.46" x2="1063.80" y2="1435.46" stroke="#c15f9d" stroke-width="4.2"/>
<rect x="1045.20" y="1417.66" width="18.60" height="18.60" fill="#c15f9d"/>
<line x1="1036.20" y1="1460.62" x2="1069.80" y2="1460.62" stroke="#c15f9d" stroke-width="4.2"/>
<line x1="1038.20" y1="1452.12" x2="1038.20" y2="1469.12" stroke="#c15f9d" stroke-width="4.2"/>
<line x1="1067.80" y1="1452.12" x2="1067.80" y2="1469.12" stroke="#c15f9d" stroke-width="4.2"/>
<rect x="1043.70" y="1451.32" width="18.60" height="18.60" fill="#c15f9d"/>
<line x1="1037.20" y1="1494.28" x2="1067.40" y2="1494.28" stroke="#c15f9d" stroke-width="4.2"/>
<line x1="1039.20" y1="1485.78" x2="1039.20" y2="1502.78" stroke="#c15f9d" stroke-width="4.2"/>
<line x1="1065.40" y1="1485.78" x2="1065.40" y2="1502.78" stroke="#c15f9d" stroke-width="4.2"/>
<rect x="1043.00" y="1484.98" width="18.60" height="18.60" fill="#c15f9d"/>
<line x1="1032.00" y1="1527.94" x2="1059.30" y2="1527.94" stroke="#c15f9d" stroke-width="4.2"/>
<line x1="1034.00" y1="1519.44" x2="1034.00" y2="1536.44" stroke="#c15f9d" stroke-width="4.2"/>
<line x1="1057.30" y1="1519.44" x2="1057.30" y2="1536.44" stroke="#c15f9d" stroke-width="4.2"/>
<rect x="1036.30" y="1518.64" width="18.60" height="18.60" fill="#c15f9d"/>
<rect x="1035.00" y="1552.30" width="18.60" height="18.60" fill="#c15f9d"/>
<rect x="1028.70" y="1585.96" width="18.60" height="18.60" fill="#c15f9d"/>
<line x1="982.80" y1="1628.92" x2="1012.50" y2="1628.92" stroke="#c15f9d" stroke-width="4.2"/>
<line x1="984.80" y1="1620.42" x2="984.80" y2="1637.42" stroke="#c15f9d" stroke-width="4.2"/>
<line x1="1010.50" y1="1620.42" x2="1010.50" y2="1637.42" stroke="#c15f9d" stroke-width="4.2"/>
<rect x="987.70" y="1619.62" width="18.60" height="18.60" fill="#c15f9d"/>
<rect x="986.70" y="1653.28" width="18.60" height="18.60" fill="#c15f9d"/>
<rect x="984.10" y="1686.94" width="18.60" height="18.60" fill="#c15f9d"/>
<rect x="983.20" y="1720.60" width="18.60" height="18.60" fill="#c15f9d"/>
<rect x="981.90" y="1754.26" width="18.60" height="18.60" fill="#c15f9d"/>
<rect x="981.20" y="1787.92" width="18.60" height="18.60" fill="#c15f9d"/>
<line x1="972.30" y1="1830.88" x2="1004.50" y2="1830.88" stroke="#c15f9d" stroke-width="4.2"/>
<line x1="974.30" y1="1822.38" x2="974.30" y2="1839.38" stroke="#c15f9d" stroke-width="4.2"/>
<line x1="1002.50" y1="1822.38" x2="1002.50" y2="1839.38" stroke="#c15f9d" stroke-width="4.2"/>
<rect x="980.70" y="1821.58" width="18.60" height="18.60" fill="#c15f9d"/>
<rect x="975.70" y="1855.24" width="18.60" height="18.60" fill="#c15f9d"/>
<rect x="973.40" y="1888.90" width="18.60" height="18.60" fill="#c15f9d"/>
<rect x="968.30" y="1922.56" width="18.60" height="18.60" fill="#c15f9d"/>
<rect x="968.20" y="1956.22" width="18.60" height="18.60" fill="#c15f9d"/>
<rect x="968.20" y="1989.88" width="18.60" height="18.60" fill="#c15f9d"/>
<line x1="950.20" y1="2032.84" x2="998.50" y2="2032.84" stroke="#c15f9d" stroke-width="4.2"/>
<line x1="952.20" y1="2024.34" x2="952.20" y2="2041.34" stroke="#c15f9d" stroke-width="4.2"/>
<line x1="996.50" y1="2024.34" x2="996.50" y2="2041.34" stroke="#c15f9d" stroke-width="4.2"/>
<rect x="965.20" y="2023.54" width="18.60" height="18.60" fill="#c15f9d"/>
<rect x="964.00" y="2057.20" width="18.60" height="18.60" fill="#c15f9d"/>
<rect x="958.00" y="2090.86" width="18.60" height="18.60" fill="#c15f9d"/>
<rect x="955.20" y="2124.52" width="18.60" height="18.60" fill="#c15f9d"/>
<circle cx="1018.40" cy="1056.70" r="9.00" fill="#000"/>
<line x1="1006.90" y1="1048.20" x2="1006.90" y2="1065.20" stroke="#000" stroke-width="4.2"/>
<line x1="1029.90" y1="1048.20" x2="1029.90" y2="1065.20" stroke="#000" stroke-width="4.2"/>
<line x1="887.40" y1="1056.70" x2="906.30" y2="1056.70" stroke="#000" stroke-width="4.2"/>
<text x="882.20" y="1066.40" font-size="27.00" text-anchor="end" textLength="127.16" lengthAdjust="spacingAndGlyphs">Creatinine</text>
<circle cx="1018.40" cy="1090.36" r="9.00" fill="#000"/>
<line x1="1006.90" y1="1081.86" x2="1006.90" y2="1098.86" stroke="#000" stroke-width="4.2"/>
<line x1="1029.90" y1="1081.86" x2="1029.90" y2="1098.86" stroke="#000" stroke-width="4.2"/>
<line x1="887.40" y1="1090.36" x2="906.30" y2="1090.36" stroke="#000" stroke-width="4.2"/>
<text x="882.20" y="1100.06" font-size="27.00" text-anchor="end" textLength="170.56" lengthAdjust="spacingAndGlyphs">6-Azathymine</text>
<circle cx="1018.40" cy="1124.02" r="9.00" fill="#000"/>
<line x1="1006.90" y1="1115.52" x2="1006.90" y2="1132.52" stroke="#000" stroke-width="4.2"/>
<line x1="1029.90" y1="1115.52" x2="1029.90" y2="1132.52" stroke="#000" stroke-width="4.2"/>
<line x1="887.40" y1="1124.02" x2="906.30" y2="1124.02" stroke="#000" stroke-width="4.2"/>
<text x="875.40" y="1133.72" font-size="27.00" text-anchor="end" textLength="206.28" lengthAdjust="spacingAndGlyphs">Pantothenic acid</text>
<circle cx="1018.40" cy="1157.68" r="9.00" fill="#000"/>
<line x1="1006.90" y1="1149.18" x2="1006.90" y2="1166.18" stroke="#000" stroke-width="4.2"/>
<line x1="1029.90" y1="1149.18" x2="1029.90" y2="1166.18" stroke="#000" stroke-width="4.2"/>
<line x1="887.40" y1="1157.68" x2="906.30" y2="1157.68" stroke="#000" stroke-width="4.2"/>
<text x="882.20" y="1167.38" font-size="27.00" text-anchor="end" textLength="105.45" lengthAdjust="spacingAndGlyphs">L-Serine</text>
<circle cx="1018.40" cy="1191.34" r="9.00" fill="#000"/>
<line x1="1006.90" y1="1182.84" x2="1006.90" y2="1199.84" stroke="#000" stroke-width="4.2"/>
<line x1="1029.90" y1="1182.84" x2="1029.90" y2="1199.84" stroke="#000" stroke-width="4.2"/>
<line x1="887.40" y1="1191.34" x2="906.30" y2="1191.34" stroke="#000" stroke-width="4.2"/>
<text x="882.20" y="1201.04" font-size="27.00" text-anchor="end" textLength="130.24" lengthAdjust="spacingAndGlyphs">L-Tyrosine</text>
<circle cx="1018.40" cy="1225.00" r="9.00" fill="#000"/>
<line x1="1006.90" y1="1216.50" x2="1006.90" y2="1233.50" stroke="#000" stroke-width="4.2"/>
<line x1="1029.90" y1="1216.50" x2="1029.90" y2="1233.50" stroke="#000" stroke-width="4.2"/>
<line x1="887.40" y1="1225.00" x2="906.30" y2="1225.00" stroke="#000" stroke-width="4.2"/>
<text x="882.20" y="1234.70" font-size="27.00" text-anchor="end" textLength="241.92" lengthAdjust="spacingAndGlyphs">Diisooctyl phthalate</text>
<circle cx="1018.40" cy="1258.66" r="9.00" fill="#000"/>
<line x1="1006.90" y1="1250.16" x2="1006.90" y2="1267.16" stroke="#000" stroke-width="4.2"/>
<line x1="1029.90" y1="1250.16" x2="1029.90" y2="1267.16" stroke="#000" stroke-width="4.2"/>
<line x1="887.40" y1="1258.66" x2="906.30" y2="1258.66" stroke="#000" stroke-width="4.2"/>
<text x="882.20" y="1268.36" font-size="27.00" text-anchor="end" textLength="243.42" lengthAdjust="spacingAndGlyphs">γ-Aminobutyric acid</text>
<circle cx="1018.40" cy="1292.32" r="9.00" fill="#000"/>
<line x1="1006.90" y1="1283.82" x2="1006.90" y2="1300.82" stroke="#000" stroke-width="4.2"/>
<line x1="1029.90" y1="1283.82" x2="1029.90" y2="1300.82" stroke="#000" stroke-width="4.2"/>
<line x1="887.40" y1="1292.32" x2="906.30" y2="1292.32" stroke="#000" stroke-width="4.2"/>
<text x="882.20" y="1302.02" font-size="27.00" text-anchor="end" textLength="127.15" lengthAdjust="spacingAndGlyphs">D-Lactose</text>
<circle cx="1018.40" cy="1325.98" r="9.00" fill="#000"/>
<line x1="1006.90" y1="1317.48" x2="1006.90" y2="1334.48" stroke="#000" stroke-width="4.2"/>
<line x1="1029.90" y1="1317.48" x2="1029.90" y2="1334.48" stroke="#000" stroke-width="4.2"/>
<line x1="887.40" y1="1325.98" x2="906.30" y2="1325.98" stroke="#000" stroke-width="4.2"/>
<text x="882.20" y="1335.68" font-size="27.00" text-anchor="end" textLength="118.40" lengthAdjust="spacingAndGlyphs">β-Alanine</text>
<circle cx="1018.40" cy="1359.64" r="9.00" fill="#000"/>
<line x1="1006.90" y1="1351.14" x2="1006.90" y2="1368.14" stroke="#000" stroke-width="4.2"/>
<line x1="1029.90" y1="1351.14" x2="1029.90" y2="1368.14" stroke="#000" stroke-width="4.2"/>
<line x1="887.40" y1="1359.64" x2="906.30" y2="1359.64" stroke="#000" stroke-width="4.2"/>
<text x="882.20" y="1369.34" font-size="27.00" text-anchor="end" textLength="100.29" lengthAdjust="spacingAndGlyphs">L-Valine</text>
<circle cx="1018.40" cy="1393.30" r="9.00" fill="#000"/>
<line x1="1006.90" y1="1384.80" x2="1006.90" y2="1401.80" stroke="#000" stroke-width="4.2"/>
<line x1="1029.90" y1="1384.80" x2="1029.90" y2="1401.80" stroke="#000" stroke-width="4.2"/>
<line x1="887.40" y1="1393.30" x2="906.30" y2="1393.30" stroke="#000" stroke-width="4.2"/>
<text x="882.20" y="1403.00" font-size="27.00" text-anchor="end" textLength="122.53" lengthAdjust="spacingAndGlyphs">L-Leucine</text>
<circle cx="1018.40" cy="1426.96" r="9.00" fill="#000"/>
<line x1="1006.90" y1="1418.46" x2="1006.90" y2="1435.46" stroke="#000" stroke-width="4.2"/>
<line x1="1029.90" y1="1418.46" x2="1029.90" y2="1435.46" stroke="#000" stroke-width="4.2"/>
<line x1="887.40" y1="1426.96" x2="906.30" y2="1426.96" stroke="#000" stroke-width="4.2"/>
<text x="882.20" y="1436.66" font-size="27.00" text-anchor="end" textLength="200.08" lengthAdjust="spacingAndGlyphs">L-Phenylalanine</text>
<circle cx="1018.40" cy="1460.62" r="9.00" fill="#000"/>
<line x1="1006.90" y1="1452.12" x2="1006.90" y2="1469.12" stroke="#000" stroke-width="4.2"/>
<line x1="1029.90" y1="1452.12" x2="1029.90" y2="1469.12" stroke="#000" stroke-width="4.2"/>
<line x1="887.40" y1="1460.62" x2="906.30" y2="1460.62" stroke="#000" stroke-width="4.2"/>
<text x="882.20" y="1470.32" font-size="27.00" text-anchor="end" textLength="150.43" lengthAdjust="spacingAndGlyphs">L-Isoleucine</text>
<circle cx="1018.40" cy="1494.28" r="9.00" fill="#000"/>
<line x1="1006.90" y1="1485.78" x2="1006.90" y2="1502.78" stroke="#000" stroke-width="4.2"/>
<line x1="1029.90" y1="1485.78" x2="1029.90" y2="1502.78" stroke="#000" stroke-width="4.2"/>
<line x1="887.40" y1="1494.28" x2="906.30" y2="1494.28" stroke="#000" stroke-width="4.2"/>
<text x="882.20" y="1503.98" font-size="27.00" text-anchor="end" textLength="111.65" lengthAdjust="spacingAndGlyphs">L-Proline</text>
<circle cx="1018.40" cy="1527.94" r="9.00" fill="#000"/>
<line x1="1006.90" y1="1519.44" x2="1006.90" y2="1536.44" stroke="#000" stroke-width="4.2"/>
<line x1="1029.90" y1="1519.44" x2="1029.90" y2="1536.44" stroke="#000" stroke-width="4.2"/>
<line x1="887.40" y1="1527.94" x2="906.30" y2="1527.94" stroke="#000" stroke-width="4.2"/>
<text x="882.20" y="1537.64" font-size="27.00" text-anchor="end" textLength="133.35" lengthAdjust="spacingAndGlyphs">L-Cysteine</text>
<circle cx="1018.40" cy="1561.60" r="9.00" fill="#000"/>
<line x1="1006.90" y1="1553.10" x2="1006.90" y2="1570.10" stroke="#000" stroke-width="4.2"/>
<line x1="1029.90" y1="1553.10" x2="1029.90" y2="1570.10" stroke="#000" stroke-width="4.2"/>
<line x1="887.40" y1="1561.60" x2="906.30" y2="1561.60" stroke="#000" stroke-width="4.2"/>
<text x="882.20" y="1571.30" font-size="27.00" text-anchor="end" textLength="161.28" lengthAdjust="spacingAndGlyphs">L-Methionine</text>
<circle cx="1018.40" cy="1595.26" r="9.00" fill="#000"/>
<line x1="1006.90" y1="1586.76" x2="1006.90" y2="1603.76" stroke="#000" stroke-width="4.2"/>
<line x1="1029.90" y1="1586.76" x2="1029.90" y2="1603.76" stroke="#000" stroke-width="4.2"/>
<line x1="887.40" y1="1595.26" x2="906.30" y2="1595.26" stroke="#000" stroke-width="4.2"/>
<text x="882.20" y="1604.96" font-size="27.00" text-anchor="end" textLength="150.42" lengthAdjust="spacingAndGlyphs">L-Threonine</text>
<circle cx="1018.40" cy="1628.92" r="9.00" fill="#000"/>
<line x1="1006.90" y1="1620.42" x2="1006.90" y2="1637.42" stroke="#000" stroke-width="4.2"/>
<line x1="1029.90" y1="1620.42" x2="1029.90" y2="1637.42" stroke="#000" stroke-width="4.2"/>
<line x1="887.40" y1="1628.92" x2="906.30" y2="1628.92" stroke="#000" stroke-width="4.2"/>
<text x="882.20" y="1638.62" font-size="27.00" text-anchor="end" textLength="116.80" lengthAdjust="spacingAndGlyphs">D-Lyxose</text>
<circle cx="1018.40" cy="1662.58" r="9.00" fill="#000"/>
<line x1="1006.90" y1="1654.08" x2="1006.90" y2="1671.08" stroke="#000" stroke-width="4.2"/>
<line x1="1029.90" y1="1654.08" x2="1029.90" y2="1671.08" stroke="#000" stroke-width="4.2"/>
<line x1="887.40" y1="1662.58" x2="906.30" y2="1662.58" stroke="#000" stroke-width="4.2"/>
<text x="882.20" y="1672.28" font-size="27.00" text-anchor="end" textLength="105.43" lengthAdjust="spacingAndGlyphs">D-Allose</text>
<circle cx="1018.40" cy="1696.24" r="9.00" fill="#000"/>
<line x1="1006.90" y1="1687.74" x2="1006.90" y2="1704.74" stroke="#000" stroke-width="4.2"/>
<line x1="1029.90" y1="1687.74" x2="1029.90" y2="1704.74" stroke="#000" stroke-width="4.2"/>
<line x1="887.40" y1="1696.24" x2="906.30" y2="1696.24" stroke="#000" stroke-width="4.2"/>
<text x="882.20" y="1705.94" font-size="27.00" text-anchor="end" textLength="155.06" lengthAdjust="spacingAndGlyphs">Malonic acid</text>
<circle cx="1018.40" cy="1729.90" r="9.00" fill="#000"/>
<line x1="1006.90" y1="1721.40" x2="1006.90" y2="1738.40" stroke="#000" stroke-width="4.2"/>
<line x1="1029.90" y1="1721.40" x2="1029.90" y2="1738.40" stroke="#000" stroke-width="4.2"/>
<line x1="887.40" y1="1729.90" x2="906.30" y2="1729.90" stroke="#000" stroke-width="4.2"/>
<text x="882.20" y="1739.60" font-size="27.00" text-anchor="end" textLength="342.73" lengthAdjust="spacingAndGlyphs">2-Aminoethanesulfonic acid</text>
<circle cx="1018.40" cy="1763.56" r="9.00" fill="#000"/>
<line x1="1006.90" y1="1755.06" x2="1006.90" y2="1772.06" stroke="#000" stroke-width="4.2"/>
<line x1="1029.90" y1="1755.06" x2="1029.90" y2="1772.06" stroke="#000" stroke-width="4.2"/>
<line x1="887.40" y1="1763.56" x2="906.30" y2="1763.56" stroke="#000" stroke-width="4.2"/>
<text x="875.40" y="1773.26" font-size="27.00" text-anchor="end" textLength="131.81" lengthAdjust="spacingAndGlyphs">Putrescine</text>
<circle cx="1018.40" cy="1797.22" r="9.00" fill="#000"/>
<line x1="1006.90" y1="1788.72" x2="1006.90" y2="1805.72" stroke="#000" stroke-width="4.2"/>
<line x1="1029.90" y1="1788.72" x2="1029.90" y2="1805.72" stroke="#000" stroke-width="4.2"/>
<line x1="887.40" y1="1797.22" x2="906.30" y2="1797.22" stroke="#000" stroke-width="4.2"/>
<text x="875.40" y="1806.92" font-size="27.00" text-anchor="end" textLength="207.77" lengthAdjust="spacingAndGlyphs">N Acetyl aspartic</text>
<circle cx="1018.40" cy="1830.88" r="9.00" fill="#000"/>
<line x1="1006.90" y1="1822.38" x2="1006.90" y2="1839.38" stroke="#000" stroke-width="4.2"/>
<line x1="1029.90" y1="1822.38" x2="1029.90" y2="1839.38" stroke="#000" stroke-width="4.2"/>
<line x1="887.40" y1="1830.88" x2="906.30" y2="1830.88" stroke="#000" stroke-width="4.2"/>
<text x="882.20" y="1840.58" font-size="27.00" text-anchor="end" textLength="71.30" lengthAdjust="spacingAndGlyphs">Uracil</text>
<circle cx="1018.40" cy="1864.54" r="9.00" fill="#000"/>
<line x1="1006.90" y1="1856.04" x2="1006.90" y2="1873.04" stroke="#000" stroke-width="4.2"/>
<line x1="1029.90" y1="1856.04" x2="1029.90" y2="1873.04" stroke="#000" stroke-width="4.2"/>
<line x1="887.40" y1="1864.54" x2="906.30" y2="1864.54" stroke="#000" stroke-width="4.2"/>
<text x="882.20" y="1874.24" font-size="27.00" text-anchor="end" textLength="124.03" lengthAdjust="spacingAndGlyphs">Malic acid</text>
<circle cx="1018.40" cy="1898.20" r="9.00" fill="#000"/>
<line x1="1006.90" y1="1889.70" x2="1006.90" y2="1906.70" stroke="#000" stroke-width="4.2"/>
<line x1="1029.90" y1="1889.70" x2="1029.90" y2="1906.70" stroke="#000" stroke-width="4.2"/>
<line x1="887.40" y1="1898.20" x2="906.30" y2="1898.20" stroke="#000" stroke-width="4.2"/>
<text x="882.20" y="1907.90" font-size="27.00" text-anchor="end" textLength="122.47" lengthAdjust="spacingAndGlyphs">Citric acid</text>
<circle cx="1018.40" cy="1931.86" r="9.00" fill="#000"/>
<line x1="1006.90" y1="1923.36" x2="1006.90" y2="1940.36" stroke="#000" stroke-width="4.2"/>
<line x1="1029.90" y1="1923.36" x2="1029.90" y2="1940.36" stroke="#000" stroke-width="4.2"/>
<line x1="887.40" y1="1931.86" x2="906.30" y2="1931.86" stroke="#000" stroke-width="4.2"/>
<text x="882.20" y="1941.56" font-size="27.00" text-anchor="end" textLength="134.89" lengthAdjust="spacingAndGlyphs">D-Mannitol</text>
<circle cx="1018.40" cy="1965.52" r="9.00" fill="#000"/>
<line x1="1006.90" y1="1957.02" x2="1006.90" y2="1974.02" stroke="#000" stroke-width="4.2"/>
<line x1="1029.90" y1="1957.02" x2="1029.90" y2="1974.02" stroke="#000" stroke-width="4.2"/>
<line x1="887.40" y1="1965.52" x2="906.30" y2="1965.52" stroke="#000" stroke-width="4.2"/>
<text x="882.20" y="1975.22" font-size="27.00" text-anchor="end" textLength="277.55" lengthAdjust="spacingAndGlyphs">1-O-hexadecylglycerol</text>
<circle cx="1018.40" cy="1999.18" r="9.00" fill="#000"/>
<line x1="1006.90" y1="1990.68" x2="1006.90" y2="2007.68" stroke="#000" stroke-width="4.2"/>
<line x1="1029.90" y1="1990.68" x2="1029.90" y2="2007.68" stroke="#000" stroke-width="4.2"/>
<line x1="887.40" y1="1999.18" x2="906.30" y2="1999.18" stroke="#000" stroke-width="4.2"/>
<text x="882.20" y="2008.88" font-size="27.00" text-anchor="end" textLength="283.80" lengthAdjust="spacingAndGlyphs">2-Propylpentanoic acid</text>
<circle cx="1018.40" cy="2032.84" r="9.00" fill="#000"/>
<line x1="1006.90" y1="2024.34" x2="1006.90" y2="2041.34" stroke="#000" stroke-width="4.2"/>
<line x1="1029.90" y1="2024.34" x2="1029.90" y2="2041.34" stroke="#000" stroke-width="4.2"/>
<line x1="887.40" y1="2032.84" x2="906.30" y2="2032.84" stroke="#000" stroke-width="4.2"/>
<text x="875.40" y="2042.54" font-size="27.00" text-anchor="end" textLength="153.48" lengthAdjust="spacingAndGlyphs">Isocitric acid</text>
<circle cx="1018.40" cy="2066.50" r="9.00" fill="#000"/>
<line x1="1006.90" y1="2058.00" x2="1006.90" y2="2075.00" stroke="#000" stroke-width="4.2"/>
<line x1="1029.90" y1="2058.00" x2="1029.90" y2="2075.00" stroke="#000" stroke-width="4.2"/>
<line x1="887.40" y1="2066.50" x2="906.30" y2="2066.50" stroke="#000" stroke-width="4.2"/>
<text x="875.40" y="2076.20" font-size="27.00" text-anchor="end" textLength="162.82" lengthAdjust="spacingAndGlyphs">Succinic acid</text>
<circle cx="1018.40" cy="2100.16" r="9.00" fill="#000"/>
<line x1="1006.90" y1="2091.66" x2="1006.90" y2="2108.66" stroke="#000" stroke-width="4.2"/>
<line x1="1029.90" y1="2091.66" x2="1029.90" y2="2108.66" stroke="#000" stroke-width="4.2"/>
<line x1="887.40" y1="2100.16" x2="906.30" y2="2100.16" stroke="#000" stroke-width="4.2"/>
<text x="875.40" y="2109.86" font-size="27.00" text-anchor="end" textLength="169.00" lengthAdjust="spacingAndGlyphs">Glutamic acid</text>
<circle cx="1018.40" cy="2133.82" r="9.00" fill="#000"/>
<line x1="1006.90" y1="2125.32" x2="1006.90" y2="2142.32" stroke="#000" stroke-width="4.2"/>
<line x1="1029.90" y1="2125.32" x2="1029.90" y2="2142.32" stroke="#000" stroke-width="4.2"/>
<line x1="887.40" y1="2133.82" x2="906.30" y2="2133.82" stroke="#000" stroke-width="4.2"/>
<text x="882.20" y="2143.52" font-size="27.00" text-anchor="end" textLength="184.51" lengthAdjust="spacingAndGlyphs">L-Aspartic acid</text>
<line x1="906.30" y1="1032.00" x2="906.30" y2="2158.30" stroke="#000" stroke-width="4.5"/>
<line x1="904.10" y1="2156.30" x2="1356.80" y2="2156.30" stroke="#000" stroke-width="4.5"/>
<line x1="906.10" y1="2156.30" x2="906.10" y2="2175.00" stroke="#000" stroke-width="4.5"/>
<text x="906.10" y="2206.80" font-size="28.00" text-anchor="middle">-10</text>
<line x1="1018.40" y1="2156.30" x2="1018.40" y2="2175.00" stroke="#000" stroke-width="4.5"/>
<text x="1018.40" y="2206.80" font-size="28.00" text-anchor="middle">0</text>
<line x1="1130.70" y1="2156.30" x2="1130.70" y2="2175.00" stroke="#000" stroke-width="4.5"/>
<text x="1130.70" y="2206.80" font-size="28.00" text-anchor="middle">10</text>
<line x1="1243.00" y1="2156.30" x2="1243.00" y2="2175.00" stroke="#000" stroke-width="4.5"/>
<text x="1243.00" y="2206.80" font-size="28.00" text-anchor="middle">20</text>
<line x1="1355.30" y1="2156.30" x2="1355.30" y2="2175.00" stroke="#000" stroke-width="4.5"/>
<text x="1355.30" y="2206.80" font-size="28.00" text-anchor="middle">30</text>
<text x="1130.40" y="2249.00" font-size="36.50" text-anchor="middle" textLength="123.20" lengthAdjust="spacingAndGlyphs">Z-score</text>
<rect x="616.2" y="1505.3" width="585.9" height="37.9" rx="6.5" ry="6.5" fill="none" stroke="#d6180e" stroke-width="3.4"/>
<circle cx="1129.60" cy="2014.40" r="9.40" fill="#000"/>
<rect x="1120.40" y="2066.00" width="18.60" height="18.60" fill="#c15f9d"/>
<text x="1181.00" y="2025.30" font-size="28.00" textLength="78.40" lengthAdjust="spacingAndGlyphs">SHEP</text>
<text x="1181.00" y="2086.00" font-size="28.00" textLength="172.60" lengthAdjust="spacingAndGlyphs">SHEP-MYCN</text>
</svg></body></html>
